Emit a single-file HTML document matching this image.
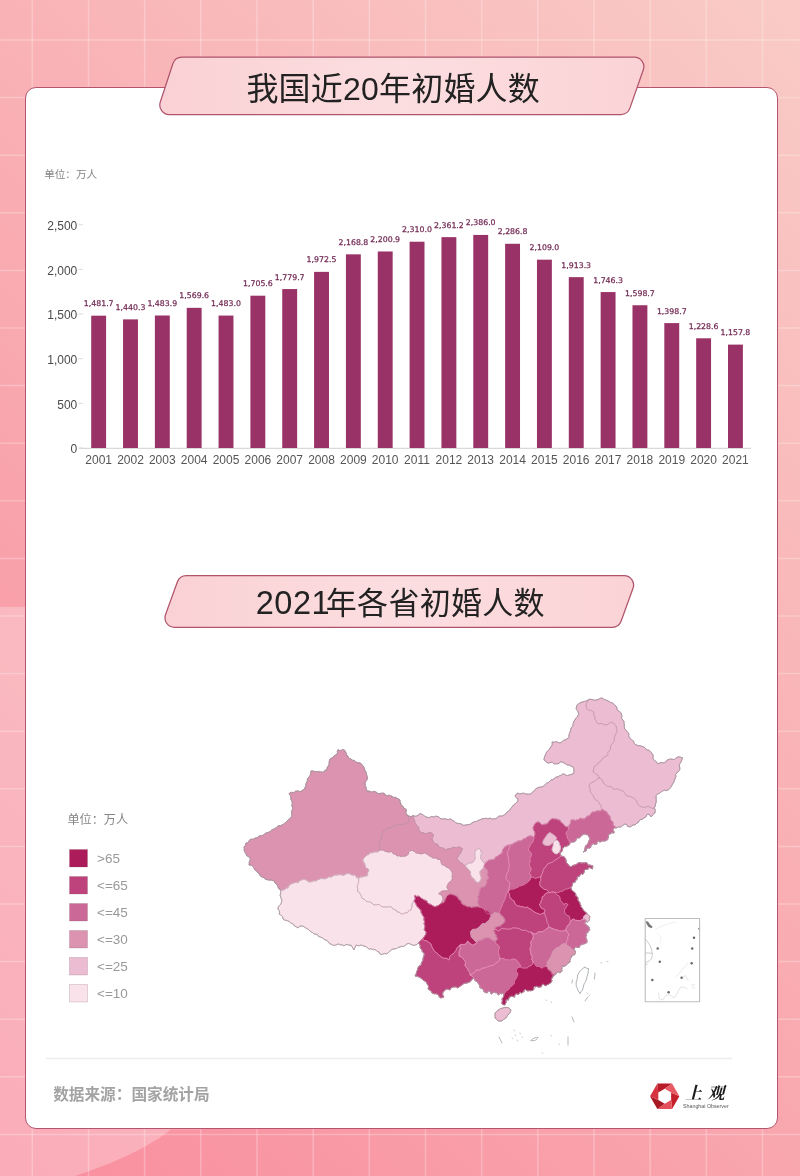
<!DOCTYPE html>
<html lang="zh"><head><meta charset="utf-8"><title>我国近20年初婚人数</title>
<style>
html,body{margin:0;padding:0}
body{width:800px;height:1176px;position:relative;overflow:hidden;background:#f9b4b7;font-family:"Liberation Sans","Noto Sans CJK SC",sans-serif}
#bg{position:absolute;left:0;top:0;width:800px;height:1176px;background:linear-gradient(224deg,rgb(249,203,198) 0%,rgb(249,142,158) 100%)}
#ov{position:absolute;left:0;top:0;width:800px;height:1176px}
#card{position:absolute;left:25px;top:87px;width:751.4px;height:1040.2px;border:1.5px solid #b4546e;border-radius:11px;background:#fff}
#main{position:absolute;left:0;top:0}
.cj{font-family:"Liberation Sans","Noto Sans CJK SC",sans-serif}
.dv{font-family:"DejaVu Sans","Liberation Sans",sans-serif}
.sf{font-family:"Liberation Serif","Noto Serif CJK SC",serif}
</style></head><body>
<div id="bg"></div>
<svg id="ov" width="800" height="1176" viewBox="0 0 800 1176">
<path d="M0 607 H200 V1129.5 H171 C150 1146 120 1161 75 1176 H0Z" fill="#fff" fill-opacity="0.27"/>
<g stroke="#fff" stroke-opacity="0.26" stroke-width="1.5">
<line x1="32.3" x2="32.3" y1="0" y2="1176"/>
<line x1="88.5" x2="88.5" y1="0" y2="1176"/>
<line x1="144.6" x2="144.6" y1="0" y2="1176"/>
<line x1="200.8" x2="200.8" y1="0" y2="1176"/>
<line x1="257.0" x2="257.0" y1="0" y2="1176"/>
<line x1="313.2" x2="313.2" y1="0" y2="1176"/>
<line x1="369.3" x2="369.3" y1="0" y2="1176"/>
<line x1="425.5" x2="425.5" y1="0" y2="1176"/>
<line x1="481.7" x2="481.7" y1="0" y2="1176"/>
<line x1="537.8" x2="537.8" y1="0" y2="1176"/>
<line x1="594.0" x2="594.0" y1="0" y2="1176"/>
<line x1="650.2" x2="650.2" y1="0" y2="1176"/>
<line x1="706.3" x2="706.3" y1="0" y2="1176"/>
<line x1="762.5" x2="762.5" y1="0" y2="1176"/>
<line y1="40.0" y2="40.0" x1="0" x2="800"/>
<line y1="97.6" y2="97.6" x1="0" x2="800"/>
<line y1="155.2" y2="155.2" x1="0" x2="800"/>
<line y1="212.8" y2="212.8" x1="0" x2="800"/>
<line y1="270.4" y2="270.4" x1="0" x2="800"/>
<line y1="328.0" y2="328.0" x1="0" x2="800"/>
<line y1="385.6" y2="385.6" x1="0" x2="800"/>
<line y1="443.2" y2="443.2" x1="0" x2="800"/>
<line y1="500.8" y2="500.8" x1="0" x2="800"/>
<line y1="558.4" y2="558.4" x1="0" x2="800"/>
<line y1="616.0" y2="616.0" x1="0" x2="800"/>
<line y1="673.6" y2="673.6" x1="0" x2="800"/>
<line y1="731.2" y2="731.2" x1="0" x2="800"/>
<line y1="788.8" y2="788.8" x1="0" x2="800"/>
<line y1="846.4" y2="846.4" x1="0" x2="800"/>
<line y1="904.0" y2="904.0" x1="0" x2="800"/>
<line y1="961.6" y2="961.6" x1="0" x2="800"/>
<line y1="1019.2" y2="1019.2" x1="0" x2="800"/>
<line y1="1076.8" y2="1076.8" x1="0" x2="800"/>
<line y1="1134.4" y2="1134.4" x1="0" x2="800"/>
</g>
</svg>
<div id="card"></div>
<svg id="main" width="800" height="1176" viewBox="0 0 800 1176">
<defs><linearGradient id="tg" x1="0" x2="1" y1="0" y2="0"><stop offset="0" stop-color="#fad1d4"/><stop offset="0.5" stop-color="#fcdee0"/><stop offset="1" stop-color="#fbd3d6"/></linearGradient></defs>
<path d="M172.85 63.74 A9.5 9.5 0 0 1 181.88 57.20 L634.32 57.20 A9.5 9.5 0 0 1 643.29 69.83 L629.92 108.13 A9.5 9.5 0 0 1 620.95 114.50 L169.32 114.50 A9.5 9.5 0 0 1 160.29 102.04 Z" fill="url(#tg)" stroke="#b0546c" stroke-width="1.25"/>
<path d="M177.43 581.77 A9.5 9.5 0 0 1 186.37 575.50 L624.07 575.50 A9.5 9.5 0 0 1 633.01 588.23 L621.17 621.03 A9.5 9.5 0 0 1 612.23 627.30 L174.53 627.30 A9.5 9.5 0 0 1 165.59 614.57 Z" fill="url(#tg)" stroke="#b0546c" stroke-width="1.25"/>
<text x="393.2" y="100" text-anchor="middle" font-size="32" letter-spacing="0.2" fill="#222" class="cj">我国近20年初婚人数</text>
<text x="255.8" y="614" font-size="32.5" letter-spacing="0.5" fill="#222" class="cj">2021<tspan x="325.8" font-size="31" letter-spacing="0.3">年各省初婚人数</tspan></text>
<text x="44.2" y="178" font-size="10.6" fill="#858585" class="cj">单位：万人</text>
<line x1="79" x2="751" y1="448.3" y2="448.3" stroke="#d0d0d0" stroke-width="1"/>
<line x1="78.5" x2="83" y1="448.0" y2="448.0" stroke="#dcdcdc" stroke-width="1"/>
<text x="77.3" y="453.2" text-anchor="end" font-size="12" fill="#4a4a4a" class="cj">0</text>
<line x1="78.5" x2="83" y1="403.4" y2="403.4" stroke="#dcdcdc" stroke-width="1"/>
<text x="77.3" y="408.6" text-anchor="end" font-size="12" fill="#4a4a4a" class="cj">500</text>
<line x1="78.5" x2="83" y1="358.7" y2="358.7" stroke="#dcdcdc" stroke-width="1"/>
<text x="77.3" y="363.9" text-anchor="end" font-size="12" fill="#4a4a4a" class="cj">1,000</text>
<line x1="78.5" x2="83" y1="314.0" y2="314.0" stroke="#dcdcdc" stroke-width="1"/>
<text x="77.3" y="319.2" text-anchor="end" font-size="12" fill="#4a4a4a" class="cj">1,500</text>
<line x1="78.5" x2="83" y1="269.4" y2="269.4" stroke="#dcdcdc" stroke-width="1"/>
<text x="77.3" y="274.6" text-anchor="end" font-size="12" fill="#4a4a4a" class="cj">2,000</text>
<line x1="78.5" x2="83" y1="224.8" y2="224.8" stroke="#dcdcdc" stroke-width="1"/>
<text x="77.3" y="229.9" text-anchor="end" font-size="12" fill="#4a4a4a" class="cj">2,500</text>
<rect x="91.20" y="315.68" width="14.90" height="132.32" fill="#993367"/>
<text x="98.7" y="306.2" text-anchor="middle" font-size="7.8" fill="#732a55" stroke="#732a55" stroke-width="0.25" class="dv">1,481.7</text>
<text x="98.7" y="464.4" text-anchor="middle" font-size="12" fill="#555" class="cj">2001</text>
<rect x="123.04" y="319.38" width="14.90" height="128.62" fill="#993367"/>
<text x="130.5" y="309.9" text-anchor="middle" font-size="7.8" fill="#732a55" stroke="#732a55" stroke-width="0.25" class="dv">1,440.3</text>
<text x="130.5" y="464.4" text-anchor="middle" font-size="12" fill="#555" class="cj">2002</text>
<rect x="154.88" y="315.49" width="14.90" height="132.51" fill="#993367"/>
<text x="162.3" y="306.0" text-anchor="middle" font-size="7.8" fill="#732a55" stroke="#732a55" stroke-width="0.25" class="dv">1,483.9</text>
<text x="162.3" y="464.4" text-anchor="middle" font-size="12" fill="#555" class="cj">2003</text>
<rect x="186.72" y="307.83" width="14.90" height="140.17" fill="#993367"/>
<text x="194.2" y="298.3" text-anchor="middle" font-size="7.8" fill="#732a55" stroke="#732a55" stroke-width="0.25" class="dv">1,569.6</text>
<text x="194.2" y="464.4" text-anchor="middle" font-size="12" fill="#555" class="cj">2004</text>
<rect x="218.56" y="315.57" width="14.90" height="132.43" fill="#993367"/>
<text x="226.0" y="306.1" text-anchor="middle" font-size="7.8" fill="#732a55" stroke="#732a55" stroke-width="0.25" class="dv">1,483.0</text>
<text x="226.0" y="464.4" text-anchor="middle" font-size="12" fill="#555" class="cj">2005</text>
<rect x="250.40" y="295.69" width="14.90" height="152.31" fill="#993367"/>
<text x="257.9" y="286.2" text-anchor="middle" font-size="7.8" fill="#732a55" stroke="#732a55" stroke-width="0.25" class="dv">1,705.6</text>
<text x="257.9" y="464.4" text-anchor="middle" font-size="12" fill="#555" class="cj">2006</text>
<rect x="282.24" y="289.07" width="14.90" height="158.93" fill="#993367"/>
<text x="289.7" y="279.6" text-anchor="middle" font-size="7.8" fill="#732a55" stroke="#732a55" stroke-width="0.25" class="dv">1,779.7</text>
<text x="289.7" y="464.4" text-anchor="middle" font-size="12" fill="#555" class="cj">2007</text>
<rect x="314.08" y="271.86" width="14.90" height="176.14" fill="#993367"/>
<text x="321.5" y="262.4" text-anchor="middle" font-size="7.8" fill="#732a55" stroke="#732a55" stroke-width="0.25" class="dv">1,972.5</text>
<text x="321.5" y="464.4" text-anchor="middle" font-size="12" fill="#555" class="cj">2008</text>
<rect x="345.92" y="254.33" width="14.90" height="193.67" fill="#993367"/>
<text x="353.4" y="244.8" text-anchor="middle" font-size="7.8" fill="#732a55" stroke="#732a55" stroke-width="0.25" class="dv">2,168.8</text>
<text x="353.4" y="464.4" text-anchor="middle" font-size="12" fill="#555" class="cj">2009</text>
<rect x="377.76" y="251.46" width="14.90" height="196.54" fill="#993367"/>
<text x="385.2" y="242.0" text-anchor="middle" font-size="7.8" fill="#732a55" stroke="#732a55" stroke-width="0.25" class="dv">2,200.9</text>
<text x="385.2" y="464.4" text-anchor="middle" font-size="12" fill="#555" class="cj">2010</text>
<rect x="409.60" y="241.72" width="14.90" height="206.28" fill="#993367"/>
<text x="417.0" y="232.2" text-anchor="middle" font-size="7.8" fill="#732a55" stroke="#732a55" stroke-width="0.25" class="dv">2,310.0</text>
<text x="417.0" y="464.4" text-anchor="middle" font-size="12" fill="#555" class="cj">2011</text>
<rect x="441.44" y="237.14" width="14.90" height="210.86" fill="#993367"/>
<text x="448.9" y="227.6" text-anchor="middle" font-size="7.8" fill="#732a55" stroke="#732a55" stroke-width="0.25" class="dv">2,361.2</text>
<text x="448.9" y="464.4" text-anchor="middle" font-size="12" fill="#555" class="cj">2012</text>
<rect x="473.28" y="234.93" width="14.90" height="213.07" fill="#993367"/>
<text x="480.7" y="225.4" text-anchor="middle" font-size="7.8" fill="#732a55" stroke="#732a55" stroke-width="0.25" class="dv">2,386.0</text>
<text x="480.7" y="464.4" text-anchor="middle" font-size="12" fill="#555" class="cj">2013</text>
<rect x="505.12" y="243.79" width="14.90" height="204.21" fill="#993367"/>
<text x="512.6" y="234.3" text-anchor="middle" font-size="7.8" fill="#732a55" stroke="#732a55" stroke-width="0.25" class="dv">2,286.8</text>
<text x="512.6" y="464.4" text-anchor="middle" font-size="12" fill="#555" class="cj">2014</text>
<rect x="536.96" y="259.67" width="14.90" height="188.33" fill="#993367"/>
<text x="544.4" y="250.2" text-anchor="middle" font-size="7.8" fill="#732a55" stroke="#732a55" stroke-width="0.25" class="dv">2,109.0</text>
<text x="544.4" y="464.4" text-anchor="middle" font-size="12" fill="#555" class="cj">2015</text>
<rect x="568.80" y="277.14" width="14.90" height="170.86" fill="#993367"/>
<text x="576.2" y="267.6" text-anchor="middle" font-size="7.8" fill="#732a55" stroke="#732a55" stroke-width="0.25" class="dv">1,913.3</text>
<text x="576.2" y="464.4" text-anchor="middle" font-size="12" fill="#555" class="cj">2016</text>
<rect x="600.64" y="292.06" width="14.90" height="155.94" fill="#993367"/>
<text x="608.1" y="282.6" text-anchor="middle" font-size="7.8" fill="#732a55" stroke="#732a55" stroke-width="0.25" class="dv">1,746.3</text>
<text x="608.1" y="464.4" text-anchor="middle" font-size="12" fill="#555" class="cj">2017</text>
<rect x="632.48" y="305.24" width="14.90" height="142.76" fill="#993367"/>
<text x="639.9" y="295.7" text-anchor="middle" font-size="7.8" fill="#732a55" stroke="#732a55" stroke-width="0.25" class="dv">1,598.7</text>
<text x="639.9" y="464.4" text-anchor="middle" font-size="12" fill="#555" class="cj">2018</text>
<rect x="664.32" y="323.10" width="14.90" height="124.90" fill="#993367"/>
<text x="671.8" y="313.6" text-anchor="middle" font-size="7.8" fill="#732a55" stroke="#732a55" stroke-width="0.25" class="dv">1,398.7</text>
<text x="671.8" y="464.4" text-anchor="middle" font-size="12" fill="#555" class="cj">2019</text>
<rect x="696.16" y="338.29" width="14.90" height="109.71" fill="#993367"/>
<text x="703.6" y="328.8" text-anchor="middle" font-size="7.8" fill="#732a55" stroke="#732a55" stroke-width="0.25" class="dv">1,228.6</text>
<text x="703.6" y="464.4" text-anchor="middle" font-size="12" fill="#555" class="cj">2020</text>
<rect x="728.00" y="344.61" width="14.90" height="103.39" fill="#993367"/>
<text x="735.4" y="335.1" text-anchor="middle" font-size="7.8" fill="#732a55" stroke="#732a55" stroke-width="0.25" class="dv">1,157.8</text>
<text x="735.4" y="464.4" text-anchor="middle" font-size="12" fill="#555" class="cj">2021</text>
<text x="67.5" y="824.2" font-size="12.1" fill="#858585" class="cj">单位：万人</text>
<rect x="69.5" y="849.5" width="18" height="17.5" fill="#ac1c5b" stroke="#7c5468" stroke-opacity="0.3" stroke-width="0.7"/>
<text x="97" y="863.3" font-size="13.5" fill="#999" class="cj">>65</text>
<rect x="69.5" y="876.5" width="18" height="17.5" fill="#be427b" stroke="#7c5468" stroke-opacity="0.3" stroke-width="0.7"/>
<text x="97" y="890.3" font-size="13.5" fill="#999" class="cj"><=65</text>
<rect x="69.5" y="903.5" width="18" height="17.5" fill="#cc6898" stroke="#7c5468" stroke-opacity="0.3" stroke-width="0.7"/>
<text x="97" y="917.3" font-size="13.5" fill="#999" class="cj"><=45</text>
<rect x="69.5" y="930.5" width="18" height="17.5" fill="#db93b0" stroke="#7c5468" stroke-opacity="0.3" stroke-width="0.7"/>
<text x="97" y="944.3" font-size="13.5" fill="#999" class="cj"><=30</text>
<rect x="69.5" y="957.5" width="18" height="17.5" fill="#ecbcd2" stroke="#7c5468" stroke-opacity="0.3" stroke-width="0.7"/>
<text x="97" y="971.3" font-size="13.5" fill="#999" class="cj"><=25</text>
<rect x="69.5" y="984.5" width="18" height="17.5" fill="#f9e2ea" stroke="#7c5468" stroke-opacity="0.3" stroke-width="0.7"/>
<text x="97" y="998.3" font-size="13.5" fill="#999" class="cj"><=10</text>
<line x1="46" x2="732" y1="1058.5" y2="1058.5" stroke="#ececec" stroke-width="1.5"/>
<text x="53.2" y="1099.5" font-size="15.65" font-weight="700" fill="#a3a3a3" class="cj">数据来源：国家统计局</text>
<g id="map" stroke-linejoin="round">
<path d="M413.0 815.6L415.0 816.3L416.3 816.1L417.9 815.4L419.8 813.8L421.6 814.1L423.2 814.8L424.7 816.3L426.0 817.0L428.4 817.5L429.9 817.4L431.4 816.5L433.5 816.9L434.9 816.8L436.0 816.0L437.3 816.5L438.6 816.7L439.6 817.6L440.7 818.8L443.1 819.0L444.5 818.6L446.0 819.0L448.3 819.7L449.5 819.0L451.5 819.3L452.3 820.5L454.3 821.2L456.0 823.0L458.3 823.5L459.9 823.6L461.4 824.2L463.2 825.3L464.7 825.2L466.0 825.0L468.6 824.6L470.6 824.1L472.0 823.0L474.1 821.8L476.7 821.4L478.1 820.4L480.0 820.0L482.1 818.7L484.6 818.5L486.6 818.2L488.0 818.9L490.0 818.0L491.7 819.1L493.5 818.9L495.9 818.7L497.6 817.5L498.4 816.3L500.0 816.0L501.9 816.1L503.1 815.6L504.2 814.9L505.7 813.8L507.0 812.0L508.8 811.1L509.8 810.0L510.7 808.6L512.0 807.0L513.6 804.9L515.0 804.0L516.0 802.8L517.8 801.5L518.0 799.0L516.1 797.6L515.0 796.0L516.2 794.2L518.0 793.0L519.4 793.9L521.3 793.8L523.3 793.0L524.8 793.7L526.0 794.0L528.3 794.2L530.6 794.1L532.4 792.2L534.0 791.0L535.1 789.5L537.0 788.0L538.7 787.4L540.1 787.1L541.7 786.9L544.0 786.0L545.4 784.2L546.5 783.2L548.2 782.8L550.0 781.0L551.0 779.9L553.1 779.8L554.6 778.0L556.5 776.9L558.0 777.0L559.4 775.7L560.8 775.5L562.5 774.2L564.0 774.0L564.9 774.5L566.3 775.3L567.7 775.6L569.0 775.0L570.6 774.6L573.0 774.0L573.9 772.1L574.0 770.0L573.6 768.2L573.1 767.0L571.8 766.3L570.5 765.8L569.0 765.0L566.8 764.8L565.2 763.5L564.0 763.0L561.8 761.8L560.0 762.0L559.3 763.2L557.6 763.8L555.6 763.8L554.0 764.0L552.5 762.4L550.9 762.3L549.6 762.8L548.0 763.0L546.2 762.1L545.1 760.7L544.0 760.0L544.3 757.9L544.7 756.1L546.0 754.0L546.4 752.3L547.6 751.1L549.1 749.6L550.0 748.0L550.8 746.8L552.0 745.6L552.3 743.7L552.0 742.0L554.4 742.3L556.2 741.6L558.4 742.5L560.0 743.0L561.4 742.2L562.3 741.7L563.6 740.2L565.0 740.0L567.0 738.8L568.2 738.0L569.1 736.4L568.9 734.7L569.4 733.7L570.0 732.0L570.8 729.8L570.9 728.0L571.7 727.2L573.0 726.0L572.9 724.6L573.5 722.8L573.8 721.2L575.0 720.0L575.6 718.3L577.6 716.7L577.8 715.2L579.0 714.0L578.3 713.0L578.0 711.3L576.9 709.9L576.0 709.0L576.5 707.2L576.8 705.3L578.6 703.8L580.0 703.0L581.7 702.1L582.9 702.0L584.4 701.4L586.3 701.0L588.0 700.0L587.8 701.7L586.7 702.6L586.0 705.0L586.4 707.3L586.6 708.8L588.0 710.0L589.6 710.3L590.8 710.2L592.6 711.6L594.0 712.0L593.9 713.7L593.7 715.0L594.8 716.7L595.0 718.0L595.0 719.6L596.5 721.2L596.6 722.6L598.0 724.0L600.1 723.4L602.4 723.8L604.0 724.4L606.0 725.0L607.4 724.5L609.0 723.5L610.5 722.5L612.0 722.0L612.9 723.0L614.0 723.7L615.0 724.6L616.0 726.0L616.6 728.4L616.8 730.4L617.0 732.0L616.0 733.3L615.3 734.8L614.7 736.8L614.0 738.0L614.5 739.1L614.2 740.8L613.5 742.6L612.0 744.0L611.1 745.0L610.2 747.1L610.6 748.9L610.0 750.0L609.2 751.0L607.8 752.4L608.0 754.4L607.0 756.0L604.6 756.6L603.8 757.9L602.0 759.0L601.1 760.2L600.3 761.8L598.9 762.0L598.0 763.0L597.5 764.4L596.1 765.3L594.9 765.9L594.0 767.0L593.7 768.5L593.5 769.8L593.0 772.0L594.3 772.5L595.1 773.6L596.7 774.3L598.0 775.0L598.6 777.1L600.0 778.0L598.5 778.0L597.0 779.0L596.3 780.0L595.1 781.1L593.0 782.0L590.7 782.9L590.1 784.4L589.0 785.0L589.4 786.9L590.3 788.9L590.1 790.4L590.0 792.0L591.0 793.0L592.3 794.3L593.7 796.1L594.0 798.0L595.1 799.8L596.8 800.4L598.3 801.6L599.0 803.0L599.9 804.0L600.8 805.5L601.1 807.6L602.0 809.0L601.3 810.4L600.0 811.0L598.6 810.9L597.3 810.6L595.8 811.4L594.7 811.9L593.0 811.7L592.1 812.3L591.1 813.3L590.0 815.0L588.9 816.0L587.1 815.9L585.7 817.8L584.5 818.7L582.6 818.9L581.2 818.2L580.0 818.0L578.6 819.8L577.1 819.6L575.6 820.4L573.2 819.7L571.0 820.0L570.5 821.8L570.5 823.2L569.0 825.3L569.0 827.0L567.6 826.9L565.9 826.8L564.0 825.0L562.8 823.5L561.4 822.5L560.3 821.2L560.0 820.0L558.3 820.0L556.5 819.1L554.0 819.0L552.2 818.7L550.7 819.7L549.1 821.0L548.0 823.0L546.3 824.1L544.8 824.2L543.1 824.5L542.0 825.0L540.9 823.8L539.5 822.3L537.0 822.0L535.6 823.2L534.4 824.3L534.0 826.1L533.0 827.0L533.2 828.4L533.7 830.7L534.6 831.6L535.0 833.0L534.9 834.6L534.0 837.0L532.0 836.3L530.4 835.8L529.1 836.1L527.7 836.5L526.0 838.0L524.5 838.8L523.1 838.9L521.5 840.7L519.6 840.8L518.0 841.0L516.3 842.1L514.7 842.6L513.6 843.4L512.5 844.1L511.3 844.4L510.0 845.0L508.1 845.0L506.2 846.1L504.9 846.6L504.0 848.0L502.7 849.4L502.4 850.8L502.1 853.0L500.7 853.8L499.4 854.6L498.0 856.0L495.6 856.9L494.8 858.7L493.4 859.6L492.1 859.6L490.0 860.0L488.7 860.2L487.6 861.0L486.3 862.4L485.0 863.5L483.5 862.5L482.5 861.0L481.2 859.2L480.6 857.5L481.0 856.2L480.8 854.8L482.0 853.5L480.9 852.2L481.0 850.0L479.5 849.2L478.8 848.0L477.6 849.3L476.0 850.0L475.1 851.2L475.0 853.0L474.7 854.9L475.0 857.0L475.2 858.8L474.0 860.6L472.7 862.5L471.0 863.0L469.5 862.9L467.5 864.0L466.2 864.9L465.0 865.6L463.8 864.9L462.5 863.7L460.8 862.8L459.9 862.0L458.7 861.0L457.5 859.6L457.0 858.0L458.5 856.4L458.7 855.0L460.3 853.7L461.0 852.0L461.7 850.5L462.5 848.7L461.2 848.1L460.0 847.0L458.6 846.8L457.0 847.8L455.0 847.5L452.7 847.3L451.3 848.3L450.0 848.7L447.8 848.6L446.0 850.0L444.3 849.0L442.6 847.8L441.5 847.7L440.0 847.5L438.6 846.6L437.9 844.5L436.6 844.1L435.0 843.7L433.4 842.0L432.5 840.0L432.3 838.4L432.6 837.3L433.7 835.0L432.1 833.3L430.0 832.5L428.1 832.6L427.2 833.5L425.0 833.7L422.8 832.5L421.0 832.7L419.8 831.1L419.0 830.0L418.6 828.5L418.8 827.2L417.0 826.2L416.0 824.0L414.8 822.7L414.7 820.7L413.8 819.0L413.5 817.8Z" fill="#ecbcd2" stroke="#ecbcd2" stroke-width="0.9"><title>内蒙古</title></path>
<path d="M588.0 700.0L589.4 699.2L591.0 699.3L592.8 699.8L595.1 700.3L596.8 699.9L598.0 699.7L600.0 698.4L601.5 698.1L602.7 698.3L604.3 699.5L606.4 700.3L608.0 701.0L609.4 701.6L610.5 702.5L612.5 702.8L613.1 703.6L614.4 704.7L616.0 706.0L616.9 707.7L616.9 709.1L618.2 710.7L620.0 712.0L621.1 712.9L621.6 714.9L621.9 716.5L621.4 717.9L622.0 719.0L623.0 720.0L624.0 721.7L623.9 723.2L624.4 724.3L624.2 726.1L624.5 727.9L624.7 729.0L626.0 730.0L627.3 731.9L628.7 733.2L628.8 734.7L628.6 736.0L630.0 738.0L631.3 739.5L632.3 740.2L633.6 741.1L634.0 743.0L635.3 744.6L636.5 744.9L638.0 745.7L640.1 745.7L641.7 746.3L644.0 747.0L645.6 748.4L646.3 749.7L647.9 750.2L649.1 750.2L651.0 752.0L651.8 753.6L653.2 754.8L652.9 757.2L653.1 758.9L654.0 760.0L655.2 761.0L656.3 761.6L657.2 763.1L658.0 764.0L659.2 763.3L661.0 762.4L662.3 762.6L664.0 763.0L664.8 762.2L666.3 761.5L667.4 759.8L668.7 759.6L670.0 759.0L672.4 759.3L674.4 759.5L676.0 758.0L678.0 757.0L679.8 757.0L681.3 757.5L682.4 757.6L681.9 759.8L681.0 762.0L680.0 763.5L679.3 764.6L679.6 766.9L679.8 768.1L679.7 769.9L679.0 770.8L678.0 772.0L676.8 772.9L675.5 774.6L676.0 776.2L675.5 777.4L674.9 779.2L674.3 780.5L674.0 782.0L673.1 783.0L672.3 784.6L671.6 786.0L670.9 787.1L669.5 788.9L668.0 790.0L666.1 790.6L664.6 790.1L663.5 790.6L661.2 791.8L660.0 793.0L658.6 793.7L657.5 794.1L656.2 795.4L656.0 797.0L656.2 799.6L656.2 801.1L656.0 803.0L655.4 804.1L655.4 806.1L654.0 808.0L652.7 808.5L650.8 807.7L649.4 806.9L648.0 806.0L646.5 806.9L644.4 807.4L642.0 807.0L639.7 806.0L638.5 804.7L637.3 803.4L637.0 802.0L635.9 800.1L634.7 798.7L633.0 798.1L632.0 797.0L630.3 796.6L628.4 796.3L627.0 795.8L626.0 795.0L624.8 793.8L624.2 792.4L622.9 791.0L621.4 790.6L620.0 790.0L618.2 789.1L616.6 788.8L615.2 789.4L614.0 789.0L612.5 788.4L611.5 786.9L609.3 786.4L608.0 787.0L607.1 786.2L605.6 784.9L604.2 784.0L603.0 782.0L602.4 780.0L600.9 779.4L600.0 778.0L598.6 777.1L598.0 775.0L596.7 774.3L595.1 773.6L594.3 772.5L593.0 772.0L593.5 769.8L593.7 768.5L594.0 767.0L594.9 765.9L596.1 765.3L597.5 764.4L598.0 763.0L598.9 762.0L600.3 761.8L601.1 760.2L602.0 759.0L603.8 757.9L604.6 756.6L607.0 756.0L608.0 754.4L607.8 752.4L609.2 751.0L610.0 750.0L610.6 748.9L610.2 747.1L611.1 745.0L612.0 744.0L613.5 742.6L614.2 740.8L614.5 739.1L614.0 738.0L614.7 736.8L615.3 734.8L616.0 733.3L617.0 732.0L616.8 730.4L616.6 728.4L616.0 726.0L615.0 724.6L614.0 723.7L612.9 723.0L612.0 722.0L610.5 722.5L609.0 723.5L607.4 724.5L606.0 725.0L604.0 724.4L602.4 723.8L600.1 723.4L598.0 724.0L596.6 722.6L596.5 721.2L595.0 719.6L595.0 718.0L594.8 716.7L593.7 715.0L593.9 713.7L594.0 712.0L592.6 711.6L590.8 710.2L589.6 710.3L588.0 710.0L586.6 708.8L586.4 707.3L586.0 705.0L586.7 702.6L587.8 701.7Z" fill="#ecbcd2" stroke="#ecbcd2" stroke-width="0.9"><title>黑龙江</title></path>
<path d="M600.0 778.0L600.9 779.4L602.4 780.0L603.0 782.0L604.2 784.0L605.6 784.9L607.1 786.2L608.0 787.0L609.3 786.4L611.5 786.9L612.5 788.4L614.0 789.0L615.2 789.4L616.6 788.8L618.2 789.1L620.0 790.0L621.4 790.6L622.9 791.0L624.2 792.4L624.8 793.8L626.0 795.0L627.0 795.8L628.4 796.3L630.3 796.6L632.0 797.0L633.0 798.1L634.7 798.7L635.9 800.1L637.0 802.0L637.3 803.4L638.5 804.7L639.7 806.0L642.0 807.0L644.4 807.4L646.5 806.9L648.0 806.0L649.4 806.9L650.8 807.7L652.7 808.5L654.0 808.0L655.0 808.9L655.2 810.5L655.0 813.0L653.7 813.8L652.7 815.2L651.0 817.0L650.1 815.1L648.0 814.0L646.8 815.0L646.1 816.7L644.0 818.0L642.2 819.3L640.0 819.7L639.0 821.0L638.5 822.3L636.8 823.1L635.0 825.0L633.1 824.9L631.8 825.9L630.0 827.0L627.5 826.3L627.1 825.0L626.0 824.0L624.5 824.3L622.8 825.3L621.6 826.6L620.0 827.0L618.3 827.1L616.0 828.0L614.6 825.9L613.0 825.0L613.2 823.5L613.0 822.0L611.8 820.8L610.8 819.8L610.2 818.0L610.0 816.0L608.7 815.2L607.3 813.1L606.8 811.9L605.0 811.0L603.7 810.3L602.0 809.0L601.1 807.6L600.8 805.5L599.9 804.0L599.0 803.0L598.3 801.6L596.8 800.4L595.1 799.8L594.0 798.0L593.7 796.1L592.3 794.3L591.0 793.0L590.0 792.0L590.1 790.4L590.3 788.9L589.4 786.9L589.0 785.0L590.1 784.4L590.7 782.9L593.0 782.0L595.1 781.1L596.3 780.0L597.0 779.0L598.5 778.0Z" fill="#ecbcd2" stroke="#ecbcd2" stroke-width="0.9"><title>吉林</title></path>
<path d="M602.0 809.0L603.7 810.3L605.0 811.0L606.8 811.9L607.3 813.1L608.7 815.2L610.0 816.0L610.2 818.0L610.8 819.8L611.8 820.8L613.0 822.0L613.2 823.5L613.0 825.0L614.6 825.9L616.0 828.0L614.7 827.7L614.0 828.5L613.1 828.9L612.9 830.0L613.1 831.0L614.1 831.5L614.0 833.0L612.8 833.1L612.2 832.6L610.9 833.0L610.3 834.1L608.9 834.1L608.4 835.3L608.1 836.6L609.0 837.0L608.2 837.8L607.8 838.5L607.8 839.6L606.4 840.3L605.0 841.0L603.8 841.0L603.0 841.0L602.0 840.9L600.9 841.8L599.3 842.0L598.7 840.7L597.8 841.3L597.2 841.7L596.9 842.7L597.0 844.0L595.4 844.2L594.2 844.5L593.4 843.6L592.4 844.1L591.6 845.3L590.6 845.4L591.0 847.0L590.3 847.9L589.6 848.1L588.3 848.0L587.4 847.9L586.8 849.0L585.7 848.9L586.5 850.0L586.0 851.0L584.8 851.3L584.0 851.5L583.0 852.0L584.6 850.8L584.7 849.1L585.0 848.0L585.6 845.7L586.7 845.0L588.0 844.0L588.4 841.9L589.0 840.6L590.0 839.0L589.2 837.1L588.0 835.0L586.3 834.5L584.0 834.0L582.4 834.8L581.4 836.1L580.1 837.3L579.0 838.0L577.3 838.0L576.3 838.8L575.8 840.8L574.0 842.0L571.5 842.0L570.0 843.0L569.3 841.2L568.6 839.8L567.0 838.0L567.4 835.9L566.2 834.3L566.0 833.0L566.8 831.9L568.0 830.4L568.5 828.9L569.0 827.0L569.0 825.3L570.5 823.2L570.5 821.8L571.0 820.0L573.2 819.7L575.6 820.4L577.1 819.6L578.6 819.8L580.0 818.0L581.2 818.2L582.6 818.9L584.5 818.7L585.7 817.8L587.1 815.9L588.9 816.0L590.0 815.0L591.1 813.3L592.1 812.3L593.0 811.7L594.7 811.9L595.8 811.4L597.3 810.6L598.6 810.9L600.0 811.0L601.3 810.4Z" fill="#cc6898" stroke="#cc6898" stroke-width="0.9"><title>辽宁</title></path>
<path d="M338.0 749.6L339.4 750.5L341.4 750.3L342.4 749.7L344.0 749.6L345.1 751.1L345.7 752.0L346.2 753.6L346.0 755.0L347.6 755.7L348.1 756.9L349.0 758.3L351.0 759.0L352.3 760.2L354.3 760.5L356.0 762.0L357.2 762.7L359.3 762.8L360.8 763.3L362.0 765.0L363.2 765.9L364.1 767.7L364.7 770.1L366.0 772.0L366.2 774.0L366.7 775.0L367.2 776.4L367.5 777.8L367.0 780.0L365.8 781.1L365.0 783.3L365.3 784.7L365.0 786.0L365.9 786.7L366.2 788.4L366.4 789.5L367.0 791.0L368.4 791.0L370.1 791.5L372.0 792.2L373.6 791.4L376.0 792.0L377.9 793.5L379.6 793.6L381.3 793.2L382.7 793.4L384.0 793.0L385.4 794.9L387.0 795.7L389.3 795.2L390.6 796.0L392.0 796.0L393.4 797.4L395.1 797.2L396.4 798.0L398.6 799.0L400.0 800.0L399.9 801.5L400.5 802.6L400.9 804.2L402.0 806.0L403.2 806.6L403.9 808.2L406.2 809.4L406.3 810.9L405.7 813.0L407.0 815.0L408.2 816.5L408.5 817.6L409.0 819.0L408.4 820.0L408.7 821.8L407.5 822.8L406.0 824.0L404.6 823.8L403.4 824.3L401.9 824.7L400.2 824.3L398.6 824.4L397.6 825.0L396.0 826.0L394.7 825.6L392.7 826.4L391.5 827.6L390.4 827.8L388.0 827.8L386.0 829.0L384.7 830.9L382.8 831.4L382.5 833.1L382.3 834.3L381.0 836.0L381.6 837.5L381.4 840.0L379.9 841.2L379.4 842.8L379.0 844.0L379.6 846.3L379.4 847.8L380.0 850.0L379.0 851.3L377.9 851.9L376.0 852.0L374.0 852.0L372.4 852.9L370.8 852.7L369.8 853.2L368.8 854.5L367.0 855.0L365.4 856.6L364.4 857.6L363.0 859.0L363.3 861.5L364.0 862.6L365.0 864.0L365.1 865.4L365.6 867.3L366.9 868.4L368.0 868.7L369.0 870.0L368.4 871.6L367.5 872.7L367.8 874.3L367.0 876.0L364.8 876.2L363.1 876.8L362.0 877.0L360.3 877.2L359.0 878.0L356.5 877.6L355.8 875.8L354.0 875.0L352.4 875.2L351.0 874.7L349.2 873.4L347.5 873.6L346.0 874.0L344.1 875.2L342.4 875.3L341.2 874.7L339.9 874.5L338.0 875.0L336.0 875.1L333.8 875.3L332.1 876.8L330.0 877.0L328.3 877.0L327.4 877.9L325.9 878.5L324.0 879.0L321.6 878.3L319.9 879.1L318.1 879.7L316.0 881.0L314.4 880.9L312.7 881.2L311.0 881.9L309.0 882.0L307.2 880.8L306.0 880.0L303.9 879.2L302.3 879.8L301.3 880.1L299.2 880.9L298.0 883.0L296.6 882.2L294.7 882.7L293.2 883.2L291.0 884.0L289.9 884.8L288.7 886.0L288.0 888.0L286.0 888.2L284.2 889.8L282.5 890.3L281.0 890.0L279.0 889.0L277.9 886.7L277.4 884.7L276.1 884.1L275.0 883.0L274.7 881.7L273.4 880.7L271.7 880.1L270.0 880.0L268.2 879.9L266.4 879.5L265.1 879.1L264.1 877.7L262.0 877.0L260.2 875.8L259.4 874.4L259.0 873.0L257.5 872.5L255.8 870.8L254.8 869.9L254.0 868.0L253.2 866.6L251.6 865.3L250.1 865.0L249.0 865.0L249.3 863.5L249.2 862.1L250.3 859.8L250.0 858.0L248.8 856.8L247.3 856.2L246.0 854.0L245.2 852.4L244.3 850.9L244.3 848.7L244.0 847.0L245.4 845.4L246.0 843.0L247.3 843.0L248.7 841.7L249.6 840.0L251.0 839.0L252.2 839.5L253.9 838.8L255.6 838.0L257.0 838.0L258.1 836.8L259.0 836.0L260.9 835.8L262.5 835.5L264.1 834.4L266.0 833.0L268.4 832.3L269.9 831.9L270.9 830.7L272.0 829.8L274.0 829.0L275.0 828.6L276.3 827.6L277.6 827.0L278.3 825.5L280.4 825.8L282.0 825.0L283.2 824.5L284.5 823.2L286.4 822.0L288.0 820.0L289.4 818.8L290.9 817.9L291.4 816.8L292.0 815.0L291.6 813.0L291.6 811.3L292.3 809.8L293.0 808.0L291.8 806.0L292.1 804.6L292.3 803.2L292.0 801.0L291.0 800.0L290.9 798.7L290.9 797.2L290.3 795.3L289.0 793.6L290.0 793.0L291.3 792.3L293.1 792.6L294.4 792.2L295.7 791.1L298.0 791.0L299.6 791.5L301.2 791.3L303.1 789.8L305.0 789.0L305.0 787.0L305.9 786.0L306.0 784.0L306.5 782.3L307.4 781.1L307.4 778.6L309.0 777.0L310.0 775.6L310.8 773.5L311.0 771.0L312.7 770.9L314.8 771.6L317.3 771.8L318.7 771.5L320.0 772.0L321.4 771.9L323.0 772.4L324.3 771.5L324.7 770.4L327.0 770.0L327.0 768.6L327.4 767.0L329.0 765.0L329.1 763.8L329.2 762.2L329.5 760.2L330.0 759.0L331.1 758.2L332.9 757.9L334.1 755.7L336.0 755.0L336.9 754.2L337.5 752.8L337.3 751.1Z" fill="#db93b0" stroke="#db93b0" stroke-width="0.9"><title>新疆</title></path>
<path d="M281.0 890.0L282.5 890.3L284.2 889.8L286.0 888.2L288.0 888.0L288.7 886.0L289.9 884.8L291.0 884.0L293.2 883.2L294.7 882.7L296.6 882.2L298.0 883.0L299.2 880.9L301.3 880.1L302.3 879.8L303.9 879.2L306.0 880.0L307.2 880.8L309.0 882.0L311.0 881.9L312.7 881.2L314.4 880.9L316.0 881.0L318.1 879.7L319.9 879.1L321.6 878.3L324.0 879.0L325.9 878.5L327.4 877.9L328.3 877.0L330.0 877.0L332.1 876.8L333.8 875.3L336.0 875.1L338.0 875.0L339.9 874.5L341.2 874.7L342.4 875.3L344.1 875.2L346.0 874.0L347.5 873.6L349.2 873.4L351.0 874.7L352.4 875.2L354.0 875.0L355.8 875.8L356.5 877.6L359.0 878.0L358.5 879.8L358.7 880.9L358.4 882.6L358.3 884.2L357.0 886.0L357.7 888.4L357.8 889.7L357.3 891.1L359.4 892.5L360.0 894.0L361.2 895.4L361.4 896.8L362.6 898.7L364.0 899.0L365.3 900.1L366.6 901.5L368.2 901.7L369.3 901.8L370.5 902.3L372.0 903.0L373.2 904.5L374.5 904.8L376.7 904.8L378.5 904.4L380.0 905.0L381.8 906.8L384.1 906.9L386.1 906.9L388.0 907.0L389.5 906.7L391.8 907.2L392.5 908.6L393.6 909.3L396.0 910.0L397.0 911.9L399.0 912.0L400.0 913.0L401.6 913.9L403.0 914.0L404.7 912.9L407.0 913.0L408.2 911.4L409.7 910.3L411.0 910.0L411.7 907.5L412.0 906.0L412.2 903.5L413.0 901.8L414.0 901.0L414.9 902.2L416.0 904.0L416.4 905.3L417.0 906.5L419.0 908.0L420.0 909.7L421.2 910.6L420.9 912.0L422.0 914.0L422.8 915.8L424.1 917.2L423.9 918.4L424.0 920.0L424.6 921.9L424.1 923.2L424.3 924.3L425.0 926.0L424.7 927.7L424.1 929.9L425.7 931.3L426.1 932.4L426.0 934.0L425.0 935.5L424.0 937.0L423.5 938.1L422.0 939.0L420.7 940.4L419.0 942.0L417.8 943.3L416.8 944.7L415.1 944.9L414.0 945.6L411.9 944.7L410.1 944.0L408.7 943.5L406.9 943.9L405.0 945.5L403.7 946.4L402.0 946.2L400.0 947.0L398.1 947.3L396.9 948.5L395.4 948.7L394.0 949.0L392.0 949.3L390.3 950.7L389.2 952.0L388.0 953.0L386.5 953.9L384.9 953.5L383.0 954.0L381.7 954.6L380.0 954.0L379.1 952.1L377.7 951.6L376.6 950.7L374.7 949.5L373.3 949.8L372.0 949.0L370.6 948.7L369.3 949.2L367.8 948.2L366.4 946.8L364.0 946.0L362.5 945.6L361.2 945.0L359.0 945.8L357.3 945.4L356.0 945.0L355.5 946.4L355.0 947.5L354.4 948.7L354.0 950.0L353.2 948.6L352.1 946.9L351.0 945.0L349.0 945.3L347.3 944.4L345.2 944.9L344.0 946.0L342.4 944.8L340.8 945.1L339.8 944.4L337.9 944.0L336.0 945.0L334.6 945.4L333.4 945.4L331.6 944.3L330.0 944.0L329.2 943.2L328.2 941.8L327.1 940.5L326.0 940.0L324.9 939.9L323.7 938.8L321.6 937.5L320.0 937.0L318.2 936.2L317.3 934.4L316.0 934.1L314.0 934.0L312.7 932.6L311.2 932.0L310.2 931.2L309.2 930.4L308.0 929.0L306.4 928.3L304.5 927.2L303.6 926.4L302.0 926.0L300.1 926.1L298.9 926.8L298.0 928.0L296.1 926.8L294.5 926.1L294.1 924.9L293.0 924.0L290.7 922.9L289.2 921.6L288.0 921.0L286.6 920.4L284.8 920.2L283.0 919.0L282.8 916.8L281.6 915.8L280.7 914.8L279.0 914.0L279.6 912.7L279.3 910.8L278.2 909.5L278.0 908.0L278.7 906.0L280.0 905.1L281.0 904.0L281.5 901.9L282.0 900.0L281.2 898.8L280.9 897.4L280.0 895.0L280.9 893.0L280.5 891.4Z" fill="#f9e2ea" stroke="#f9e2ea" stroke-width="0.9"><title>西藏</title></path>
<path d="M380.0 850.0L382.6 849.9L384.7 850.9L386.0 851.4L388.0 852.0L390.2 851.9L391.7 851.6L392.7 852.7L393.2 853.8L395.0 854.0L396.0 855.0L397.4 855.9L399.3 855.7L400.9 856.5L403.0 856.0L404.7 856.4L405.8 855.8L407.5 855.0L408.6 853.4L408.5 851.8L410.6 850.6L412.4 850.4L414.3 851.4L415.8 852.9L417.5 853.0L419.2 853.5L420.5 853.8L421.8 853.7L423.3 853.5L425.0 852.5L426.1 854.0L427.5 854.2L429.4 855.9L431.5 856.6L432.5 858.0L434.8 857.9L436.1 858.0L437.4 859.2L439.5 859.4L441.0 861.0L441.4 863.6L442.6 865.0L444.9 865.6L446.0 866.9L447.5 867.5L449.9 868.5L450.4 869.7L451.1 870.8L452.2 872.6L452.5 875.0L452.0 876.6L452.5 878.7L451.5 880.3L450.0 882.0L448.6 882.9L447.9 884.5L447.2 885.9L447.0 888.0L448.0 889.2L449.0 890.0L447.3 890.4L445.0 891.0L443.1 890.7L441.6 891.5L440.3 892.3L438.7 893.7L440.0 894.2L441.5 895.2L442.3 896.3L443.0 898.0L443.0 899.7L442.4 900.7L441.7 902.9L440.0 904.0L438.8 905.3L437.0 906.0L435.1 906.8L433.0 906.0L431.6 904.9L430.6 904.4L429.0 904.0L427.3 902.6L427.1 901.3L425.7 900.4L424.0 900.0L422.7 899.0L421.6 898.5L420.0 897.0L418.2 896.1L416.7 896.5L415.0 895.0L414.8 896.9L415.3 898.8L414.0 901.0L413.0 901.8L412.2 903.5L412.0 906.0L411.7 907.5L411.0 910.0L409.7 910.3L408.2 911.4L407.0 913.0L404.7 912.9L403.0 914.0L401.6 913.9L400.0 913.0L399.0 912.0L397.0 911.9L396.0 910.0L393.6 909.3L392.5 908.6L391.8 907.2L389.5 906.7L388.0 907.0L386.1 906.9L384.1 906.9L381.8 906.8L380.0 905.0L378.5 904.4L376.7 904.8L374.5 904.8L373.2 904.5L372.0 903.0L370.5 902.3L369.3 901.8L368.2 901.7L366.6 901.5L365.3 900.1L364.0 899.0L362.6 898.7L361.4 896.8L361.2 895.4L360.0 894.0L359.4 892.5L357.3 891.1L357.8 889.7L357.7 888.4L357.0 886.0L358.3 884.2L358.4 882.6L358.7 880.9L358.5 879.8L359.0 878.0L360.3 877.2L362.0 877.0L363.1 876.8L364.8 876.2L367.0 876.0L367.8 874.3L367.5 872.7L368.4 871.6L369.0 870.0L368.0 868.7L366.9 868.4L365.6 867.3L365.1 865.4L365.0 864.0L364.0 862.6L363.3 861.5L363.0 859.0L364.4 857.6L365.4 856.6L367.0 855.0L368.8 854.5L369.8 853.2L370.8 852.7L372.4 852.9L374.0 852.0L376.0 852.0L377.9 851.9L379.0 851.3Z" fill="#f9e2ea" stroke="#f9e2ea" stroke-width="0.9"><title>青海</title></path>
<path d="M407.0 815.0L408.4 815.8L409.6 816.3L411.3 816.6L413.0 815.6L413.5 817.8L413.8 819.0L414.7 820.7L414.8 822.7L416.0 824.0L417.0 826.2L418.8 827.2L418.6 828.5L419.0 830.0L419.8 831.1L421.0 832.7L422.8 832.5L425.0 833.7L427.2 833.5L428.1 832.6L430.0 832.5L432.1 833.3L433.7 835.0L432.6 837.3L432.3 838.4L432.5 840.0L433.4 842.0L435.0 843.7L436.6 844.1L437.9 844.5L438.6 846.6L440.0 847.5L441.5 847.7L442.6 847.8L444.3 849.0L446.0 850.0L447.8 848.6L450.0 848.7L451.3 848.3L452.7 847.3L455.0 847.5L457.0 847.8L458.6 846.8L460.0 847.0L461.2 848.1L462.5 848.7L461.7 850.5L461.0 852.0L460.3 853.7L458.7 855.0L458.5 856.4L457.0 858.0L457.5 859.6L458.7 861.0L459.9 862.0L460.8 862.8L462.5 863.7L463.8 864.9L465.0 865.6L466.2 867.3L468.0 868.7L468.8 870.0L469.9 870.8L470.6 872.5L470.4 873.9L470.9 875.3L471.9 877.5L473.7 878.4L474.4 880.0L476.1 881.5L477.5 882.5L478.8 882.3L480.0 881.2L480.8 879.7L481.2 877.5L480.5 875.5L480.0 873.7L480.0 871.6L481.2 870.0L483.0 868.4L484.0 867.0L485.9 868.5L487.0 870.0L487.8 872.4L487.0 874.5L487.8 875.7L487.6 877.0L489.0 878.0L487.4 879.0L486.4 881.0L486.8 882.6L486.0 884.0L485.6 885.3L484.2 886.6L482.1 887.1L480.0 888.0L480.0 889.2L480.0 890.6L479.0 892.1L479.0 894.0L478.7 895.5L477.3 897.0L478.4 898.7L478.0 901.0L477.5 902.7L478.4 904.5L479.0 905.9L479.0 907.0L477.2 906.6L475.8 907.0L473.7 907.0L471.3 907.5L469.4 906.6L467.6 906.7L466.4 906.2L465.1 905.3L463.7 905.0L461.8 903.7L461.1 901.9L460.9 900.6L459.0 899.7L458.0 898.0L457.3 896.7L456.2 896.1L454.0 895.0L452.5 894.6L450.5 894.1L449.5 894.4L448.0 895.0L446.7 896.2L446.3 897.5L445.7 898.5L445.0 900.0L444.7 901.2L443.5 902.8L441.8 902.8L440.0 904.0L441.7 902.9L442.4 900.7L443.0 899.7L443.0 898.0L442.3 896.3L441.5 895.2L440.0 894.2L438.7 893.7L440.3 892.3L441.6 891.5L443.1 890.7L445.0 891.0L447.3 890.4L449.0 890.0L448.0 889.2L447.0 888.0L447.2 885.9L447.9 884.5L448.6 882.9L450.0 882.0L451.5 880.3L452.5 878.7L452.0 876.6L452.5 875.0L452.2 872.6L451.1 870.8L450.4 869.7L449.9 868.5L447.5 867.5L446.0 866.9L444.9 865.6L442.6 865.0L441.4 863.6L441.0 861.0L439.5 859.4L437.4 859.2L436.1 858.0L434.8 857.9L432.5 858.0L431.5 856.6L429.4 855.9L427.5 854.2L426.1 854.0L425.0 852.5L423.3 853.5L421.8 853.7L420.5 853.8L419.2 853.5L417.5 853.0L415.8 852.9L414.3 851.4L412.4 850.4L410.6 850.6L408.5 851.8L408.6 853.4L407.5 855.0L405.8 855.8L404.7 856.4L403.0 856.0L400.9 856.5L399.3 855.7L397.4 855.9L396.0 855.0L395.0 854.0L393.2 853.8L392.7 852.7L391.7 851.6L390.2 851.9L388.0 852.0L386.0 851.4L384.7 850.9L382.6 849.9L380.0 850.0L379.4 847.8L379.6 846.3L379.0 844.0L379.4 842.8L379.9 841.2L381.4 840.0L381.6 837.5L381.0 836.0L382.3 834.3L382.5 833.1L382.8 831.4L384.7 830.9L386.0 829.0L388.0 827.8L390.4 827.8L391.5 827.6L392.7 826.4L394.7 825.6L396.0 826.0L397.6 825.0L398.6 824.4L400.2 824.3L401.9 824.7L403.4 824.3L404.6 823.8L406.0 824.0L407.5 822.8L408.7 821.8L408.4 820.0L409.0 819.0L408.5 817.6L408.2 816.5Z" fill="#db93b0" stroke="#db93b0" stroke-width="0.9"><title>甘肃</title></path>
<path d="M482.5 861.0L481.2 859.2L480.6 857.5L481.0 856.2L480.8 854.8L482.0 853.5L480.9 852.2L481.0 850.0L479.5 849.2L478.8 848.0L477.6 849.3L476.0 850.0L475.1 851.2L475.0 853.0L474.7 854.9L475.0 857.0L475.2 858.8L474.0 860.6L472.7 862.5L471.0 863.0L469.5 862.9L467.5 864.0L466.2 864.9L465.0 865.6L466.2 867.3L468.0 868.7L468.8 870.0L469.9 870.8L470.6 872.5L470.4 873.9L470.9 875.3L471.9 877.5L473.7 878.4L474.4 880.0L476.1 881.5L477.5 882.5L478.8 882.3L480.0 881.2L480.8 879.7L481.2 877.5L480.5 875.5L480.0 873.7L480.0 871.6L481.2 870.0L483.0 868.4L484.0 867.0L484.3 865.0L485.0 863.5L483.5 862.5Z" fill="#f9e2ea" stroke="#f9e2ea" stroke-width="0.9"><title>宁夏</title></path>
<path d="M490.0 860.0L492.1 859.6L493.4 859.6L494.8 858.7L495.6 856.9L498.0 856.0L499.4 854.6L500.7 853.8L502.1 853.0L502.4 850.8L502.7 849.4L504.0 848.0L504.9 846.6L506.2 846.1L508.1 845.0L510.0 845.0L509.8 847.0L509.1 848.1L509.0 850.0L507.7 851.2L507.3 853.3L507.8 854.8L508.0 856.0L508.6 857.8L508.3 859.7L508.9 862.1L509.0 864.0L509.6 866.1L508.7 867.4L508.4 868.6L508.8 870.4L508.0 872.0L506.8 873.1L506.7 874.3L506.2 876.2L505.9 878.6L507.0 880.0L508.6 881.7L509.7 882.4L510.0 884.0L509.5 885.7L509.0 888.0L508.9 890.0L508.0 891.0L506.9 893.1L506.1 894.7L506.0 896.0L505.1 898.0L504.9 899.3L504.0 900.4L504.0 902.0L502.7 903.1L502.2 905.4L501.5 906.8L501.0 908.0L500.0 910.1L499.7 911.8L499.0 913.0L496.5 913.0L495.0 912.5L493.4 914.1L491.0 915.0L489.0 913.6L487.4 913.9L485.9 912.4L485.0 910.0L483.8 909.2L483.0 908.2L481.0 907.4L479.0 907.0L479.0 905.9L478.4 904.5L477.5 902.7L478.0 901.0L478.4 898.7L477.3 897.0L478.7 895.5L479.0 894.0L479.0 892.1L480.0 890.6L480.0 889.2L480.0 888.0L482.1 887.1L484.2 886.6L485.6 885.3L486.0 884.0L486.8 882.6L486.4 881.0L487.4 879.0L489.0 878.0L487.6 877.0L487.8 875.7L487.0 874.5L487.8 872.4L487.0 870.0L485.9 868.5L484.0 867.0L484.3 865.0L485.0 863.5L486.3 862.4L487.6 861.0L488.7 860.2Z" fill="#cc6898" stroke="#cc6898" stroke-width="0.9"><title>陕西</title></path>
<path d="M510.0 845.0L511.3 844.4L512.5 844.1L513.6 843.4L514.7 842.6L516.3 842.1L518.0 841.0L519.6 840.8L521.5 840.7L523.1 838.9L524.5 838.8L526.0 838.0L527.7 836.5L529.1 836.1L530.4 835.8L532.0 836.3L534.0 837.0L534.0 838.4L533.3 840.0L533.0 842.0L531.8 843.0L530.9 843.9L530.0 846.0L528.7 848.2L528.4 849.6L529.0 851.0L530.3 852.0L530.9 853.0L531.5 854.3L531.0 856.0L530.6 857.3L529.7 858.9L530.4 860.5L530.0 862.0L529.2 863.3L529.4 865.2L530.0 866.8L531.0 868.0L531.0 870.2L530.3 871.5L529.0 873.0L530.7 874.7L531.0 877.0L530.3 878.2L530.0 880.0L528.8 881.1L527.5 882.4L525.5 883.7L523.3 884.9L521.7 885.6L519.5 886.0L518.0 887.2L516.5 887.7L515.0 888.5L513.5 889.0L511.7 889.1L510.3 888.9L509.6 890.3L508.0 891.0L508.9 890.0L509.0 888.0L509.5 885.7L510.0 884.0L509.7 882.4L508.6 881.7L507.0 880.0L505.9 878.6L506.2 876.2L506.7 874.3L506.8 873.1L508.0 872.0L508.8 870.4L508.4 868.6L508.7 867.4L509.6 866.1L509.0 864.0L508.9 862.1L508.3 859.7L508.6 857.8L508.0 856.0L507.8 854.8L507.3 853.3L507.7 851.2L509.0 850.0L509.1 848.1L509.8 847.0Z" fill="#cc6898" stroke="#cc6898" stroke-width="0.9"><title>山西</title></path>
<path d="M535.0 833.0L534.6 831.6L533.7 830.7L533.2 828.4L533.0 827.0L534.0 826.1L534.4 824.3L535.6 823.2L537.0 822.0L539.5 822.3L540.9 823.8L542.0 825.0L543.1 824.5L544.8 824.2L546.3 824.1L548.0 823.0L549.1 821.0L550.7 819.7L552.2 818.7L554.0 819.0L556.5 819.1L558.3 820.0L560.0 820.0L560.3 821.2L561.4 822.5L562.8 823.5L564.0 825.0L565.9 826.8L567.6 826.9L569.0 827.0L568.5 828.9L568.0 830.4L566.8 831.9L566.0 833.0L566.2 834.3L567.4 835.9L567.0 838.0L568.6 839.8L569.3 841.2L570.0 843.0L569.3 844.9L567.0 846.0L565.9 846.6L564.3 846.7L563.0 848.0L562.4 849.0L562.2 850.9L561.5 851.9L560.0 853.0L560.2 854.2L561.0 856.0L559.4 857.3L558.0 858.0L557.1 859.3L555.0 860.0L553.8 861.2L552.2 862.2L550.0 863.0L547.6 863.9L547.1 865.1L546.0 866.0L545.1 867.9L543.8 868.5L543.3 869.6L543.0 871.0L542.3 873.5L541.4 874.8L541.0 876.0L539.1 877.6L537.5 877.7L535.2 878.3L533.8 877.7L532.0 877.0L531.0 877.0L530.7 874.7L529.0 873.0L530.3 871.5L531.0 870.2L531.0 868.0L530.0 866.8L529.4 865.2L529.2 863.3L530.0 862.0L530.4 860.5L529.7 858.9L530.6 857.3L531.0 856.0L531.5 854.3L530.9 853.0L530.3 852.0L529.0 851.0L528.4 849.6L528.7 848.2L530.0 846.0L530.9 843.9L531.8 843.0L533.0 842.0L533.3 840.0L534.0 838.4L534.0 837.0L534.9 834.6Z" fill="#be427b" stroke="#be427b" stroke-width="0.9"><title>河北</title></path>
<path d="M543.0 841.5L543.7 839.9L545.0 838.0L546.1 836.4L547.0 835.0L548.0 833.8L550.0 832.5L551.4 833.6L552.5 834.0L553.6 835.1L555.0 836.0L556.1 837.2L556.5 838.5L555.7 839.7L555.0 841.0L553.7 842.0L552.5 843.0L551.3 844.1L550.0 845.0L548.3 845.5L547.0 845.5L544.5 845.0L543.0 843.5Z" fill="#ecbcd2" stroke="#ecbcd2" stroke-width="0.9"><title>北京</title></path>
<path d="M553.0 841.5L554.4 840.8L556.0 840.0L557.1 840.5L558.5 841.5L559.1 843.1L559.5 844.5L560.3 846.2L560.5 848.0L560.0 849.8L559.5 852.0L557.9 852.9L557.0 854.0L555.0 853.4L553.5 852.5L552.8 851.1L552.0 850.0L552.4 848.3L553.0 846.5L553.5 844.0Z" fill="#f9e2ea" stroke="#f9e2ea" stroke-width="0.9"><title>天津</title></path>
<path d="M414.0 901.0L415.3 898.8L414.8 896.9L415.0 895.0L416.7 896.5L418.2 896.1L420.0 897.0L421.6 898.5L422.7 899.0L424.0 900.0L425.7 900.4L427.1 901.3L427.3 902.6L429.0 904.0L430.6 904.4L431.6 904.9L433.0 906.0L435.1 906.8L437.0 906.0L438.8 905.3L440.0 904.0L441.8 902.8L443.5 902.8L444.7 901.2L445.0 900.0L445.7 898.5L446.3 897.5L446.7 896.2L448.0 895.0L449.5 894.4L450.5 894.1L452.5 894.6L454.0 895.0L456.2 896.1L457.3 896.7L458.0 898.0L459.0 899.7L460.9 900.6L461.1 901.9L461.8 903.7L463.7 905.0L465.1 905.3L466.4 906.2L467.6 906.7L469.4 906.6L471.3 907.5L473.7 907.0L475.8 907.0L477.2 906.6L479.0 907.0L481.0 907.4L483.0 908.2L483.8 909.2L485.0 910.0L487.2 910.8L488.7 911.7L490.1 913.6L490.3 915.3L491.2 916.2L490.2 917.7L489.9 918.9L488.9 920.2L487.6 921.2L486.2 923.0L484.5 923.7L482.9 923.4L481.6 924.3L480.3 925.7L478.7 927.5L476.9 928.8L475.3 929.4L473.3 929.3L471.9 930.0L470.8 931.6L470.6 933.7L471.2 934.9L471.1 936.3L472.3 937.9L473.6 939.3L475.0 941.2L477.0 942.0L475.9 943.9L474.1 944.2L473.0 945.5L471.7 944.5L470.5 944.0L469.0 942.4L467.5 941.2L466.9 942.6L466.1 943.7L463.9 944.7L461.8 944.3L460.0 945.0L458.9 945.8L458.1 946.8L457.0 948.0L456.3 949.4L456.0 950.7L454.6 952.2L453.0 954.0L451.6 954.6L450.0 956.2L449.6 957.7L449.0 960.0L447.6 959.3L447.0 958.2L445.4 958.3L443.0 958.0L441.8 957.2L440.2 956.0L438.7 955.0L437.9 953.9L437.0 953.0L435.7 952.2L434.3 951.0L432.9 949.0L432.0 947.0L431.3 945.4L431.0 944.1L429.7 943.2L428.6 942.0L427.0 941.0L424.5 940.6L423.2 939.6L422.0 939.0L423.5 938.1L424.0 937.0L425.0 935.5L426.0 934.0L426.1 932.4L425.7 931.3L424.1 929.9L424.7 927.7L425.0 926.0L424.3 924.3L424.1 923.2L424.6 921.9L424.0 920.0L423.9 918.4L424.1 917.2L422.8 915.8L422.0 914.0L420.9 912.0L421.2 910.6L420.0 909.7L419.0 908.0L417.0 906.5L416.4 905.3L416.0 904.0L414.9 902.2Z" fill="#ac1c5b" stroke="#ac1c5b" stroke-width="0.9"><title>四川</title></path>
<path d="M422.0 939.0L423.2 939.6L424.5 940.6L427.0 941.0L428.6 942.0L429.7 943.2L431.0 944.1L431.3 945.4L432.0 947.0L432.9 949.0L434.3 951.0L435.7 952.2L437.0 953.0L437.9 953.9L438.7 955.0L440.2 956.0L441.8 957.2L443.0 958.0L445.4 958.3L447.0 958.2L447.6 959.3L449.0 960.0L449.6 957.7L450.0 956.2L451.6 954.6L453.0 954.0L454.6 952.2L456.0 950.7L456.3 949.4L457.0 948.0L458.1 946.8L458.9 945.8L460.0 945.0L459.9 946.4L460.3 948.0L460.0 950.0L458.9 952.2L459.1 953.7L459.0 956.0L460.0 956.6L461.8 956.8L463.0 958.4L464.0 960.0L465.2 961.1L465.5 963.3L465.0 964.5L465.0 966.0L466.2 967.3L467.0 968.0L468.0 970.0L469.0 971.8L470.0 972.8L470.0 975.0L472.1 976.1L473.2 977.0L474.0 978.0L472.0 979.1L471.0 981.0L469.2 982.1L467.0 983.0L464.6 983.3L463.5 983.8L462.0 985.0L460.2 986.2L458.8 987.1L458.0 988.0L455.9 986.9L454.3 987.0L453.0 987.0L450.7 988.2L450.0 990.0L447.6 989.2L446.0 989.0L444.7 990.7L443.0 992.0L442.6 993.8L442.8 995.3L444.0 997.0L442.8 997.4L441.0 998.0L439.1 996.8L438.7 995.2L437.0 994.0L435.4 993.7L434.3 993.9L432.0 993.0L430.9 990.7L429.6 990.1L428.0 989.0L428.6 986.8L428.1 985.2L427.0 984.0L426.6 982.3L424.9 981.2L423.0 980.0L422.1 979.0L420.9 978.1L419.0 977.0L417.3 976.3L415.0 976.0L416.1 974.0L416.6 972.2L417.0 971.0L417.6 969.6L417.7 968.4L418.4 967.1L419.0 966.0L420.2 965.7L421.3 964.5L421.2 963.2L422.0 962.0L422.8 960.4L423.1 958.7L423.3 957.3L424.0 956.0L424.2 954.5L424.2 953.2L422.3 951.8L422.0 950.0L421.2 949.1L420.0 947.6L420.3 946.3L420.0 945.0L419.0 943.7L419.0 942.0L420.7 940.4Z" fill="#be427b" stroke="#be427b" stroke-width="0.9"><title>云南</title></path>
<path d="M491.2 916.2L492.0 914.6L493.0 914.2L493.8 913.1L495.0 912.5L496.4 913.1L497.5 913.9L500.0 913.7L501.0 914.5L501.6 915.9L502.9 916.4L503.7 917.5L504.7 919.2L505.0 921.2L503.8 923.1L502.5 923.7L501.2 925.3L500.3 926.0L498.7 926.2L497.1 926.7L495.0 927.5L494.8 929.7L493.7 931.2L494.8 932.2L494.9 933.7L496.2 935.0L496.3 936.9L497.5 938.7L496.4 940.4L495.0 941.2L493.2 940.5L492.1 940.0L491.2 938.7L488.9 937.9L487.5 937.5L485.6 937.6L483.7 938.7L481.6 939.9L480.0 940.0L478.3 940.6L477.0 942.0L475.0 941.2L473.6 939.3L472.3 937.9L471.1 936.3L471.2 934.9L470.6 933.7L470.8 931.6L471.9 930.0L473.3 929.3L475.3 929.4L476.9 928.8L478.7 927.5L480.3 925.7L481.6 924.3L482.9 923.4L484.5 923.7L486.2 923.0L487.6 921.2L488.9 920.2L489.9 918.9L490.2 917.7Z" fill="#db93b0" stroke="#db93b0" stroke-width="0.9"><title>重庆</title></path>
<path d="M460.0 945.0L461.8 944.3L463.9 944.7L466.1 943.7L466.9 942.6L467.5 941.2L469.0 942.4L470.5 944.0L471.7 944.5L473.0 945.5L474.1 944.2L475.9 943.9L477.0 942.0L478.3 940.6L480.0 940.0L481.6 939.9L483.7 938.7L485.6 937.6L487.5 937.5L488.9 937.9L491.2 938.7L492.1 940.0L493.2 940.5L495.0 941.2L495.3 942.4L496.3 944.0L497.8 944.8L499.0 946.0L499.3 947.5L498.8 949.6L498.0 952.0L498.4 953.4L499.2 954.4L498.9 956.0L500.0 958.0L499.2 960.3L498.0 962.0L496.2 963.0L495.1 963.6L494.0 965.0L491.5 965.7L489.8 965.6L488.0 967.0L486.4 967.0L485.2 967.8L483.9 968.0L482.0 968.0L481.1 969.4L478.7 970.3L477.2 969.8L476.0 970.0L475.8 971.4L474.3 972.7L472.6 973.5L471.6 974.2L470.0 975.0L470.0 972.8L469.0 971.8L468.0 970.0L467.0 968.0L466.2 967.3L465.0 966.0L465.0 964.5L465.5 963.3L465.2 961.1L464.0 960.0L463.0 958.4L461.8 956.8L460.0 956.6L459.0 956.0L459.1 953.7L458.9 952.2L460.0 950.0L460.3 948.0L459.9 946.4Z" fill="#cc6898" stroke="#cc6898" stroke-width="0.9"><title>贵州</title></path>
<path d="M470.0 975.0L471.6 974.2L472.6 973.5L474.3 972.7L475.8 971.4L476.0 970.0L477.2 969.8L478.7 970.3L481.1 969.4L482.0 968.0L483.9 968.0L485.2 967.8L486.4 967.0L488.0 967.0L489.8 965.6L491.5 965.7L494.0 965.0L495.1 963.6L496.2 963.0L498.0 962.0L499.2 960.3L500.0 958.0L501.9 958.7L503.8 958.6L504.9 959.3L506.0 960.0L507.6 959.7L508.9 960.1L510.8 960.0L512.0 959.0L513.3 959.1L515.4 959.3L517.2 960.7L518.0 962.0L518.9 963.3L519.9 964.2L520.4 965.9L520.0 967.0L518.2 967.6L517.3 968.5L516.0 970.0L516.5 971.9L517.2 972.7L518.0 974.0L517.5 975.6L517.0 976.7L516.0 978.8L515.0 980.0L514.1 982.0L514.3 983.7L513.2 984.3L512.0 986.0L509.7 987.0L509.4 988.8L508.0 990.0L505.8 991.0L505.3 992.6L504.0 994.0L502.5 993.3L501.4 994.1L500.6 993.0L499.7 993.3L499.2 994.6L498.0 995.0L497.8 993.8L496.9 992.9L495.4 992.7L494.0 991.9L492.7 992.6L492.3 993.6L491.0 994.0L490.8 992.9L490.2 991.5L489.1 991.2L488.3 991.1L487.7 991.7L487.6 992.7L486.1 992.8L485.1 992.1L484.0 992.0L483.7 990.1L482.6 989.2L481.8 988.2L480.0 988.0L479.6 985.5L479.0 984.4L478.0 983.0L476.8 981.5L474.9 980.6L474.6 979.2L474.0 978.0L473.2 977.0L472.1 976.1Z" fill="#cc6898" stroke="#cc6898" stroke-width="0.9"><title>广西</title></path>
<path d="M508.0 891.0L509.6 890.3L510.3 888.9L511.7 889.1L513.5 889.0L515.0 888.5L516.5 887.7L518.0 887.2L519.5 886.0L521.7 885.6L523.3 884.9L525.5 883.7L527.5 882.4L528.8 881.1L530.0 880.0L530.9 877.9L532.0 877.0L533.8 877.7L535.2 878.3L537.5 877.7L539.1 877.6L541.0 876.0L540.7 878.4L541.0 880.0L539.9 881.8L539.9 883.1L539.7 884.5L540.6 886.4L542.0 887.5L543.0 888.3L544.1 889.3L546.5 889.7L548.4 891.4L549.5 892.7L547.2 892.7L545.0 894.0L544.2 895.8L542.0 897.0L542.2 899.2L541.0 901.0L540.7 903.2L539.0 904.7L540.2 905.8L541.0 907.7L542.1 908.5L543.5 909.1L545.0 910.0L544.8 911.8L544.0 913.0L542.2 913.5L540.5 914.5L538.3 913.7L536.0 913.0L535.0 912.0L533.6 911.8L532.0 910.0L530.4 909.1L529.0 908.5L527.5 907.3L526.0 907.2L524.7 907.7L523.4 906.8L522.1 906.6L520.4 906.7L519.5 906.0L517.2 906.0L516.2 904.7L515.0 904.0L514.7 902.8L514.3 901.3L512.9 900.5L512.0 899.5L510.6 898.2L509.7 897.1L509.7 895.7L509.4 893.5L508.3 892.4Z" fill="#ac1c5b" stroke="#ac1c5b" stroke-width="0.9"><title>河南</title></path>
<path d="M508.0 891.0L508.3 892.4L509.4 893.5L509.7 895.7L509.7 897.1L510.6 898.2L512.0 899.5L512.9 900.5L514.3 901.3L514.7 902.8L515.0 904.0L516.2 904.7L517.2 906.0L519.5 906.0L520.4 906.7L522.1 906.6L523.4 906.8L524.7 907.7L526.0 907.2L527.5 907.3L529.0 908.5L530.4 909.1L532.0 910.0L533.6 911.8L535.0 912.0L536.0 913.0L538.3 913.7L540.5 914.5L542.2 913.5L544.0 913.0L545.0 914.4L545.0 916.0L546.3 917.7L546.3 919.2L547.0 921.0L547.0 922.7L548.4 924.4L548.7 926.0L549.0 927.0L547.8 927.9L546.0 929.0L544.6 930.4L543.1 931.3L542.0 932.0L540.7 931.5L539.2 931.7L537.5 932.3L536.0 934.0L533.5 933.6L532.2 932.9L531.0 932.0L528.5 931.9L526.9 930.9L526.0 930.0L524.5 930.3L522.3 930.2L521.0 929.9L520.0 929.0L518.7 928.4L517.2 928.3L515.4 927.9L514.0 928.0L512.3 927.9L510.8 929.1L509.1 929.1L508.0 929.0L506.2 929.1L504.9 928.6L503.2 928.8L502.0 928.0L501.0 929.3L500.1 929.9L498.0 931.0L496.9 930.1L495.0 929.0L495.0 927.5L497.1 926.7L498.7 926.2L500.3 926.0L501.2 925.3L502.5 923.7L503.8 923.1L505.0 921.2L504.7 919.2L503.7 917.5L502.9 916.4L501.6 915.9L501.0 914.5L500.0 913.7L499.0 913.0L499.7 911.8L500.0 910.1L501.0 908.0L501.5 906.8L502.2 905.4L502.7 903.1L504.0 902.0L504.0 900.4L504.9 899.3L505.1 898.0L506.0 896.0L506.1 894.7L506.9 893.1Z" fill="#be427b" stroke="#be427b" stroke-width="0.9"><title>湖北</title></path>
<path d="M498.0 931.0L500.1 929.9L501.0 929.3L502.0 928.0L503.2 928.8L504.9 928.6L506.2 929.1L508.0 929.0L509.1 929.1L510.8 929.1L512.3 927.9L514.0 928.0L515.4 927.9L517.2 928.3L518.7 928.4L520.0 929.0L521.0 929.9L522.3 930.2L524.5 930.3L526.0 930.0L526.9 930.9L528.5 931.9L531.0 932.0L531.8 933.4L532.9 934.8L533.4 936.4L533.0 938.0L532.6 939.7L530.9 941.3L530.8 942.5L531.0 944.0L531.3 946.1L530.3 947.5L530.0 950.0L530.7 951.3L530.8 952.6L531.0 954.8L532.0 956.0L532.2 957.8L531.6 959.7L532.6 960.5L533.0 962.0L532.4 964.3L531.2 965.5L530.0 966.0L528.6 966.3L527.4 968.0L525.0 968.0L522.5 968.0L521.1 967.1L520.0 967.0L520.4 965.9L519.9 964.2L518.9 963.3L518.0 962.0L517.2 960.7L515.4 959.3L513.3 959.1L512.0 959.0L510.8 960.0L508.9 960.1L507.6 959.7L506.0 960.0L504.9 959.3L503.8 958.6L501.9 958.7L500.0 958.0L498.9 956.0L499.2 954.4L498.4 953.4L498.0 952.0L498.8 949.6L499.3 947.5L499.0 946.0L497.8 944.8L496.3 944.0L495.3 942.4L495.0 941.2L496.4 940.4L497.5 938.7L496.3 936.9L496.2 935.0L494.9 933.7L494.8 932.2L493.7 931.2L495.0 929.0L496.9 930.1Z" fill="#be427b" stroke="#be427b" stroke-width="0.9"><title>湖南</title></path>
<path d="M561.0 856.0L562.5 856.4L563.7 856.6L565.0 857.7L566.0 860.0L566.1 861.9L566.5 862.9L568.0 864.0L569.2 866.0L571.0 867.0L572.3 865.7L573.3 865.3L575.0 865.0L576.3 864.4L577.7 863.2L580.0 862.5L582.0 863.2L583.3 862.7L585.0 863.0L585.8 862.5L586.9 862.8L587.6 864.1L588.5 865.3L590.0 865.0L591.5 865.7L593.0 866.0L592.6 867.5L592.5 869.0L591.0 868.3L590.0 867.6L589.2 867.6L588.3 867.9L588.0 868.9L587.5 870.0L587.0 869.3L585.8 869.3L584.4 870.2L584.3 871.2L584.0 872.5L583.4 873.9L582.5 874.5L581.6 873.7L580.9 874.1L580.0 875.0L579.3 876.5L577.7 876.8L576.8 877.8L577.5 879.0L576.6 879.4L575.9 880.7L575.0 881.3L575.0 882.5L573.7 882.5L572.9 882.9L572.3 884.0L572.5 885.0L571.7 886.5L571.0 887.5L569.5 888.0L567.5 889.0L565.2 889.1L564.2 890.0L563.0 891.0L561.9 891.3L560.2 891.3L559.1 892.2L557.0 892.7L554.9 892.4L553.3 892.0L551.7 892.0L549.5 892.7L548.4 891.4L546.5 889.7L544.1 889.3L543.0 888.3L542.0 887.5L540.6 886.4L539.7 884.5L539.9 883.1L539.9 881.8L541.0 880.0L540.7 878.4L541.0 876.0L541.4 874.8L542.3 873.5L543.0 871.0L543.3 869.6L543.8 868.5L545.1 867.9L546.0 866.0L547.1 865.1L547.6 863.9L550.0 863.0L552.2 862.2L553.8 861.2L555.0 860.0L557.1 859.3L558.0 858.0L559.4 857.3Z" fill="#be427b" stroke="#be427b" stroke-width="0.9"><title>山东</title></path>
<path d="M549.5 892.7L551.7 892.0L553.8 892.0L554.9 892.8L555.8 894.0L557.0 895.0L558.6 895.4L559.4 896.2L560.0 898.0L560.1 900.1L561.5 901.7L562.9 903.1L563.7 904.7L565.1 903.9L566.0 903.0L566.7 903.8L568.0 904.7L566.6 906.4L566.0 907.7L564.6 909.5L564.5 911.5L565.2 913.9L566.7 915.0L568.9 916.1L569.7 917.5L569.8 919.2L570.5 921.0L570.1 922.4L569.7 923.7L568.0 925.0L566.9 926.9L566.0 928.7L564.3 930.6L562.0 931.0L559.6 931.1L557.7 930.0L555.3 929.8L553.0 928.7L551.2 928.1L549.0 927.0L548.7 926.0L548.4 924.4L547.0 922.7L547.0 921.0L546.3 919.2L546.3 917.7L545.0 916.0L545.0 914.4L544.0 913.0L544.8 911.8L545.0 910.0L543.5 909.1L542.1 908.5L541.0 907.7L540.2 905.8L539.0 904.7L540.7 903.2L541.0 901.0L542.2 899.2L542.0 897.0L544.2 895.8L545.0 894.0L547.2 892.7Z" fill="#be427b" stroke="#be427b" stroke-width="0.9"><title>安徽</title></path>
<path d="M551.7 892.0L553.3 892.0L554.9 892.4L557.0 892.7L559.1 892.2L560.2 891.3L561.9 891.3L563.0 891.0L564.2 890.0L565.2 889.1L567.5 889.0L569.5 888.0L571.0 887.5L571.3 889.6L572.7 890.9L573.8 891.9L575.0 892.7L575.8 894.1L575.7 896.1L577.0 896.4L578.0 898.0L577.8 899.9L578.5 901.1L579.7 902.4L580.0 904.0L580.8 905.4L580.8 906.6L582.5 908.5L583.3 910.2L584.1 911.1L585.5 912.0L587.0 913.7L585.8 915.4L584.0 916.0L583.3 918.1L581.7 919.7L579.9 920.8L578.0 920.5L575.5 920.3L573.5 919.0L572.0 919.9L570.5 921.0L569.8 919.2L569.7 917.5L568.9 916.1L566.7 915.0L565.2 913.9L564.5 911.5L564.6 909.5L566.0 907.7L566.6 906.4L568.0 904.7L566.7 903.8L566.0 903.0L565.1 903.9L563.7 904.7L562.9 903.1L561.5 901.7L560.1 900.1L560.0 898.0L559.4 896.2L558.6 895.4L557.0 895.0L555.8 894.0L554.9 892.8L553.8 892.0Z" fill="#ac1c5b" stroke="#ac1c5b" stroke-width="0.9"><title>江苏</title></path>
<path d="M583.5 916.5L585.0 915.2L587.0 913.7L588.6 915.4L590.0 916.5L589.5 918.3L589.5 920.0L588.6 921.1L587.0 922.5L586.3 921.0L585.0 919.3L584.2 918.2Z" fill="#ecbcd2" stroke="#ecbcd2" stroke-width="0.9"><title>上海</title></path>
<path d="M570.5 921.0L572.0 919.9L573.5 919.0L575.5 920.3L578.0 920.5L579.9 920.8L581.7 919.7L583.4 919.4L585.0 919.3L586.0 921.0L585.6 922.0L584.7 922.8L585.1 923.5L586.0 924.5L586.6 924.9L587.0 926.0L588.3 926.2L589.0 927.0L589.2 928.6L589.9 930.1L588.5 930.5L588.0 932.0L587.5 933.0L586.4 932.8L585.9 933.9L586.7 935.2L585.8 936.3L586.1 936.9L586.0 938.0L586.1 939.0L586.9 939.6L586.9 940.9L587.0 942.2L586.2 943.2L585.2 943.2L584.2 943.9L583.0 944.0L581.5 944.7L580.7 945.1L579.9 945.3L579.7 946.4L579.0 947.2L579.0 948.0L578.3 947.0L577.4 947.4L576.4 947.1L575.4 947.0L574.5 948.1L574.5 948.9L574.0 950.0L572.7 950.0L571.3 949.1L570.0 947.0L567.8 946.0L566.7 945.3L566.0 944.0L566.7 942.5L566.4 941.2L566.9 940.3L568.0 939.0L567.6 936.8L568.7 935.8L569.0 934.0L567.1 932.3L566.0 930.0L566.0 928.7L566.9 926.9L568.0 925.0L569.7 923.7L570.1 922.4Z" fill="#cc6898" stroke="#cc6898" stroke-width="0.9"><title>浙江</title></path>
<path d="M549.0 927.0L551.2 928.1L553.0 928.7L555.3 929.8L557.7 930.0L559.6 931.1L562.0 931.0L563.8 930.8L566.0 930.0L567.1 932.3L569.0 934.0L568.7 935.8L567.6 936.8L568.0 939.0L566.9 940.3L566.4 941.2L566.7 942.5L566.0 944.0L564.3 943.6L563.0 944.0L561.9 944.6L560.6 945.4L559.0 947.0L557.0 947.8L555.9 948.6L554.0 950.0L552.7 951.8L552.1 953.5L551.9 954.6L551.0 956.0L550.2 958.5L548.9 959.6L548.0 961.0L547.2 962.5L547.5 964.3L546.0 966.0L545.1 966.6L543.5 966.9L542.6 967.7L541.0 968.0L539.5 966.3L537.6 966.5L536.0 966.0L535.0 964.2L533.6 963.0L533.0 962.0L532.6 960.5L531.6 959.7L532.2 957.8L532.0 956.0L531.0 954.8L530.8 952.6L530.7 951.3L530.0 950.0L530.3 947.5L531.3 946.1L531.0 944.0L530.8 942.5L530.9 941.3L532.6 939.7L533.0 938.0L533.4 936.4L532.9 934.8L531.8 933.4L531.0 932.0L532.2 932.9L533.5 933.6L536.0 934.0L537.5 932.3L539.2 931.7L540.7 931.5L542.0 932.0L543.1 931.3L544.6 930.4L546.0 929.0L547.8 927.9Z" fill="#cc6898" stroke="#cc6898" stroke-width="0.9"><title>江西</title></path>
<path d="M566.0 944.0L566.7 945.3L567.8 946.0L570.0 947.0L571.3 949.1L572.7 950.0L574.0 950.0L575.3 950.8L575.5 952.4L575.0 953.9L574.4 954.9L573.0 955.0L571.9 955.6L571.1 955.4L571.6 956.3L571.9 957.0L570.9 957.9L570.3 958.9L570.0 960.0L569.8 960.9L570.4 961.7L569.1 962.6L568.1 962.8L567.6 963.8L567.0 964.5L566.0 965.0L565.0 966.3L563.8 966.6L563.3 965.7L561.9 966.1L562.0 967.4L562.0 969.0L561.4 969.9L562.3 971.0L560.9 971.2L560.5 972.6L559.3 972.8L558.2 971.6L557.3 972.0L557.0 973.0L556.1 973.8L555.0 973.1L555.6 974.2L554.6 975.2L553.8 976.1L552.6 975.5L552.0 974.0L551.2 971.8L550.4 970.9L549.0 970.0L547.9 969.3L547.5 967.8L546.0 966.0L547.5 964.3L547.2 962.5L548.0 961.0L548.9 959.6L550.2 958.5L551.0 956.0L551.9 954.6L552.1 953.5L552.7 951.8L554.0 950.0L555.9 948.6L557.0 947.8L559.0 947.0L560.6 945.4L561.9 944.6L563.0 944.0L564.3 943.6Z" fill="#db93b0" stroke="#db93b0" stroke-width="0.9"><title>福建</title></path>
<path d="M520.0 967.0L521.1 967.1L522.5 968.0L525.0 968.0L527.4 968.0L528.6 966.3L530.0 966.0L531.2 965.5L532.4 964.3L533.0 962.0L533.6 963.0L535.0 964.2L536.0 966.0L537.6 966.5L539.5 966.3L541.0 968.0L542.6 967.7L543.5 966.9L545.1 966.6L546.0 966.0L547.5 967.8L547.9 969.3L549.0 970.0L550.4 970.9L551.2 971.8L552.0 974.0L553.1 974.1L553.4 975.1L552.8 976.1L553.0 977.0L552.0 977.3L551.9 978.5L551.4 979.6L552.1 981.1L551.0 982.0L550.7 982.9L549.8 983.3L548.9 984.1L547.8 984.4L547.0 985.0L545.5 985.6L544.6 985.3L543.8 984.4L542.7 984.0L541.8 985.3L541.2 986.9L540.0 987.0L538.3 987.1L537.4 986.7L536.6 986.1L536.0 987.0L534.6 986.5L533.7 987.4L534.0 989.0L533.1 990.3L531.8 990.5L530.8 990.8L529.3 990.6L528.0 991.0L526.6 990.5L525.7 989.6L524.6 989.6L524.0 990.4L524.1 991.5L522.7 992.2L522.0 993.0L520.9 993.0L520.4 992.4L519.5 992.6L519.2 993.7L518.3 994.5L517.0 994.0L516.0 993.7L515.1 994.7L514.5 996.0L514.9 997.0L513.5 996.7L512.0 996.0L510.7 996.6L509.4 997.0L509.0 998.0L508.5 999.0L508.6 1000.0L507.2 999.7L506.0 1000.0L506.1 1002.3L505.3 1003.9L505.0 1005.0L503.1 1004.6L502.0 1004.0L501.9 1002.7L502.4 1001.0L502.0 999.0L503.2 997.2L503.9 995.5L504.0 994.0L505.3 992.6L505.8 991.0L508.0 990.0L509.4 988.8L509.7 987.0L512.0 986.0L513.2 984.3L514.3 983.7L514.1 982.0L515.0 980.0L516.0 978.8L517.0 976.7L517.5 975.6L518.0 974.0L517.2 972.7L516.5 971.9L516.0 970.0L517.3 968.5L518.2 967.6Z" fill="#ac1c5b" stroke="#ac1c5b" stroke-width="0.9"><title>广东</title></path>
<path d="M495.0 1013.0L496.8 1011.7L498.0 1010.0L499.5 1009.2L500.6 1008.6L503.0 1008.0L504.6 1007.5L506.2 1007.4L507.7 1007.6L509.0 1008.0L510.0 1008.8L511.0 1010.0L510.2 1012.2L509.0 1014.0L508.0 1015.0L507.1 1015.9L506.0 1018.0L504.1 1019.1L502.9 1020.0L502.0 1021.0L500.5 1021.0L498.0 1021.0L497.0 1019.5L495.0 1018.0L495.1 1016.3L495.0 1015.2Z" fill="#ecbcd2" stroke="#ecbcd2" stroke-width="0.9"><title>海南</title></path>
<g fill="none" stroke-width="0.7">
<path d="M413.0 815.6L415.0 816.3L416.3 816.1L417.9 815.4L419.8 813.8L421.6 814.1L423.2 814.8L424.7 816.3L426.0 817.0L428.4 817.5L429.9 817.4L431.4 816.5L433.5 816.9L434.9 816.8L436.0 816.0L437.3 816.5L438.6 816.7L439.6 817.6L440.7 818.8L443.1 819.0L444.5 818.6L446.0 819.0L448.3 819.7L449.5 819.0L451.5 819.3L452.3 820.5L454.3 821.2L456.0 823.0L458.3 823.5L459.9 823.6L461.4 824.2L463.2 825.3L464.7 825.2L466.0 825.0L468.6 824.6L470.6 824.1L472.0 823.0L474.1 821.8L476.7 821.4L478.1 820.4L480.0 820.0L482.1 818.7L484.6 818.5L486.6 818.2L488.0 818.9L490.0 818.0L491.7 819.1L493.5 818.9L495.9 818.7L497.6 817.5L498.4 816.3L500.0 816.0L501.9 816.1L503.1 815.6L504.2 814.9L505.7 813.8L507.0 812.0L508.8 811.1L509.8 810.0L510.7 808.6L512.0 807.0L513.6 804.9L515.0 804.0L516.0 802.8L517.8 801.5L518.0 799.0L516.1 797.6L515.0 796.0L516.2 794.2L518.0 793.0L519.4 793.9L521.3 793.8L523.3 793.0L524.8 793.7L526.0 794.0L528.3 794.2L530.6 794.1L532.4 792.2L534.0 791.0L535.1 789.5L537.0 788.0L538.7 787.4L540.1 787.1L541.7 786.9L544.0 786.0L545.4 784.2L546.5 783.2L548.2 782.8L550.0 781.0L551.0 779.9L553.1 779.8L554.6 778.0L556.5 776.9L558.0 777.0L559.4 775.7L560.8 775.5L562.5 774.2L564.0 774.0L564.9 774.5L566.3 775.3L567.7 775.6L569.0 775.0L570.6 774.6L573.0 774.0L573.9 772.1L574.0 770.0L573.6 768.2L573.1 767.0L571.8 766.3L570.5 765.8L569.0 765.0L566.8 764.8L565.2 763.5L564.0 763.0L561.8 761.8L560.0 762.0L559.3 763.2L557.6 763.8L555.6 763.8L554.0 764.0L552.5 762.4L550.9 762.3L549.6 762.8L548.0 763.0L546.2 762.1L545.1 760.7L544.0 760.0L544.3 757.9L544.7 756.1L546.0 754.0L546.4 752.3L547.6 751.1L549.1 749.6L550.0 748.0L550.8 746.8L552.0 745.6L552.3 743.7L552.0 742.0L554.4 742.3L556.2 741.6L558.4 742.5L560.0 743.0L561.4 742.2L562.3 741.7L563.6 740.2L565.0 740.0L567.0 738.8L568.2 738.0L569.1 736.4L568.9 734.7L569.4 733.7L570.0 732.0L570.8 729.8L570.9 728.0L571.7 727.2L573.0 726.0L572.9 724.6L573.5 722.8L573.8 721.2L575.0 720.0L575.6 718.3L577.6 716.7L577.8 715.2L579.0 714.0L578.3 713.0L578.0 711.3L576.9 709.9L576.0 709.0L576.5 707.2L576.8 705.3L578.6 703.8L580.0 703.0L581.7 702.1L582.9 702.0L584.4 701.4L586.3 701.0L588.0 700.0L587.8 701.7L586.7 702.6L586.0 705.0L586.4 707.3L586.6 708.8L588.0 710.0L589.6 710.3L590.8 710.2L592.6 711.6L594.0 712.0L593.9 713.7L593.7 715.0L594.8 716.7L595.0 718.0L595.0 719.6L596.5 721.2L596.6 722.6L598.0 724.0L600.1 723.4L602.4 723.8L604.0 724.4L606.0 725.0L607.4 724.5L609.0 723.5L610.5 722.5L612.0 722.0L612.9 723.0L614.0 723.7L615.0 724.6L616.0 726.0L616.6 728.4L616.8 730.4L617.0 732.0L616.0 733.3L615.3 734.8L614.7 736.8L614.0 738.0L614.5 739.1L614.2 740.8L613.5 742.6L612.0 744.0L611.1 745.0L610.2 747.1L610.6 748.9L610.0 750.0L609.2 751.0L607.8 752.4L608.0 754.4L607.0 756.0L604.6 756.6L603.8 757.9L602.0 759.0L601.1 760.2L600.3 761.8L598.9 762.0L598.0 763.0L597.5 764.4L596.1 765.3L594.9 765.9L594.0 767.0L593.7 768.5L593.5 769.8L593.0 772.0L594.3 772.5L595.1 773.6L596.7 774.3L598.0 775.0L598.6 777.1L600.0 778.0L598.5 778.0L597.0 779.0L596.3 780.0L595.1 781.1L593.0 782.0L590.7 782.9L590.1 784.4L589.0 785.0L589.4 786.9L590.3 788.9L590.1 790.4L590.0 792.0L591.0 793.0L592.3 794.3L593.7 796.1L594.0 798.0L595.1 799.8L596.8 800.4L598.3 801.6L599.0 803.0L599.9 804.0L600.8 805.5L601.1 807.6L602.0 809.0L601.3 810.4L600.0 811.0L598.6 810.9L597.3 810.6L595.8 811.4L594.7 811.9L593.0 811.7L592.1 812.3L591.1 813.3L590.0 815.0L588.9 816.0L587.1 815.9L585.7 817.8L584.5 818.7L582.6 818.9L581.2 818.2L580.0 818.0L578.6 819.8L577.1 819.6L575.6 820.4L573.2 819.7L571.0 820.0L570.5 821.8L570.5 823.2L569.0 825.3L569.0 827.0L567.6 826.9L565.9 826.8L564.0 825.0L562.8 823.5L561.4 822.5L560.3 821.2L560.0 820.0L558.3 820.0L556.5 819.1L554.0 819.0L552.2 818.7L550.7 819.7L549.1 821.0L548.0 823.0L546.3 824.1L544.8 824.2L543.1 824.5L542.0 825.0L540.9 823.8L539.5 822.3L537.0 822.0L535.6 823.2L534.4 824.3L534.0 826.1L533.0 827.0L533.2 828.4L533.7 830.7L534.6 831.6L535.0 833.0L534.9 834.6L534.0 837.0L532.0 836.3L530.4 835.8L529.1 836.1L527.7 836.5L526.0 838.0L524.5 838.8L523.1 838.9L521.5 840.7L519.6 840.8L518.0 841.0L516.3 842.1L514.7 842.6L513.6 843.4L512.5 844.1L511.3 844.4L510.0 845.0L508.1 845.0L506.2 846.1L504.9 846.6L504.0 848.0L502.7 849.4L502.4 850.8L502.1 853.0L500.7 853.8L499.4 854.6L498.0 856.0L495.6 856.9L494.8 858.7L493.4 859.6L492.1 859.6L490.0 860.0L488.7 860.2L487.6 861.0L486.3 862.4L485.0 863.5L483.5 862.5L482.5 861.0L481.2 859.2L480.6 857.5L481.0 856.2L480.8 854.8L482.0 853.5L480.9 852.2L481.0 850.0L479.5 849.2L478.8 848.0L477.6 849.3L476.0 850.0L475.1 851.2L475.0 853.0L474.7 854.9L475.0 857.0L475.2 858.8L474.0 860.6L472.7 862.5L471.0 863.0L469.5 862.9L467.5 864.0L466.2 864.9L465.0 865.6L463.8 864.9L462.5 863.7L460.8 862.8L459.9 862.0L458.7 861.0L457.5 859.6L457.0 858.0L458.5 856.4L458.7 855.0L460.3 853.7L461.0 852.0L461.7 850.5L462.5 848.7L461.2 848.1L460.0 847.0L458.6 846.8L457.0 847.8L455.0 847.5L452.7 847.3L451.3 848.3L450.0 848.7L447.8 848.6L446.0 850.0L444.3 849.0L442.6 847.8L441.5 847.7L440.0 847.5L438.6 846.6L437.9 844.5L436.6 844.1L435.0 843.7L433.4 842.0L432.5 840.0L432.3 838.4L432.6 837.3L433.7 835.0L432.1 833.3L430.0 832.5L428.1 832.6L427.2 833.5L425.0 833.7L422.8 832.5L421.0 832.7L419.8 831.1L419.0 830.0L418.6 828.5L418.8 827.2L417.0 826.2L416.0 824.0L414.8 822.7L414.7 820.7L413.8 819.0L413.5 817.8Z" stroke="#b890a4" stroke-opacity="0.6"/>
<path d="M588.0 700.0L589.4 699.2L591.0 699.3L592.8 699.8L595.1 700.3L596.8 699.9L598.0 699.7L600.0 698.4L601.5 698.1L602.7 698.3L604.3 699.5L606.4 700.3L608.0 701.0L609.4 701.6L610.5 702.5L612.5 702.8L613.1 703.6L614.4 704.7L616.0 706.0L616.9 707.7L616.9 709.1L618.2 710.7L620.0 712.0L621.1 712.9L621.6 714.9L621.9 716.5L621.4 717.9L622.0 719.0L623.0 720.0L624.0 721.7L623.9 723.2L624.4 724.3L624.2 726.1L624.5 727.9L624.7 729.0L626.0 730.0L627.3 731.9L628.7 733.2L628.8 734.7L628.6 736.0L630.0 738.0L631.3 739.5L632.3 740.2L633.6 741.1L634.0 743.0L635.3 744.6L636.5 744.9L638.0 745.7L640.1 745.7L641.7 746.3L644.0 747.0L645.6 748.4L646.3 749.7L647.9 750.2L649.1 750.2L651.0 752.0L651.8 753.6L653.2 754.8L652.9 757.2L653.1 758.9L654.0 760.0L655.2 761.0L656.3 761.6L657.2 763.1L658.0 764.0L659.2 763.3L661.0 762.4L662.3 762.6L664.0 763.0L664.8 762.2L666.3 761.5L667.4 759.8L668.7 759.6L670.0 759.0L672.4 759.3L674.4 759.5L676.0 758.0L678.0 757.0L679.8 757.0L681.3 757.5L682.4 757.6L681.9 759.8L681.0 762.0L680.0 763.5L679.3 764.6L679.6 766.9L679.8 768.1L679.7 769.9L679.0 770.8L678.0 772.0L676.8 772.9L675.5 774.6L676.0 776.2L675.5 777.4L674.9 779.2L674.3 780.5L674.0 782.0L673.1 783.0L672.3 784.6L671.6 786.0L670.9 787.1L669.5 788.9L668.0 790.0L666.1 790.6L664.6 790.1L663.5 790.6L661.2 791.8L660.0 793.0L658.6 793.7L657.5 794.1L656.2 795.4L656.0 797.0L656.2 799.6L656.2 801.1L656.0 803.0L655.4 804.1L655.4 806.1L654.0 808.0L652.7 808.5L650.8 807.7L649.4 806.9L648.0 806.0L646.5 806.9L644.4 807.4L642.0 807.0L639.7 806.0L638.5 804.7L637.3 803.4L637.0 802.0L635.9 800.1L634.7 798.7L633.0 798.1L632.0 797.0L630.3 796.6L628.4 796.3L627.0 795.8L626.0 795.0L624.8 793.8L624.2 792.4L622.9 791.0L621.4 790.6L620.0 790.0L618.2 789.1L616.6 788.8L615.2 789.4L614.0 789.0L612.5 788.4L611.5 786.9L609.3 786.4L608.0 787.0L607.1 786.2L605.6 784.9L604.2 784.0L603.0 782.0L602.4 780.0L600.9 779.4L600.0 778.0L598.6 777.1L598.0 775.0L596.7 774.3L595.1 773.6L594.3 772.5L593.0 772.0L593.5 769.8L593.7 768.5L594.0 767.0L594.9 765.9L596.1 765.3L597.5 764.4L598.0 763.0L598.9 762.0L600.3 761.8L601.1 760.2L602.0 759.0L603.8 757.9L604.6 756.6L607.0 756.0L608.0 754.4L607.8 752.4L609.2 751.0L610.0 750.0L610.6 748.9L610.2 747.1L611.1 745.0L612.0 744.0L613.5 742.6L614.2 740.8L614.5 739.1L614.0 738.0L614.7 736.8L615.3 734.8L616.0 733.3L617.0 732.0L616.8 730.4L616.6 728.4L616.0 726.0L615.0 724.6L614.0 723.7L612.9 723.0L612.0 722.0L610.5 722.5L609.0 723.5L607.4 724.5L606.0 725.0L604.0 724.4L602.4 723.8L600.1 723.4L598.0 724.0L596.6 722.6L596.5 721.2L595.0 719.6L595.0 718.0L594.8 716.7L593.7 715.0L593.9 713.7L594.0 712.0L592.6 711.6L590.8 710.2L589.6 710.3L588.0 710.0L586.6 708.8L586.4 707.3L586.0 705.0L586.7 702.6L587.8 701.7Z" stroke="#b890a4" stroke-opacity="0.6"/>
<path d="M600.0 778.0L600.9 779.4L602.4 780.0L603.0 782.0L604.2 784.0L605.6 784.9L607.1 786.2L608.0 787.0L609.3 786.4L611.5 786.9L612.5 788.4L614.0 789.0L615.2 789.4L616.6 788.8L618.2 789.1L620.0 790.0L621.4 790.6L622.9 791.0L624.2 792.4L624.8 793.8L626.0 795.0L627.0 795.8L628.4 796.3L630.3 796.6L632.0 797.0L633.0 798.1L634.7 798.7L635.9 800.1L637.0 802.0L637.3 803.4L638.5 804.7L639.7 806.0L642.0 807.0L644.4 807.4L646.5 806.9L648.0 806.0L649.4 806.9L650.8 807.7L652.7 808.5L654.0 808.0L655.0 808.9L655.2 810.5L655.0 813.0L653.7 813.8L652.7 815.2L651.0 817.0L650.1 815.1L648.0 814.0L646.8 815.0L646.1 816.7L644.0 818.0L642.2 819.3L640.0 819.7L639.0 821.0L638.5 822.3L636.8 823.1L635.0 825.0L633.1 824.9L631.8 825.9L630.0 827.0L627.5 826.3L627.1 825.0L626.0 824.0L624.5 824.3L622.8 825.3L621.6 826.6L620.0 827.0L618.3 827.1L616.0 828.0L614.6 825.9L613.0 825.0L613.2 823.5L613.0 822.0L611.8 820.8L610.8 819.8L610.2 818.0L610.0 816.0L608.7 815.2L607.3 813.1L606.8 811.9L605.0 811.0L603.7 810.3L602.0 809.0L601.1 807.6L600.8 805.5L599.9 804.0L599.0 803.0L598.3 801.6L596.8 800.4L595.1 799.8L594.0 798.0L593.7 796.1L592.3 794.3L591.0 793.0L590.0 792.0L590.1 790.4L590.3 788.9L589.4 786.9L589.0 785.0L590.1 784.4L590.7 782.9L593.0 782.0L595.1 781.1L596.3 780.0L597.0 779.0L598.5 778.0Z" stroke="#b890a4" stroke-opacity="0.6"/>
<path d="M602.0 809.0L603.7 810.3L605.0 811.0L606.8 811.9L607.3 813.1L608.7 815.2L610.0 816.0L610.2 818.0L610.8 819.8L611.8 820.8L613.0 822.0L613.2 823.5L613.0 825.0L614.6 825.9L616.0 828.0L614.7 827.7L614.0 828.5L613.1 828.9L612.9 830.0L613.1 831.0L614.1 831.5L614.0 833.0L612.8 833.1L612.2 832.6L610.9 833.0L610.3 834.1L608.9 834.1L608.4 835.3L608.1 836.6L609.0 837.0L608.2 837.8L607.8 838.5L607.8 839.6L606.4 840.3L605.0 841.0L603.8 841.0L603.0 841.0L602.0 840.9L600.9 841.8L599.3 842.0L598.7 840.7L597.8 841.3L597.2 841.7L596.9 842.7L597.0 844.0L595.4 844.2L594.2 844.5L593.4 843.6L592.4 844.1L591.6 845.3L590.6 845.4L591.0 847.0L590.3 847.9L589.6 848.1L588.3 848.0L587.4 847.9L586.8 849.0L585.7 848.9L586.5 850.0L586.0 851.0L584.8 851.3L584.0 851.5L583.0 852.0L584.6 850.8L584.7 849.1L585.0 848.0L585.6 845.7L586.7 845.0L588.0 844.0L588.4 841.9L589.0 840.6L590.0 839.0L589.2 837.1L588.0 835.0L586.3 834.5L584.0 834.0L582.4 834.8L581.4 836.1L580.1 837.3L579.0 838.0L577.3 838.0L576.3 838.8L575.8 840.8L574.0 842.0L571.5 842.0L570.0 843.0L569.3 841.2L568.6 839.8L567.0 838.0L567.4 835.9L566.2 834.3L566.0 833.0L566.8 831.9L568.0 830.4L568.5 828.9L569.0 827.0L569.0 825.3L570.5 823.2L570.5 821.8L571.0 820.0L573.2 819.7L575.6 820.4L577.1 819.6L578.6 819.8L580.0 818.0L581.2 818.2L582.6 818.9L584.5 818.7L585.7 817.8L587.1 815.9L588.9 816.0L590.0 815.0L591.1 813.3L592.1 812.3L593.0 811.7L594.7 811.9L595.8 811.4L597.3 810.6L598.6 810.9L600.0 811.0L601.3 810.4Z" stroke="#ee9fc4" stroke-opacity="0.6"/>
<path d="M338.0 749.6L339.4 750.5L341.4 750.3L342.4 749.7L344.0 749.6L345.1 751.1L345.7 752.0L346.2 753.6L346.0 755.0L347.6 755.7L348.1 756.9L349.0 758.3L351.0 759.0L352.3 760.2L354.3 760.5L356.0 762.0L357.2 762.7L359.3 762.8L360.8 763.3L362.0 765.0L363.2 765.9L364.1 767.7L364.7 770.1L366.0 772.0L366.2 774.0L366.7 775.0L367.2 776.4L367.5 777.8L367.0 780.0L365.8 781.1L365.0 783.3L365.3 784.7L365.0 786.0L365.9 786.7L366.2 788.4L366.4 789.5L367.0 791.0L368.4 791.0L370.1 791.5L372.0 792.2L373.6 791.4L376.0 792.0L377.9 793.5L379.6 793.6L381.3 793.2L382.7 793.4L384.0 793.0L385.4 794.9L387.0 795.7L389.3 795.2L390.6 796.0L392.0 796.0L393.4 797.4L395.1 797.2L396.4 798.0L398.6 799.0L400.0 800.0L399.9 801.5L400.5 802.6L400.9 804.2L402.0 806.0L403.2 806.6L403.9 808.2L406.2 809.4L406.3 810.9L405.7 813.0L407.0 815.0L408.2 816.5L408.5 817.6L409.0 819.0L408.4 820.0L408.7 821.8L407.5 822.8L406.0 824.0L404.6 823.8L403.4 824.3L401.9 824.7L400.2 824.3L398.6 824.4L397.6 825.0L396.0 826.0L394.7 825.6L392.7 826.4L391.5 827.6L390.4 827.8L388.0 827.8L386.0 829.0L384.7 830.9L382.8 831.4L382.5 833.1L382.3 834.3L381.0 836.0L381.6 837.5L381.4 840.0L379.9 841.2L379.4 842.8L379.0 844.0L379.6 846.3L379.4 847.8L380.0 850.0L379.0 851.3L377.9 851.9L376.0 852.0L374.0 852.0L372.4 852.9L370.8 852.7L369.8 853.2L368.8 854.5L367.0 855.0L365.4 856.6L364.4 857.6L363.0 859.0L363.3 861.5L364.0 862.6L365.0 864.0L365.1 865.4L365.6 867.3L366.9 868.4L368.0 868.7L369.0 870.0L368.4 871.6L367.5 872.7L367.8 874.3L367.0 876.0L364.8 876.2L363.1 876.8L362.0 877.0L360.3 877.2L359.0 878.0L356.5 877.6L355.8 875.8L354.0 875.0L352.4 875.2L351.0 874.7L349.2 873.4L347.5 873.6L346.0 874.0L344.1 875.2L342.4 875.3L341.2 874.7L339.9 874.5L338.0 875.0L336.0 875.1L333.8 875.3L332.1 876.8L330.0 877.0L328.3 877.0L327.4 877.9L325.9 878.5L324.0 879.0L321.6 878.3L319.9 879.1L318.1 879.7L316.0 881.0L314.4 880.9L312.7 881.2L311.0 881.9L309.0 882.0L307.2 880.8L306.0 880.0L303.9 879.2L302.3 879.8L301.3 880.1L299.2 880.9L298.0 883.0L296.6 882.2L294.7 882.7L293.2 883.2L291.0 884.0L289.9 884.8L288.7 886.0L288.0 888.0L286.0 888.2L284.2 889.8L282.5 890.3L281.0 890.0L279.0 889.0L277.9 886.7L277.4 884.7L276.1 884.1L275.0 883.0L274.7 881.7L273.4 880.7L271.7 880.1L270.0 880.0L268.2 879.9L266.4 879.5L265.1 879.1L264.1 877.7L262.0 877.0L260.2 875.8L259.4 874.4L259.0 873.0L257.5 872.5L255.8 870.8L254.8 869.9L254.0 868.0L253.2 866.6L251.6 865.3L250.1 865.0L249.0 865.0L249.3 863.5L249.2 862.1L250.3 859.8L250.0 858.0L248.8 856.8L247.3 856.2L246.0 854.0L245.2 852.4L244.3 850.9L244.3 848.7L244.0 847.0L245.4 845.4L246.0 843.0L247.3 843.0L248.7 841.7L249.6 840.0L251.0 839.0L252.2 839.5L253.9 838.8L255.6 838.0L257.0 838.0L258.1 836.8L259.0 836.0L260.9 835.8L262.5 835.5L264.1 834.4L266.0 833.0L268.4 832.3L269.9 831.9L270.9 830.7L272.0 829.8L274.0 829.0L275.0 828.6L276.3 827.6L277.6 827.0L278.3 825.5L280.4 825.8L282.0 825.0L283.2 824.5L284.5 823.2L286.4 822.0L288.0 820.0L289.4 818.8L290.9 817.9L291.4 816.8L292.0 815.0L291.6 813.0L291.6 811.3L292.3 809.8L293.0 808.0L291.8 806.0L292.1 804.6L292.3 803.2L292.0 801.0L291.0 800.0L290.9 798.7L290.9 797.2L290.3 795.3L289.0 793.6L290.0 793.0L291.3 792.3L293.1 792.6L294.4 792.2L295.7 791.1L298.0 791.0L299.6 791.5L301.2 791.3L303.1 789.8L305.0 789.0L305.0 787.0L305.9 786.0L306.0 784.0L306.5 782.3L307.4 781.1L307.4 778.6L309.0 777.0L310.0 775.6L310.8 773.5L311.0 771.0L312.7 770.9L314.8 771.6L317.3 771.8L318.7 771.5L320.0 772.0L321.4 771.9L323.0 772.4L324.3 771.5L324.7 770.4L327.0 770.0L327.0 768.6L327.4 767.0L329.0 765.0L329.1 763.8L329.2 762.2L329.5 760.2L330.0 759.0L331.1 758.2L332.9 757.9L334.1 755.7L336.0 755.0L336.9 754.2L337.5 752.8L337.3 751.1Z" stroke="#b890a4" stroke-opacity="0.6"/>
<path d="M281.0 890.0L282.5 890.3L284.2 889.8L286.0 888.2L288.0 888.0L288.7 886.0L289.9 884.8L291.0 884.0L293.2 883.2L294.7 882.7L296.6 882.2L298.0 883.0L299.2 880.9L301.3 880.1L302.3 879.8L303.9 879.2L306.0 880.0L307.2 880.8L309.0 882.0L311.0 881.9L312.7 881.2L314.4 880.9L316.0 881.0L318.1 879.7L319.9 879.1L321.6 878.3L324.0 879.0L325.9 878.5L327.4 877.9L328.3 877.0L330.0 877.0L332.1 876.8L333.8 875.3L336.0 875.1L338.0 875.0L339.9 874.5L341.2 874.7L342.4 875.3L344.1 875.2L346.0 874.0L347.5 873.6L349.2 873.4L351.0 874.7L352.4 875.2L354.0 875.0L355.8 875.8L356.5 877.6L359.0 878.0L358.5 879.8L358.7 880.9L358.4 882.6L358.3 884.2L357.0 886.0L357.7 888.4L357.8 889.7L357.3 891.1L359.4 892.5L360.0 894.0L361.2 895.4L361.4 896.8L362.6 898.7L364.0 899.0L365.3 900.1L366.6 901.5L368.2 901.7L369.3 901.8L370.5 902.3L372.0 903.0L373.2 904.5L374.5 904.8L376.7 904.8L378.5 904.4L380.0 905.0L381.8 906.8L384.1 906.9L386.1 906.9L388.0 907.0L389.5 906.7L391.8 907.2L392.5 908.6L393.6 909.3L396.0 910.0L397.0 911.9L399.0 912.0L400.0 913.0L401.6 913.9L403.0 914.0L404.7 912.9L407.0 913.0L408.2 911.4L409.7 910.3L411.0 910.0L411.7 907.5L412.0 906.0L412.2 903.5L413.0 901.8L414.0 901.0L414.9 902.2L416.0 904.0L416.4 905.3L417.0 906.5L419.0 908.0L420.0 909.7L421.2 910.6L420.9 912.0L422.0 914.0L422.8 915.8L424.1 917.2L423.9 918.4L424.0 920.0L424.6 921.9L424.1 923.2L424.3 924.3L425.0 926.0L424.7 927.7L424.1 929.9L425.7 931.3L426.1 932.4L426.0 934.0L425.0 935.5L424.0 937.0L423.5 938.1L422.0 939.0L420.7 940.4L419.0 942.0L417.8 943.3L416.8 944.7L415.1 944.9L414.0 945.6L411.9 944.7L410.1 944.0L408.7 943.5L406.9 943.9L405.0 945.5L403.7 946.4L402.0 946.2L400.0 947.0L398.1 947.3L396.9 948.5L395.4 948.7L394.0 949.0L392.0 949.3L390.3 950.7L389.2 952.0L388.0 953.0L386.5 953.9L384.9 953.5L383.0 954.0L381.7 954.6L380.0 954.0L379.1 952.1L377.7 951.6L376.6 950.7L374.7 949.5L373.3 949.8L372.0 949.0L370.6 948.7L369.3 949.2L367.8 948.2L366.4 946.8L364.0 946.0L362.5 945.6L361.2 945.0L359.0 945.8L357.3 945.4L356.0 945.0L355.5 946.4L355.0 947.5L354.4 948.7L354.0 950.0L353.2 948.6L352.1 946.9L351.0 945.0L349.0 945.3L347.3 944.4L345.2 944.9L344.0 946.0L342.4 944.8L340.8 945.1L339.8 944.4L337.9 944.0L336.0 945.0L334.6 945.4L333.4 945.4L331.6 944.3L330.0 944.0L329.2 943.2L328.2 941.8L327.1 940.5L326.0 940.0L324.9 939.9L323.7 938.8L321.6 937.5L320.0 937.0L318.2 936.2L317.3 934.4L316.0 934.1L314.0 934.0L312.7 932.6L311.2 932.0L310.2 931.2L309.2 930.4L308.0 929.0L306.4 928.3L304.5 927.2L303.6 926.4L302.0 926.0L300.1 926.1L298.9 926.8L298.0 928.0L296.1 926.8L294.5 926.1L294.1 924.9L293.0 924.0L290.7 922.9L289.2 921.6L288.0 921.0L286.6 920.4L284.8 920.2L283.0 919.0L282.8 916.8L281.6 915.8L280.7 914.8L279.0 914.0L279.6 912.7L279.3 910.8L278.2 909.5L278.0 908.0L278.7 906.0L280.0 905.1L281.0 904.0L281.5 901.9L282.0 900.0L281.2 898.8L280.9 897.4L280.0 895.0L280.9 893.0L280.5 891.4Z" stroke="#b890a4" stroke-opacity="0.6"/>
<path d="M380.0 850.0L382.6 849.9L384.7 850.9L386.0 851.4L388.0 852.0L390.2 851.9L391.7 851.6L392.7 852.7L393.2 853.8L395.0 854.0L396.0 855.0L397.4 855.9L399.3 855.7L400.9 856.5L403.0 856.0L404.7 856.4L405.8 855.8L407.5 855.0L408.6 853.4L408.5 851.8L410.6 850.6L412.4 850.4L414.3 851.4L415.8 852.9L417.5 853.0L419.2 853.5L420.5 853.8L421.8 853.7L423.3 853.5L425.0 852.5L426.1 854.0L427.5 854.2L429.4 855.9L431.5 856.6L432.5 858.0L434.8 857.9L436.1 858.0L437.4 859.2L439.5 859.4L441.0 861.0L441.4 863.6L442.6 865.0L444.9 865.6L446.0 866.9L447.5 867.5L449.9 868.5L450.4 869.7L451.1 870.8L452.2 872.6L452.5 875.0L452.0 876.6L452.5 878.7L451.5 880.3L450.0 882.0L448.6 882.9L447.9 884.5L447.2 885.9L447.0 888.0L448.0 889.2L449.0 890.0L447.3 890.4L445.0 891.0L443.1 890.7L441.6 891.5L440.3 892.3L438.7 893.7L440.0 894.2L441.5 895.2L442.3 896.3L443.0 898.0L443.0 899.7L442.4 900.7L441.7 902.9L440.0 904.0L438.8 905.3L437.0 906.0L435.1 906.8L433.0 906.0L431.6 904.9L430.6 904.4L429.0 904.0L427.3 902.6L427.1 901.3L425.7 900.4L424.0 900.0L422.7 899.0L421.6 898.5L420.0 897.0L418.2 896.1L416.7 896.5L415.0 895.0L414.8 896.9L415.3 898.8L414.0 901.0L413.0 901.8L412.2 903.5L412.0 906.0L411.7 907.5L411.0 910.0L409.7 910.3L408.2 911.4L407.0 913.0L404.7 912.9L403.0 914.0L401.6 913.9L400.0 913.0L399.0 912.0L397.0 911.9L396.0 910.0L393.6 909.3L392.5 908.6L391.8 907.2L389.5 906.7L388.0 907.0L386.1 906.9L384.1 906.9L381.8 906.8L380.0 905.0L378.5 904.4L376.7 904.8L374.5 904.8L373.2 904.5L372.0 903.0L370.5 902.3L369.3 901.8L368.2 901.7L366.6 901.5L365.3 900.1L364.0 899.0L362.6 898.7L361.4 896.8L361.2 895.4L360.0 894.0L359.4 892.5L357.3 891.1L357.8 889.7L357.7 888.4L357.0 886.0L358.3 884.2L358.4 882.6L358.7 880.9L358.5 879.8L359.0 878.0L360.3 877.2L362.0 877.0L363.1 876.8L364.8 876.2L367.0 876.0L367.8 874.3L367.5 872.7L368.4 871.6L369.0 870.0L368.0 868.7L366.9 868.4L365.6 867.3L365.1 865.4L365.0 864.0L364.0 862.6L363.3 861.5L363.0 859.0L364.4 857.6L365.4 856.6L367.0 855.0L368.8 854.5L369.8 853.2L370.8 852.7L372.4 852.9L374.0 852.0L376.0 852.0L377.9 851.9L379.0 851.3Z" stroke="#b890a4" stroke-opacity="0.6"/>
<path d="M407.0 815.0L408.4 815.8L409.6 816.3L411.3 816.6L413.0 815.6L413.5 817.8L413.8 819.0L414.7 820.7L414.8 822.7L416.0 824.0L417.0 826.2L418.8 827.2L418.6 828.5L419.0 830.0L419.8 831.1L421.0 832.7L422.8 832.5L425.0 833.7L427.2 833.5L428.1 832.6L430.0 832.5L432.1 833.3L433.7 835.0L432.6 837.3L432.3 838.4L432.5 840.0L433.4 842.0L435.0 843.7L436.6 844.1L437.9 844.5L438.6 846.6L440.0 847.5L441.5 847.7L442.6 847.8L444.3 849.0L446.0 850.0L447.8 848.6L450.0 848.7L451.3 848.3L452.7 847.3L455.0 847.5L457.0 847.8L458.6 846.8L460.0 847.0L461.2 848.1L462.5 848.7L461.7 850.5L461.0 852.0L460.3 853.7L458.7 855.0L458.5 856.4L457.0 858.0L457.5 859.6L458.7 861.0L459.9 862.0L460.8 862.8L462.5 863.7L463.8 864.9L465.0 865.6L466.2 867.3L468.0 868.7L468.8 870.0L469.9 870.8L470.6 872.5L470.4 873.9L470.9 875.3L471.9 877.5L473.7 878.4L474.4 880.0L476.1 881.5L477.5 882.5L478.8 882.3L480.0 881.2L480.8 879.7L481.2 877.5L480.5 875.5L480.0 873.7L480.0 871.6L481.2 870.0L483.0 868.4L484.0 867.0L485.9 868.5L487.0 870.0L487.8 872.4L487.0 874.5L487.8 875.7L487.6 877.0L489.0 878.0L487.4 879.0L486.4 881.0L486.8 882.6L486.0 884.0L485.6 885.3L484.2 886.6L482.1 887.1L480.0 888.0L480.0 889.2L480.0 890.6L479.0 892.1L479.0 894.0L478.7 895.5L477.3 897.0L478.4 898.7L478.0 901.0L477.5 902.7L478.4 904.5L479.0 905.9L479.0 907.0L477.2 906.6L475.8 907.0L473.7 907.0L471.3 907.5L469.4 906.6L467.6 906.7L466.4 906.2L465.1 905.3L463.7 905.0L461.8 903.7L461.1 901.9L460.9 900.6L459.0 899.7L458.0 898.0L457.3 896.7L456.2 896.1L454.0 895.0L452.5 894.6L450.5 894.1L449.5 894.4L448.0 895.0L446.7 896.2L446.3 897.5L445.7 898.5L445.0 900.0L444.7 901.2L443.5 902.8L441.8 902.8L440.0 904.0L441.7 902.9L442.4 900.7L443.0 899.7L443.0 898.0L442.3 896.3L441.5 895.2L440.0 894.2L438.7 893.7L440.3 892.3L441.6 891.5L443.1 890.7L445.0 891.0L447.3 890.4L449.0 890.0L448.0 889.2L447.0 888.0L447.2 885.9L447.9 884.5L448.6 882.9L450.0 882.0L451.5 880.3L452.5 878.7L452.0 876.6L452.5 875.0L452.2 872.6L451.1 870.8L450.4 869.7L449.9 868.5L447.5 867.5L446.0 866.9L444.9 865.6L442.6 865.0L441.4 863.6L441.0 861.0L439.5 859.4L437.4 859.2L436.1 858.0L434.8 857.9L432.5 858.0L431.5 856.6L429.4 855.9L427.5 854.2L426.1 854.0L425.0 852.5L423.3 853.5L421.8 853.7L420.5 853.8L419.2 853.5L417.5 853.0L415.8 852.9L414.3 851.4L412.4 850.4L410.6 850.6L408.5 851.8L408.6 853.4L407.5 855.0L405.8 855.8L404.7 856.4L403.0 856.0L400.9 856.5L399.3 855.7L397.4 855.9L396.0 855.0L395.0 854.0L393.2 853.8L392.7 852.7L391.7 851.6L390.2 851.9L388.0 852.0L386.0 851.4L384.7 850.9L382.6 849.9L380.0 850.0L379.4 847.8L379.6 846.3L379.0 844.0L379.4 842.8L379.9 841.2L381.4 840.0L381.6 837.5L381.0 836.0L382.3 834.3L382.5 833.1L382.8 831.4L384.7 830.9L386.0 829.0L388.0 827.8L390.4 827.8L391.5 827.6L392.7 826.4L394.7 825.6L396.0 826.0L397.6 825.0L398.6 824.4L400.2 824.3L401.9 824.7L403.4 824.3L404.6 823.8L406.0 824.0L407.5 822.8L408.7 821.8L408.4 820.0L409.0 819.0L408.5 817.6L408.2 816.5Z" stroke="#b890a4" stroke-opacity="0.6"/>
<path d="M482.5 861.0L481.2 859.2L480.6 857.5L481.0 856.2L480.8 854.8L482.0 853.5L480.9 852.2L481.0 850.0L479.5 849.2L478.8 848.0L477.6 849.3L476.0 850.0L475.1 851.2L475.0 853.0L474.7 854.9L475.0 857.0L475.2 858.8L474.0 860.6L472.7 862.5L471.0 863.0L469.5 862.9L467.5 864.0L466.2 864.9L465.0 865.6L466.2 867.3L468.0 868.7L468.8 870.0L469.9 870.8L470.6 872.5L470.4 873.9L470.9 875.3L471.9 877.5L473.7 878.4L474.4 880.0L476.1 881.5L477.5 882.5L478.8 882.3L480.0 881.2L480.8 879.7L481.2 877.5L480.5 875.5L480.0 873.7L480.0 871.6L481.2 870.0L483.0 868.4L484.0 867.0L484.3 865.0L485.0 863.5L483.5 862.5Z" stroke="#b890a4" stroke-opacity="0.6"/>
<path d="M490.0 860.0L492.1 859.6L493.4 859.6L494.8 858.7L495.6 856.9L498.0 856.0L499.4 854.6L500.7 853.8L502.1 853.0L502.4 850.8L502.7 849.4L504.0 848.0L504.9 846.6L506.2 846.1L508.1 845.0L510.0 845.0L509.8 847.0L509.1 848.1L509.0 850.0L507.7 851.2L507.3 853.3L507.8 854.8L508.0 856.0L508.6 857.8L508.3 859.7L508.9 862.1L509.0 864.0L509.6 866.1L508.7 867.4L508.4 868.6L508.8 870.4L508.0 872.0L506.8 873.1L506.7 874.3L506.2 876.2L505.9 878.6L507.0 880.0L508.6 881.7L509.7 882.4L510.0 884.0L509.5 885.7L509.0 888.0L508.9 890.0L508.0 891.0L506.9 893.1L506.1 894.7L506.0 896.0L505.1 898.0L504.9 899.3L504.0 900.4L504.0 902.0L502.7 903.1L502.2 905.4L501.5 906.8L501.0 908.0L500.0 910.1L499.7 911.8L499.0 913.0L496.5 913.0L495.0 912.5L493.4 914.1L491.0 915.0L489.0 913.6L487.4 913.9L485.9 912.4L485.0 910.0L483.8 909.2L483.0 908.2L481.0 907.4L479.0 907.0L479.0 905.9L478.4 904.5L477.5 902.7L478.0 901.0L478.4 898.7L477.3 897.0L478.7 895.5L479.0 894.0L479.0 892.1L480.0 890.6L480.0 889.2L480.0 888.0L482.1 887.1L484.2 886.6L485.6 885.3L486.0 884.0L486.8 882.6L486.4 881.0L487.4 879.0L489.0 878.0L487.6 877.0L487.8 875.7L487.0 874.5L487.8 872.4L487.0 870.0L485.9 868.5L484.0 867.0L484.3 865.0L485.0 863.5L486.3 862.4L487.6 861.0L488.7 860.2Z" stroke="#ee9fc4" stroke-opacity="0.6"/>
<path d="M510.0 845.0L511.3 844.4L512.5 844.1L513.6 843.4L514.7 842.6L516.3 842.1L518.0 841.0L519.6 840.8L521.5 840.7L523.1 838.9L524.5 838.8L526.0 838.0L527.7 836.5L529.1 836.1L530.4 835.8L532.0 836.3L534.0 837.0L534.0 838.4L533.3 840.0L533.0 842.0L531.8 843.0L530.9 843.9L530.0 846.0L528.7 848.2L528.4 849.6L529.0 851.0L530.3 852.0L530.9 853.0L531.5 854.3L531.0 856.0L530.6 857.3L529.7 858.9L530.4 860.5L530.0 862.0L529.2 863.3L529.4 865.2L530.0 866.8L531.0 868.0L531.0 870.2L530.3 871.5L529.0 873.0L530.7 874.7L531.0 877.0L530.3 878.2L530.0 880.0L528.8 881.1L527.5 882.4L525.5 883.7L523.3 884.9L521.7 885.6L519.5 886.0L518.0 887.2L516.5 887.7L515.0 888.5L513.5 889.0L511.7 889.1L510.3 888.9L509.6 890.3L508.0 891.0L508.9 890.0L509.0 888.0L509.5 885.7L510.0 884.0L509.7 882.4L508.6 881.7L507.0 880.0L505.9 878.6L506.2 876.2L506.7 874.3L506.8 873.1L508.0 872.0L508.8 870.4L508.4 868.6L508.7 867.4L509.6 866.1L509.0 864.0L508.9 862.1L508.3 859.7L508.6 857.8L508.0 856.0L507.8 854.8L507.3 853.3L507.7 851.2L509.0 850.0L509.1 848.1L509.8 847.0Z" stroke="#ee9fc4" stroke-opacity="0.6"/>
<path d="M535.0 833.0L534.6 831.6L533.7 830.7L533.2 828.4L533.0 827.0L534.0 826.1L534.4 824.3L535.6 823.2L537.0 822.0L539.5 822.3L540.9 823.8L542.0 825.0L543.1 824.5L544.8 824.2L546.3 824.1L548.0 823.0L549.1 821.0L550.7 819.7L552.2 818.7L554.0 819.0L556.5 819.1L558.3 820.0L560.0 820.0L560.3 821.2L561.4 822.5L562.8 823.5L564.0 825.0L565.9 826.8L567.6 826.9L569.0 827.0L568.5 828.9L568.0 830.4L566.8 831.9L566.0 833.0L566.2 834.3L567.4 835.9L567.0 838.0L568.6 839.8L569.3 841.2L570.0 843.0L569.3 844.9L567.0 846.0L565.9 846.6L564.3 846.7L563.0 848.0L562.4 849.0L562.2 850.9L561.5 851.9L560.0 853.0L560.2 854.2L561.0 856.0L559.4 857.3L558.0 858.0L557.1 859.3L555.0 860.0L553.8 861.2L552.2 862.2L550.0 863.0L547.6 863.9L547.1 865.1L546.0 866.0L545.1 867.9L543.8 868.5L543.3 869.6L543.0 871.0L542.3 873.5L541.4 874.8L541.0 876.0L539.1 877.6L537.5 877.7L535.2 878.3L533.8 877.7L532.0 877.0L531.0 877.0L530.7 874.7L529.0 873.0L530.3 871.5L531.0 870.2L531.0 868.0L530.0 866.8L529.4 865.2L529.2 863.3L530.0 862.0L530.4 860.5L529.7 858.9L530.6 857.3L531.0 856.0L531.5 854.3L530.9 853.0L530.3 852.0L529.0 851.0L528.4 849.6L528.7 848.2L530.0 846.0L530.9 843.9L531.8 843.0L533.0 842.0L533.3 840.0L534.0 838.4L534.0 837.0L534.9 834.6Z" stroke="#ee9fc4" stroke-opacity="0.6"/>
<path d="M543.0 841.5L543.7 839.9L545.0 838.0L546.1 836.4L547.0 835.0L548.0 833.8L550.0 832.5L551.4 833.6L552.5 834.0L553.6 835.1L555.0 836.0L556.1 837.2L556.5 838.5L555.7 839.7L555.0 841.0L553.7 842.0L552.5 843.0L551.3 844.1L550.0 845.0L548.3 845.5L547.0 845.5L544.5 845.0L543.0 843.5Z" stroke="#b890a4" stroke-opacity="0.6"/>
<path d="M553.0 841.5L554.4 840.8L556.0 840.0L557.1 840.5L558.5 841.5L559.1 843.1L559.5 844.5L560.3 846.2L560.5 848.0L560.0 849.8L559.5 852.0L557.9 852.9L557.0 854.0L555.0 853.4L553.5 852.5L552.8 851.1L552.0 850.0L552.4 848.3L553.0 846.5L553.5 844.0Z" stroke="#b890a4" stroke-opacity="0.6"/>
<path d="M414.0 901.0L415.3 898.8L414.8 896.9L415.0 895.0L416.7 896.5L418.2 896.1L420.0 897.0L421.6 898.5L422.7 899.0L424.0 900.0L425.7 900.4L427.1 901.3L427.3 902.6L429.0 904.0L430.6 904.4L431.6 904.9L433.0 906.0L435.1 906.8L437.0 906.0L438.8 905.3L440.0 904.0L441.8 902.8L443.5 902.8L444.7 901.2L445.0 900.0L445.7 898.5L446.3 897.5L446.7 896.2L448.0 895.0L449.5 894.4L450.5 894.1L452.5 894.6L454.0 895.0L456.2 896.1L457.3 896.7L458.0 898.0L459.0 899.7L460.9 900.6L461.1 901.9L461.8 903.7L463.7 905.0L465.1 905.3L466.4 906.2L467.6 906.7L469.4 906.6L471.3 907.5L473.7 907.0L475.8 907.0L477.2 906.6L479.0 907.0L481.0 907.4L483.0 908.2L483.8 909.2L485.0 910.0L487.2 910.8L488.7 911.7L490.1 913.6L490.3 915.3L491.2 916.2L490.2 917.7L489.9 918.9L488.9 920.2L487.6 921.2L486.2 923.0L484.5 923.7L482.9 923.4L481.6 924.3L480.3 925.7L478.7 927.5L476.9 928.8L475.3 929.4L473.3 929.3L471.9 930.0L470.8 931.6L470.6 933.7L471.2 934.9L471.1 936.3L472.3 937.9L473.6 939.3L475.0 941.2L477.0 942.0L475.9 943.9L474.1 944.2L473.0 945.5L471.7 944.5L470.5 944.0L469.0 942.4L467.5 941.2L466.9 942.6L466.1 943.7L463.9 944.7L461.8 944.3L460.0 945.0L458.9 945.8L458.1 946.8L457.0 948.0L456.3 949.4L456.0 950.7L454.6 952.2L453.0 954.0L451.6 954.6L450.0 956.2L449.6 957.7L449.0 960.0L447.6 959.3L447.0 958.2L445.4 958.3L443.0 958.0L441.8 957.2L440.2 956.0L438.7 955.0L437.9 953.9L437.0 953.0L435.7 952.2L434.3 951.0L432.9 949.0L432.0 947.0L431.3 945.4L431.0 944.1L429.7 943.2L428.6 942.0L427.0 941.0L424.5 940.6L423.2 939.6L422.0 939.0L423.5 938.1L424.0 937.0L425.0 935.5L426.0 934.0L426.1 932.4L425.7 931.3L424.1 929.9L424.7 927.7L425.0 926.0L424.3 924.3L424.1 923.2L424.6 921.9L424.0 920.0L423.9 918.4L424.1 917.2L422.8 915.8L422.0 914.0L420.9 912.0L421.2 910.6L420.0 909.7L419.0 908.0L417.0 906.5L416.4 905.3L416.0 904.0L414.9 902.2Z" stroke="#ee9fc4" stroke-opacity="0.6"/>
<path d="M422.0 939.0L423.2 939.6L424.5 940.6L427.0 941.0L428.6 942.0L429.7 943.2L431.0 944.1L431.3 945.4L432.0 947.0L432.9 949.0L434.3 951.0L435.7 952.2L437.0 953.0L437.9 953.9L438.7 955.0L440.2 956.0L441.8 957.2L443.0 958.0L445.4 958.3L447.0 958.2L447.6 959.3L449.0 960.0L449.6 957.7L450.0 956.2L451.6 954.6L453.0 954.0L454.6 952.2L456.0 950.7L456.3 949.4L457.0 948.0L458.1 946.8L458.9 945.8L460.0 945.0L459.9 946.4L460.3 948.0L460.0 950.0L458.9 952.2L459.1 953.7L459.0 956.0L460.0 956.6L461.8 956.8L463.0 958.4L464.0 960.0L465.2 961.1L465.5 963.3L465.0 964.5L465.0 966.0L466.2 967.3L467.0 968.0L468.0 970.0L469.0 971.8L470.0 972.8L470.0 975.0L472.1 976.1L473.2 977.0L474.0 978.0L472.0 979.1L471.0 981.0L469.2 982.1L467.0 983.0L464.6 983.3L463.5 983.8L462.0 985.0L460.2 986.2L458.8 987.1L458.0 988.0L455.9 986.9L454.3 987.0L453.0 987.0L450.7 988.2L450.0 990.0L447.6 989.2L446.0 989.0L444.7 990.7L443.0 992.0L442.6 993.8L442.8 995.3L444.0 997.0L442.8 997.4L441.0 998.0L439.1 996.8L438.7 995.2L437.0 994.0L435.4 993.7L434.3 993.9L432.0 993.0L430.9 990.7L429.6 990.1L428.0 989.0L428.6 986.8L428.1 985.2L427.0 984.0L426.6 982.3L424.9 981.2L423.0 980.0L422.1 979.0L420.9 978.1L419.0 977.0L417.3 976.3L415.0 976.0L416.1 974.0L416.6 972.2L417.0 971.0L417.6 969.6L417.7 968.4L418.4 967.1L419.0 966.0L420.2 965.7L421.3 964.5L421.2 963.2L422.0 962.0L422.8 960.4L423.1 958.7L423.3 957.3L424.0 956.0L424.2 954.5L424.2 953.2L422.3 951.8L422.0 950.0L421.2 949.1L420.0 947.6L420.3 946.3L420.0 945.0L419.0 943.7L419.0 942.0L420.7 940.4Z" stroke="#ee9fc4" stroke-opacity="0.6"/>
<path d="M491.2 916.2L492.0 914.6L493.0 914.2L493.8 913.1L495.0 912.5L496.4 913.1L497.5 913.9L500.0 913.7L501.0 914.5L501.6 915.9L502.9 916.4L503.7 917.5L504.7 919.2L505.0 921.2L503.8 923.1L502.5 923.7L501.2 925.3L500.3 926.0L498.7 926.2L497.1 926.7L495.0 927.5L494.8 929.7L493.7 931.2L494.8 932.2L494.9 933.7L496.2 935.0L496.3 936.9L497.5 938.7L496.4 940.4L495.0 941.2L493.2 940.5L492.1 940.0L491.2 938.7L488.9 937.9L487.5 937.5L485.6 937.6L483.7 938.7L481.6 939.9L480.0 940.0L478.3 940.6L477.0 942.0L475.0 941.2L473.6 939.3L472.3 937.9L471.1 936.3L471.2 934.9L470.6 933.7L470.8 931.6L471.9 930.0L473.3 929.3L475.3 929.4L476.9 928.8L478.7 927.5L480.3 925.7L481.6 924.3L482.9 923.4L484.5 923.7L486.2 923.0L487.6 921.2L488.9 920.2L489.9 918.9L490.2 917.7Z" stroke="#b890a4" stroke-opacity="0.6"/>
<path d="M460.0 945.0L461.8 944.3L463.9 944.7L466.1 943.7L466.9 942.6L467.5 941.2L469.0 942.4L470.5 944.0L471.7 944.5L473.0 945.5L474.1 944.2L475.9 943.9L477.0 942.0L478.3 940.6L480.0 940.0L481.6 939.9L483.7 938.7L485.6 937.6L487.5 937.5L488.9 937.9L491.2 938.7L492.1 940.0L493.2 940.5L495.0 941.2L495.3 942.4L496.3 944.0L497.8 944.8L499.0 946.0L499.3 947.5L498.8 949.6L498.0 952.0L498.4 953.4L499.2 954.4L498.9 956.0L500.0 958.0L499.2 960.3L498.0 962.0L496.2 963.0L495.1 963.6L494.0 965.0L491.5 965.7L489.8 965.6L488.0 967.0L486.4 967.0L485.2 967.8L483.9 968.0L482.0 968.0L481.1 969.4L478.7 970.3L477.2 969.8L476.0 970.0L475.8 971.4L474.3 972.7L472.6 973.5L471.6 974.2L470.0 975.0L470.0 972.8L469.0 971.8L468.0 970.0L467.0 968.0L466.2 967.3L465.0 966.0L465.0 964.5L465.5 963.3L465.2 961.1L464.0 960.0L463.0 958.4L461.8 956.8L460.0 956.6L459.0 956.0L459.1 953.7L458.9 952.2L460.0 950.0L460.3 948.0L459.9 946.4Z" stroke="#ee9fc4" stroke-opacity="0.6"/>
<path d="M470.0 975.0L471.6 974.2L472.6 973.5L474.3 972.7L475.8 971.4L476.0 970.0L477.2 969.8L478.7 970.3L481.1 969.4L482.0 968.0L483.9 968.0L485.2 967.8L486.4 967.0L488.0 967.0L489.8 965.6L491.5 965.7L494.0 965.0L495.1 963.6L496.2 963.0L498.0 962.0L499.2 960.3L500.0 958.0L501.9 958.7L503.8 958.6L504.9 959.3L506.0 960.0L507.6 959.7L508.9 960.1L510.8 960.0L512.0 959.0L513.3 959.1L515.4 959.3L517.2 960.7L518.0 962.0L518.9 963.3L519.9 964.2L520.4 965.9L520.0 967.0L518.2 967.6L517.3 968.5L516.0 970.0L516.5 971.9L517.2 972.7L518.0 974.0L517.5 975.6L517.0 976.7L516.0 978.8L515.0 980.0L514.1 982.0L514.3 983.7L513.2 984.3L512.0 986.0L509.7 987.0L509.4 988.8L508.0 990.0L505.8 991.0L505.3 992.6L504.0 994.0L502.5 993.3L501.4 994.1L500.6 993.0L499.7 993.3L499.2 994.6L498.0 995.0L497.8 993.8L496.9 992.9L495.4 992.7L494.0 991.9L492.7 992.6L492.3 993.6L491.0 994.0L490.8 992.9L490.2 991.5L489.1 991.2L488.3 991.1L487.7 991.7L487.6 992.7L486.1 992.8L485.1 992.1L484.0 992.0L483.7 990.1L482.6 989.2L481.8 988.2L480.0 988.0L479.6 985.5L479.0 984.4L478.0 983.0L476.8 981.5L474.9 980.6L474.6 979.2L474.0 978.0L473.2 977.0L472.1 976.1Z" stroke="#ee9fc4" stroke-opacity="0.6"/>
<path d="M508.0 891.0L509.6 890.3L510.3 888.9L511.7 889.1L513.5 889.0L515.0 888.5L516.5 887.7L518.0 887.2L519.5 886.0L521.7 885.6L523.3 884.9L525.5 883.7L527.5 882.4L528.8 881.1L530.0 880.0L530.9 877.9L532.0 877.0L533.8 877.7L535.2 878.3L537.5 877.7L539.1 877.6L541.0 876.0L540.7 878.4L541.0 880.0L539.9 881.8L539.9 883.1L539.7 884.5L540.6 886.4L542.0 887.5L543.0 888.3L544.1 889.3L546.5 889.7L548.4 891.4L549.5 892.7L547.2 892.7L545.0 894.0L544.2 895.8L542.0 897.0L542.2 899.2L541.0 901.0L540.7 903.2L539.0 904.7L540.2 905.8L541.0 907.7L542.1 908.5L543.5 909.1L545.0 910.0L544.8 911.8L544.0 913.0L542.2 913.5L540.5 914.5L538.3 913.7L536.0 913.0L535.0 912.0L533.6 911.8L532.0 910.0L530.4 909.1L529.0 908.5L527.5 907.3L526.0 907.2L524.7 907.7L523.4 906.8L522.1 906.6L520.4 906.7L519.5 906.0L517.2 906.0L516.2 904.7L515.0 904.0L514.7 902.8L514.3 901.3L512.9 900.5L512.0 899.5L510.6 898.2L509.7 897.1L509.7 895.7L509.4 893.5L508.3 892.4Z" stroke="#ee9fc4" stroke-opacity="0.6"/>
<path d="M508.0 891.0L508.3 892.4L509.4 893.5L509.7 895.7L509.7 897.1L510.6 898.2L512.0 899.5L512.9 900.5L514.3 901.3L514.7 902.8L515.0 904.0L516.2 904.7L517.2 906.0L519.5 906.0L520.4 906.7L522.1 906.6L523.4 906.8L524.7 907.7L526.0 907.2L527.5 907.3L529.0 908.5L530.4 909.1L532.0 910.0L533.6 911.8L535.0 912.0L536.0 913.0L538.3 913.7L540.5 914.5L542.2 913.5L544.0 913.0L545.0 914.4L545.0 916.0L546.3 917.7L546.3 919.2L547.0 921.0L547.0 922.7L548.4 924.4L548.7 926.0L549.0 927.0L547.8 927.9L546.0 929.0L544.6 930.4L543.1 931.3L542.0 932.0L540.7 931.5L539.2 931.7L537.5 932.3L536.0 934.0L533.5 933.6L532.2 932.9L531.0 932.0L528.5 931.9L526.9 930.9L526.0 930.0L524.5 930.3L522.3 930.2L521.0 929.9L520.0 929.0L518.7 928.4L517.2 928.3L515.4 927.9L514.0 928.0L512.3 927.9L510.8 929.1L509.1 929.1L508.0 929.0L506.2 929.1L504.9 928.6L503.2 928.8L502.0 928.0L501.0 929.3L500.1 929.9L498.0 931.0L496.9 930.1L495.0 929.0L495.0 927.5L497.1 926.7L498.7 926.2L500.3 926.0L501.2 925.3L502.5 923.7L503.8 923.1L505.0 921.2L504.7 919.2L503.7 917.5L502.9 916.4L501.6 915.9L501.0 914.5L500.0 913.7L499.0 913.0L499.7 911.8L500.0 910.1L501.0 908.0L501.5 906.8L502.2 905.4L502.7 903.1L504.0 902.0L504.0 900.4L504.9 899.3L505.1 898.0L506.0 896.0L506.1 894.7L506.9 893.1Z" stroke="#ee9fc4" stroke-opacity="0.6"/>
<path d="M498.0 931.0L500.1 929.9L501.0 929.3L502.0 928.0L503.2 928.8L504.9 928.6L506.2 929.1L508.0 929.0L509.1 929.1L510.8 929.1L512.3 927.9L514.0 928.0L515.4 927.9L517.2 928.3L518.7 928.4L520.0 929.0L521.0 929.9L522.3 930.2L524.5 930.3L526.0 930.0L526.9 930.9L528.5 931.9L531.0 932.0L531.8 933.4L532.9 934.8L533.4 936.4L533.0 938.0L532.6 939.7L530.9 941.3L530.8 942.5L531.0 944.0L531.3 946.1L530.3 947.5L530.0 950.0L530.7 951.3L530.8 952.6L531.0 954.8L532.0 956.0L532.2 957.8L531.6 959.7L532.6 960.5L533.0 962.0L532.4 964.3L531.2 965.5L530.0 966.0L528.6 966.3L527.4 968.0L525.0 968.0L522.5 968.0L521.1 967.1L520.0 967.0L520.4 965.9L519.9 964.2L518.9 963.3L518.0 962.0L517.2 960.7L515.4 959.3L513.3 959.1L512.0 959.0L510.8 960.0L508.9 960.1L507.6 959.7L506.0 960.0L504.9 959.3L503.8 958.6L501.9 958.7L500.0 958.0L498.9 956.0L499.2 954.4L498.4 953.4L498.0 952.0L498.8 949.6L499.3 947.5L499.0 946.0L497.8 944.8L496.3 944.0L495.3 942.4L495.0 941.2L496.4 940.4L497.5 938.7L496.3 936.9L496.2 935.0L494.9 933.7L494.8 932.2L493.7 931.2L495.0 929.0L496.9 930.1Z" stroke="#ee9fc4" stroke-opacity="0.6"/>
<path d="M561.0 856.0L562.5 856.4L563.7 856.6L565.0 857.7L566.0 860.0L566.1 861.9L566.5 862.9L568.0 864.0L569.2 866.0L571.0 867.0L572.3 865.7L573.3 865.3L575.0 865.0L576.3 864.4L577.7 863.2L580.0 862.5L582.0 863.2L583.3 862.7L585.0 863.0L585.8 862.5L586.9 862.8L587.6 864.1L588.5 865.3L590.0 865.0L591.5 865.7L593.0 866.0L592.6 867.5L592.5 869.0L591.0 868.3L590.0 867.6L589.2 867.6L588.3 867.9L588.0 868.9L587.5 870.0L587.0 869.3L585.8 869.3L584.4 870.2L584.3 871.2L584.0 872.5L583.4 873.9L582.5 874.5L581.6 873.7L580.9 874.1L580.0 875.0L579.3 876.5L577.7 876.8L576.8 877.8L577.5 879.0L576.6 879.4L575.9 880.7L575.0 881.3L575.0 882.5L573.7 882.5L572.9 882.9L572.3 884.0L572.5 885.0L571.7 886.5L571.0 887.5L569.5 888.0L567.5 889.0L565.2 889.1L564.2 890.0L563.0 891.0L561.9 891.3L560.2 891.3L559.1 892.2L557.0 892.7L554.9 892.4L553.3 892.0L551.7 892.0L549.5 892.7L548.4 891.4L546.5 889.7L544.1 889.3L543.0 888.3L542.0 887.5L540.6 886.4L539.7 884.5L539.9 883.1L539.9 881.8L541.0 880.0L540.7 878.4L541.0 876.0L541.4 874.8L542.3 873.5L543.0 871.0L543.3 869.6L543.8 868.5L545.1 867.9L546.0 866.0L547.1 865.1L547.6 863.9L550.0 863.0L552.2 862.2L553.8 861.2L555.0 860.0L557.1 859.3L558.0 858.0L559.4 857.3Z" stroke="#ee9fc4" stroke-opacity="0.6"/>
<path d="M549.5 892.7L551.7 892.0L553.8 892.0L554.9 892.8L555.8 894.0L557.0 895.0L558.6 895.4L559.4 896.2L560.0 898.0L560.1 900.1L561.5 901.7L562.9 903.1L563.7 904.7L565.1 903.9L566.0 903.0L566.7 903.8L568.0 904.7L566.6 906.4L566.0 907.7L564.6 909.5L564.5 911.5L565.2 913.9L566.7 915.0L568.9 916.1L569.7 917.5L569.8 919.2L570.5 921.0L570.1 922.4L569.7 923.7L568.0 925.0L566.9 926.9L566.0 928.7L564.3 930.6L562.0 931.0L559.6 931.1L557.7 930.0L555.3 929.8L553.0 928.7L551.2 928.1L549.0 927.0L548.7 926.0L548.4 924.4L547.0 922.7L547.0 921.0L546.3 919.2L546.3 917.7L545.0 916.0L545.0 914.4L544.0 913.0L544.8 911.8L545.0 910.0L543.5 909.1L542.1 908.5L541.0 907.7L540.2 905.8L539.0 904.7L540.7 903.2L541.0 901.0L542.2 899.2L542.0 897.0L544.2 895.8L545.0 894.0L547.2 892.7Z" stroke="#ee9fc4" stroke-opacity="0.6"/>
<path d="M551.7 892.0L553.3 892.0L554.9 892.4L557.0 892.7L559.1 892.2L560.2 891.3L561.9 891.3L563.0 891.0L564.2 890.0L565.2 889.1L567.5 889.0L569.5 888.0L571.0 887.5L571.3 889.6L572.7 890.9L573.8 891.9L575.0 892.7L575.8 894.1L575.7 896.1L577.0 896.4L578.0 898.0L577.8 899.9L578.5 901.1L579.7 902.4L580.0 904.0L580.8 905.4L580.8 906.6L582.5 908.5L583.3 910.2L584.1 911.1L585.5 912.0L587.0 913.7L585.8 915.4L584.0 916.0L583.3 918.1L581.7 919.7L579.9 920.8L578.0 920.5L575.5 920.3L573.5 919.0L572.0 919.9L570.5 921.0L569.8 919.2L569.7 917.5L568.9 916.1L566.7 915.0L565.2 913.9L564.5 911.5L564.6 909.5L566.0 907.7L566.6 906.4L568.0 904.7L566.7 903.8L566.0 903.0L565.1 903.9L563.7 904.7L562.9 903.1L561.5 901.7L560.1 900.1L560.0 898.0L559.4 896.2L558.6 895.4L557.0 895.0L555.8 894.0L554.9 892.8L553.8 892.0Z" stroke="#ee9fc4" stroke-opacity="0.6"/>
<path d="M583.5 916.5L585.0 915.2L587.0 913.7L588.6 915.4L590.0 916.5L589.5 918.3L589.5 920.0L588.6 921.1L587.0 922.5L586.3 921.0L585.0 919.3L584.2 918.2Z" stroke="#b890a4" stroke-opacity="0.6"/>
<path d="M570.5 921.0L572.0 919.9L573.5 919.0L575.5 920.3L578.0 920.5L579.9 920.8L581.7 919.7L583.4 919.4L585.0 919.3L586.0 921.0L585.6 922.0L584.7 922.8L585.1 923.5L586.0 924.5L586.6 924.9L587.0 926.0L588.3 926.2L589.0 927.0L589.2 928.6L589.9 930.1L588.5 930.5L588.0 932.0L587.5 933.0L586.4 932.8L585.9 933.9L586.7 935.2L585.8 936.3L586.1 936.9L586.0 938.0L586.1 939.0L586.9 939.6L586.9 940.9L587.0 942.2L586.2 943.2L585.2 943.2L584.2 943.9L583.0 944.0L581.5 944.7L580.7 945.1L579.9 945.3L579.7 946.4L579.0 947.2L579.0 948.0L578.3 947.0L577.4 947.4L576.4 947.1L575.4 947.0L574.5 948.1L574.5 948.9L574.0 950.0L572.7 950.0L571.3 949.1L570.0 947.0L567.8 946.0L566.7 945.3L566.0 944.0L566.7 942.5L566.4 941.2L566.9 940.3L568.0 939.0L567.6 936.8L568.7 935.8L569.0 934.0L567.1 932.3L566.0 930.0L566.0 928.7L566.9 926.9L568.0 925.0L569.7 923.7L570.1 922.4Z" stroke="#ee9fc4" stroke-opacity="0.6"/>
<path d="M549.0 927.0L551.2 928.1L553.0 928.7L555.3 929.8L557.7 930.0L559.6 931.1L562.0 931.0L563.8 930.8L566.0 930.0L567.1 932.3L569.0 934.0L568.7 935.8L567.6 936.8L568.0 939.0L566.9 940.3L566.4 941.2L566.7 942.5L566.0 944.0L564.3 943.6L563.0 944.0L561.9 944.6L560.6 945.4L559.0 947.0L557.0 947.8L555.9 948.6L554.0 950.0L552.7 951.8L552.1 953.5L551.9 954.6L551.0 956.0L550.2 958.5L548.9 959.6L548.0 961.0L547.2 962.5L547.5 964.3L546.0 966.0L545.1 966.6L543.5 966.9L542.6 967.7L541.0 968.0L539.5 966.3L537.6 966.5L536.0 966.0L535.0 964.2L533.6 963.0L533.0 962.0L532.6 960.5L531.6 959.7L532.2 957.8L532.0 956.0L531.0 954.8L530.8 952.6L530.7 951.3L530.0 950.0L530.3 947.5L531.3 946.1L531.0 944.0L530.8 942.5L530.9 941.3L532.6 939.7L533.0 938.0L533.4 936.4L532.9 934.8L531.8 933.4L531.0 932.0L532.2 932.9L533.5 933.6L536.0 934.0L537.5 932.3L539.2 931.7L540.7 931.5L542.0 932.0L543.1 931.3L544.6 930.4L546.0 929.0L547.8 927.9Z" stroke="#ee9fc4" stroke-opacity="0.6"/>
<path d="M566.0 944.0L566.7 945.3L567.8 946.0L570.0 947.0L571.3 949.1L572.7 950.0L574.0 950.0L575.3 950.8L575.5 952.4L575.0 953.9L574.4 954.9L573.0 955.0L571.9 955.6L571.1 955.4L571.6 956.3L571.9 957.0L570.9 957.9L570.3 958.9L570.0 960.0L569.8 960.9L570.4 961.7L569.1 962.6L568.1 962.8L567.6 963.8L567.0 964.5L566.0 965.0L565.0 966.3L563.8 966.6L563.3 965.7L561.9 966.1L562.0 967.4L562.0 969.0L561.4 969.9L562.3 971.0L560.9 971.2L560.5 972.6L559.3 972.8L558.2 971.6L557.3 972.0L557.0 973.0L556.1 973.8L555.0 973.1L555.6 974.2L554.6 975.2L553.8 976.1L552.6 975.5L552.0 974.0L551.2 971.8L550.4 970.9L549.0 970.0L547.9 969.3L547.5 967.8L546.0 966.0L547.5 964.3L547.2 962.5L548.0 961.0L548.9 959.6L550.2 958.5L551.0 956.0L551.9 954.6L552.1 953.5L552.7 951.8L554.0 950.0L555.9 948.6L557.0 947.8L559.0 947.0L560.6 945.4L561.9 944.6L563.0 944.0L564.3 943.6Z" stroke="#b890a4" stroke-opacity="0.6"/>
<path d="M520.0 967.0L521.1 967.1L522.5 968.0L525.0 968.0L527.4 968.0L528.6 966.3L530.0 966.0L531.2 965.5L532.4 964.3L533.0 962.0L533.6 963.0L535.0 964.2L536.0 966.0L537.6 966.5L539.5 966.3L541.0 968.0L542.6 967.7L543.5 966.9L545.1 966.6L546.0 966.0L547.5 967.8L547.9 969.3L549.0 970.0L550.4 970.9L551.2 971.8L552.0 974.0L553.1 974.1L553.4 975.1L552.8 976.1L553.0 977.0L552.0 977.3L551.9 978.5L551.4 979.6L552.1 981.1L551.0 982.0L550.7 982.9L549.8 983.3L548.9 984.1L547.8 984.4L547.0 985.0L545.5 985.6L544.6 985.3L543.8 984.4L542.7 984.0L541.8 985.3L541.2 986.9L540.0 987.0L538.3 987.1L537.4 986.7L536.6 986.1L536.0 987.0L534.6 986.5L533.7 987.4L534.0 989.0L533.1 990.3L531.8 990.5L530.8 990.8L529.3 990.6L528.0 991.0L526.6 990.5L525.7 989.6L524.6 989.6L524.0 990.4L524.1 991.5L522.7 992.2L522.0 993.0L520.9 993.0L520.4 992.4L519.5 992.6L519.2 993.7L518.3 994.5L517.0 994.0L516.0 993.7L515.1 994.7L514.5 996.0L514.9 997.0L513.5 996.7L512.0 996.0L510.7 996.6L509.4 997.0L509.0 998.0L508.5 999.0L508.6 1000.0L507.2 999.7L506.0 1000.0L506.1 1002.3L505.3 1003.9L505.0 1005.0L503.1 1004.6L502.0 1004.0L501.9 1002.7L502.4 1001.0L502.0 999.0L503.2 997.2L503.9 995.5L504.0 994.0L505.3 992.6L505.8 991.0L508.0 990.0L509.4 988.8L509.7 987.0L512.0 986.0L513.2 984.3L514.3 983.7L514.1 982.0L515.0 980.0L516.0 978.8L517.0 976.7L517.5 975.6L518.0 974.0L517.2 972.7L516.5 971.9L516.0 970.0L517.3 968.5L518.2 967.6Z" stroke="#ee9fc4" stroke-opacity="0.6"/>
<path d="M495.0 1013.0L496.8 1011.7L498.0 1010.0L499.5 1009.2L500.6 1008.6L503.0 1008.0L504.6 1007.5L506.2 1007.4L507.7 1007.6L509.0 1008.0L510.0 1008.8L511.0 1010.0L510.2 1012.2L509.0 1014.0L508.0 1015.0L507.1 1015.9L506.0 1018.0L504.1 1019.1L502.9 1020.0L502.0 1021.0L500.5 1021.0L498.0 1021.0L497.0 1019.5L495.0 1018.0L495.1 1016.3L495.0 1015.2Z" stroke="#b890a4" stroke-opacity="0.6"/>
</g>
<path d="M244.0 847.0L244.0 847.0L244.3 848.7L244.3 848.7L244.3 848.7L244.3 850.9L244.3 850.9L244.3 850.9L245.2 852.4L245.2 852.5L246.0 854.0L246.0 854.0L247.3 856.2L247.3 856.2L247.4 856.2L248.7 856.7L248.7 856.8L248.8 856.8L248.8 856.8L248.8 856.8L249.9 857.9L250.0 858.0L250.0 858.0L250.0 858.0L250.0 858.0L250.0 858.1L250.0 858.1L250.3 859.7L250.3 859.7L250.3 859.7L250.3 859.8L250.3 859.8L250.3 859.8L250.3 859.9L249.2 862.1L249.2 862.1L249.2 862.1L249.3 863.4L249.3 863.4L249.3 863.5L249.3 863.5L249.0 865.0L249.0 865.0L249.0 865.0L250.1 865.0L250.1 865.0L250.2 865.0L251.5 865.3L251.5 865.3L251.6 865.3L251.6 865.3L251.6 865.3L251.7 865.4L253.1 866.6L253.2 866.6L253.2 866.7L253.2 866.7L254.0 868.0L254.0 868.0L254.8 869.9L254.8 869.9L254.8 869.9L255.8 870.8L255.8 870.8L257.5 872.5L257.5 872.5L257.5 872.5L258.8 872.9L258.9 873.0L258.9 873.0L258.9 873.0L258.9 873.0L259.0 873.0L259.0 873.1L259.0 873.1L259.0 873.1L259.0 873.1L259.0 873.2L259.4 874.4L259.4 874.4L259.4 874.4L260.2 875.8L260.2 875.8L260.2 875.8L262.0 877.0L262.0 877.0L262.0 877.0L264.0 877.6L264.0 877.6L264.1 877.7L264.1 877.7L264.1 877.7L264.1 877.7L264.2 877.7L264.2 877.7L265.1 879.1L265.1 879.1L265.1 879.1L266.4 879.5L266.4 879.5L268.2 879.9L268.2 879.9L270.0 880.0L270.0 880.0L271.7 880.1L271.7 880.1L271.8 880.1L271.8 880.1L273.3 880.7L273.4 880.7L273.4 880.7L273.4 880.7L274.6 881.6L274.6 881.6L274.6 881.7L274.7 881.7L274.7 881.7L274.7 881.7L274.7 881.8L274.7 881.8L275.0 883.0L275.0 883.0L275.0 883.0L276.1 884.1L276.1 884.1L276.1 884.1L277.2 884.7L277.3 884.7L277.3 884.7L277.3 884.7L277.3 884.7L277.3 884.8L277.4 884.8L277.4 884.8L277.4 884.8L277.4 884.9L277.9 886.7L277.9 886.7L277.9 886.7L279.0 889.0L279.0 889.0L279.0 889.0L280.8 889.9L280.8 889.9L280.8 889.9L280.8 889.9L280.9 890.0L280.9 890.0L280.9 890.0L280.9 890.0L280.9 890.1L280.9 890.1L280.9 890.1L280.9 890.2L280.9 890.2L280.9 890.2L280.9 890.2L280.5 891.4L280.5 891.4L280.5 891.5L280.9 892.9L280.9 893.0L280.9 893.0L280.9 893.0L280.9 893.1L280.9 893.1L280.9 893.1L280.9 893.1L280.0 895.0L280.0 895.0L280.0 895.0L280.9 897.3L280.9 897.4L280.9 897.4L281.2 898.8L281.2 898.8L281.2 898.8L281.9 899.9L281.9 899.9L282.0 899.9L282.0 900.0L282.0 900.0L282.0 900.0L282.0 900.1L282.0 900.1L282.0 900.1L281.5 901.9L281.5 901.9L281.0 903.9L281.0 904.0L281.0 904.0L281.0 904.0L281.0 904.0L280.9 904.1L280.0 905.0L280.0 905.0L279.9 905.1L278.7 906.0L278.7 906.0L278.7 906.0L278.0 908.0L278.0 908.0L278.0 908.0L278.2 909.5L278.2 909.5L278.2 909.6L279.3 910.8L279.3 910.8L279.3 910.8L279.3 910.8L279.3 910.9L279.4 910.9L279.4 910.9L279.6 912.6L279.6 912.6L279.6 912.7L279.6 912.7L279.6 912.7L279.6 912.7L279.6 912.8L279.0 914.0L279.0 914.0L279.0 914.0L280.6 914.8L280.6 914.8L280.7 914.8L280.7 914.8L280.7 914.8L281.6 915.8L281.6 915.8L282.7 916.8L282.7 916.8L282.7 916.8L282.8 916.8L282.8 916.9L282.8 916.9L282.8 916.9L282.8 916.9L282.8 917.0L283.0 919.0L283.0 919.0L283.0 919.0L284.8 920.2L284.8 920.2L284.8 920.2L286.6 920.4L286.6 920.4L286.6 920.5L286.7 920.5L288.0 921.0L288.0 921.0L289.2 921.6L289.2 921.6L289.3 921.6L289.3 921.6L290.7 922.9L290.7 922.9L290.7 922.9L293.0 924.0L293.0 924.0L293.0 924.0L293.0 924.0L294.0 924.8L294.0 924.9L294.0 924.9L294.1 924.9L294.1 924.9L294.1 925.0L294.5 926.1L294.6 926.1L294.6 926.1L296.1 926.8L296.1 926.8L296.1 926.8L298.0 928.0L298.0 928.0L298.0 928.0L298.8 926.9L298.8 926.8L298.9 926.8L298.9 926.8L298.9 926.8L300.0 926.1L300.0 926.1L300.1 926.1L300.1 926.1L300.1 926.1L300.1 926.1L302.0 926.0L302.0 926.0L302.0 926.0L302.0 926.0L303.5 926.3L303.5 926.3L303.6 926.4L303.6 926.4L303.6 926.4L303.6 926.4L303.7 926.4L304.4 927.2L304.5 927.2L304.5 927.2L306.4 928.3L306.4 928.3L307.9 929.0L308.0 929.0L308.0 929.0L308.0 929.0L308.0 929.0L308.0 929.1L309.2 930.4L309.2 930.4L310.2 931.2L310.2 931.2L311.2 932.0L311.2 932.0L311.2 932.0L312.6 932.6L312.7 932.6L312.7 932.6L312.7 932.6L312.8 932.7L314.0 934.0L314.0 934.0L314.0 934.0L316.0 934.1L316.0 934.1L317.1 934.4L317.2 934.4L317.2 934.4L317.2 934.4L317.2 934.4L317.3 934.4L317.3 934.5L317.3 934.5L317.3 934.5L317.3 934.5L318.2 936.2L318.2 936.2L318.2 936.2L320.0 937.0L320.0 937.0L321.6 937.5L321.6 937.5L321.7 937.5L321.7 937.6L323.7 938.8L323.7 938.8L323.7 938.8L324.9 939.9L324.9 939.9L324.9 939.9L325.9 940.0L326.0 940.0L326.0 940.0L326.0 940.0L326.0 940.0L327.0 940.5L327.1 940.5L327.1 940.5L327.1 940.5L327.1 940.6L328.2 941.8L328.2 941.8L329.2 943.2L329.2 943.2L330.0 944.0L330.0 944.0L330.0 944.0L331.5 944.3L331.6 944.3L331.6 944.3L331.6 944.3L331.6 944.3L333.4 945.4L333.4 945.4L333.4 945.4L334.6 945.4L334.6 945.4L334.6 945.4L336.0 945.0L336.0 945.0L336.0 945.0L337.8 944.1L337.8 944.1L337.9 944.1L337.9 944.1L337.9 944.1L338.0 944.1L338.0 944.1L338.0 944.1L339.7 944.4L339.8 944.4L339.8 944.4L339.8 944.4L339.8 944.5L340.8 945.1L340.8 945.1L340.8 945.1L342.3 944.8L342.3 944.8L342.3 944.8L342.4 944.8L342.4 944.8L342.4 944.8L342.4 944.9L342.5 944.9L342.5 944.9L344.0 946.0L344.0 946.0L344.0 946.0L345.2 944.9L345.2 944.9L345.2 944.9L345.2 944.9L345.3 944.9L345.3 944.9L347.2 944.5L347.2 944.4L347.3 944.4L347.3 944.4L347.3 944.5L347.3 944.5L347.4 944.5L347.4 944.5L349.0 945.3L349.0 945.3L349.0 945.3L350.8 945.0L350.8 945.0L350.8 945.0L350.9 945.0L350.9 945.0L350.9 945.0L351.0 945.1L351.0 945.1L351.0 945.1L351.0 945.1L351.1 945.1L351.1 945.1L351.1 945.2L351.1 945.2L352.1 946.9L352.1 946.9L353.2 948.6L353.2 948.6L354.0 950.0L354.0 950.0L354.0 950.0L354.4 948.8L354.4 948.7L355.0 947.5L355.0 947.5L355.5 946.4L355.5 946.4L355.9 945.3L355.9 945.2L355.9 945.2L355.9 945.2L356.0 945.2L356.0 945.1L356.0 945.1L356.0 945.1L356.1 945.1L356.1 945.1L356.1 945.1L356.2 945.1L356.2 945.1L356.2 945.1L356.2 945.1L356.3 945.1L357.3 945.4L357.3 945.4L359.0 945.8L359.0 945.8L359.1 945.8L361.0 945.0L361.1 945.0L361.1 945.0L361.1 945.0L361.2 945.0L361.2 945.0L361.2 945.0L361.3 945.0L361.3 945.0L362.5 945.6L362.5 945.6L362.5 945.6L364.0 946.0L364.0 946.0L366.4 946.7L366.4 946.7L366.4 946.8L366.4 946.8L366.5 946.8L366.5 946.8L367.8 948.2L367.8 948.2L367.8 948.2L369.3 949.2L369.3 949.2L369.4 949.2L370.5 948.7L370.5 948.7L370.6 948.7L370.6 948.7L370.6 948.7L370.6 948.7L370.7 948.7L370.7 948.7L372.0 949.0L372.0 949.0L372.0 949.0L372.0 949.0L373.3 949.8L373.3 949.8L373.3 949.8L374.5 949.5L374.6 949.5L374.6 949.5L374.6 949.5L374.7 949.5L374.7 949.5L374.7 949.5L374.7 949.5L374.8 949.5L376.6 950.7L376.6 950.7L377.7 951.6L377.7 951.6L377.7 951.6L379.0 952.0L379.0 952.0L379.0 952.1L379.0 952.1L379.1 952.1L379.1 952.1L379.1 952.1L379.1 952.2L379.1 952.2L380.0 954.0L380.0 954.0L380.0 954.0L381.7 954.6L381.7 954.6L381.8 954.6L382.9 954.0L383.0 954.0L383.0 954.0L384.8 953.6L384.8 953.5L384.8 953.5L384.9 953.5L384.9 953.5L384.9 953.5L386.5 953.9L386.5 953.9L386.6 953.9L388.0 953.0L388.0 953.0L388.0 953.0L389.2 952.0L389.2 952.0L389.2 952.0L390.3 950.7L390.3 950.7L390.3 950.7L392.0 949.3L392.0 949.3L392.0 949.3L392.0 949.3L392.1 949.3L392.1 949.3L392.1 949.3L394.0 949.0L394.0 949.0L395.4 948.7L395.4 948.7L396.9 948.5L396.9 948.5L397.0 948.5L398.0 947.4L398.0 947.4L398.0 947.4L398.1 947.3L398.1 947.3L398.1 947.3L398.1 947.3L398.2 947.3L400.0 947.0L400.0 947.0L400.0 947.0L401.9 946.2L401.9 946.2L401.9 946.2L402.0 946.2L402.0 946.2L402.0 946.2L403.7 946.4L403.7 946.4L403.7 946.4L405.0 945.5L405.0 945.5L406.9 944.0L406.9 944.0L406.9 944.0L406.9 943.9L407.0 943.9L407.0 943.9L408.6 943.5L408.7 943.5L408.7 943.5L408.7 943.5L408.8 943.5L408.8 943.5L410.1 943.9L410.1 944.0L411.9 944.7L414.0 945.6L414.0 945.6L414.0 945.6L415.1 944.9L415.1 944.9L415.1 944.9L415.1 944.9L415.2 944.9L415.2 944.9L416.8 944.7L416.8 944.7L416.8 944.7L417.8 943.3L417.8 943.3L418.5 942.6L418.5 942.6L418.5 942.5L418.5 942.5L418.6 942.5L418.6 942.5L418.6 942.5L418.6 942.5L418.7 942.5L418.7 942.5L418.7 942.5L418.8 942.5L418.8 942.5L418.8 942.5L418.8 942.5L418.9 942.5L418.9 942.6L418.9 942.6L418.9 942.6L418.9 942.6L418.9 942.7L419.0 942.7L419.0 942.7L419.0 942.7L419.0 942.8L419.0 942.8L419.0 943.7L419.0 943.7L419.0 943.8L420.0 944.9L420.0 945.0L420.0 945.0L420.0 945.0L420.0 945.0L420.0 945.1L420.3 946.3L420.3 946.3L420.3 946.3L420.3 946.3L420.3 946.4L420.3 946.4L420.0 947.6L420.0 947.6L420.0 947.6L421.2 949.1L421.2 949.1L421.9 949.9L422.0 950.0L422.0 950.0L422.0 950.0L422.0 950.0L422.0 950.1L422.0 950.1L422.3 951.7L422.3 951.8L422.3 951.8L424.1 953.1L424.1 953.1L424.1 953.1L424.1 953.2L424.1 953.2L424.2 953.2L424.2 953.2L424.2 953.3L424.2 953.3L424.2 953.3L424.2 954.5L424.2 954.5L424.2 954.5L424.0 955.9L424.0 956.0L424.0 956.0L424.0 956.0L424.0 956.0L423.3 957.3L423.3 957.3L423.3 957.3L423.1 958.7L422.8 960.4L422.8 960.4L422.8 960.4L422.8 960.5L422.8 960.5L422.0 962.0L422.0 962.0L421.2 963.2L421.2 963.2L421.2 963.2L421.3 964.4L421.3 964.4L421.3 964.4L421.3 964.5L421.3 964.5L421.3 964.5L421.3 964.6L421.3 964.6L421.3 964.6L421.2 964.6L420.2 965.7L420.2 965.7L420.2 965.7L420.2 965.7L420.1 965.7L420.1 965.8L420.1 965.8L419.0 966.0L419.0 966.0L419.0 966.0L418.4 967.1L418.4 967.1L417.7 968.4L417.7 968.4L417.7 968.4L417.6 969.5L417.6 969.6L417.6 969.6L417.6 969.6L417.0 971.0L417.0 971.0L416.6 972.2L416.6 972.2L416.1 973.9L416.1 974.0L416.1 974.0L415.0 976.0L415.0 976.0L415.0 976.0L417.2 976.3L417.3 976.3L417.3 976.3L419.0 977.0L419.0 977.0L420.9 978.1L420.9 978.1L420.9 978.1L422.0 979.0L422.1 979.0L422.1 979.0L423.0 980.0L423.0 980.0L423.0 980.0L424.9 981.2L424.9 981.2L426.5 982.3L426.5 982.3L426.5 982.3L426.6 982.3L426.6 982.3L426.6 982.4L426.6 982.4L426.6 982.4L426.6 982.4L427.0 984.0L427.0 984.0L427.0 984.0L428.0 985.1L428.0 985.1L428.1 985.2L428.1 985.2L428.1 985.2L428.6 986.7L428.6 986.7L428.6 986.7L428.6 986.8L428.6 986.8L428.6 986.8L428.6 986.9L428.0 989.0L428.0 989.0L428.0 989.0L429.6 990.1L429.6 990.1L430.8 990.7L430.8 990.7L430.9 990.7L430.9 990.7L430.9 990.7L430.9 990.8L430.9 990.8L430.9 990.8L432.0 993.0L432.0 993.0L432.0 993.0L434.3 993.9L434.3 993.9L434.4 993.9L435.3 993.7L435.4 993.7L435.4 993.7L435.4 993.7L435.4 993.7L436.9 994.0L437.0 994.0L437.0 994.0L437.0 994.0L437.0 994.0L437.1 994.0L438.6 995.1L438.6 995.2L438.6 995.2L438.6 995.2L438.6 995.2L438.7 995.3L438.7 995.3L438.7 995.3L439.1 996.8L439.1 996.8L439.1 996.8L441.0 998.0L441.0 998.0L441.0 998.0L442.8 997.4L442.8 997.4L444.0 997.0L444.0 997.0L444.0 997.0L442.9 995.3L442.8 995.3L442.8 995.3L442.8 995.2L442.8 995.2L442.8 995.2L442.6 993.8L442.6 993.8L442.6 993.8L442.6 993.8L442.6 993.7L443.0 992.1L443.0 992.1L443.0 992.0L443.0 992.0L443.0 992.0L443.0 992.0L443.1 992.0L443.1 991.9L444.7 990.7L444.7 990.7L444.7 990.7L445.9 989.1L445.9 989.1L445.9 989.1L446.0 989.1L446.0 989.1L446.0 989.0L446.0 989.0L446.1 989.0L446.1 989.0L446.1 989.0L446.2 989.0L447.6 989.2L447.6 989.2L447.6 989.2L450.0 990.0L450.0 990.0L450.0 990.0L450.7 988.3L450.7 988.2L450.7 988.2L450.8 988.2L450.8 988.2L450.8 988.1L450.8 988.1L450.8 988.1L452.9 987.0L453.0 987.0L453.0 987.0L453.0 987.0L453.0 987.0L453.1 987.0L454.3 987.0L454.3 987.0L455.8 986.9L455.9 986.9L455.9 986.9L455.9 986.9L455.9 986.9L456.0 986.9L456.0 986.9L458.0 988.0L458.0 988.0L458.0 988.0L458.8 987.1L458.8 987.1L458.9 987.1L460.2 986.2L460.2 986.2L462.0 985.0L462.0 985.0L463.4 983.8L463.5 983.8L463.5 983.8L463.5 983.8L464.6 983.3L464.6 983.3L464.6 983.3L464.7 983.3L467.0 983.0L467.0 983.0L467.0 983.0L469.2 982.1L469.2 982.1L469.3 982.1L471.0 981.0L471.0 981.0L471.0 981.0L472.0 979.2L472.0 979.2L472.0 979.2L472.0 979.1L472.0 979.1L472.1 979.1L472.1 979.1L473.7 978.2L473.7 978.1L473.8 978.1L473.8 978.1L473.8 978.1L473.9 978.1L473.9 978.1L473.9 978.1L473.9 978.1L474.0 978.1L474.0 978.1L474.0 978.2L474.0 978.2L474.1 978.2L474.1 978.2L474.1 978.2L474.1 978.3L474.1 978.3L474.6 979.2L474.6 979.2L474.6 979.2L474.9 980.6L474.9 980.6L474.9 980.6L476.7 981.4L476.8 981.4L476.8 981.5L476.8 981.5L476.8 981.5L476.8 981.5L478.0 983.0L478.0 983.0L478.9 984.4L479.0 984.4L479.6 985.4L479.6 985.5L479.6 985.5L479.6 985.5L479.6 985.5L480.0 988.0L480.0 988.0L480.0 988.0L481.7 988.2L481.7 988.2L481.7 988.2L481.8 988.2L481.8 988.3L481.8 988.3L481.8 988.3L481.9 988.3L482.6 989.2L482.6 989.2L483.6 990.0L483.6 990.0L483.7 990.1L483.7 990.1L483.7 990.1L483.7 990.1L483.7 990.2L483.7 990.2L484.0 992.0L484.0 992.0L484.0 992.0L485.0 992.1L485.0 992.1L485.0 992.1L485.1 992.1L485.1 992.1L485.1 992.1L486.1 992.8L486.1 992.8L486.1 992.8L487.6 992.7L487.6 992.7L487.6 992.7L487.7 991.8L487.7 991.8L487.7 991.8L487.7 991.7L487.7 991.7L487.7 991.7L487.7 991.6L487.8 991.6L488.2 991.2L488.2 991.2L488.2 991.2L488.3 991.2L488.3 991.2L488.3 991.1L488.4 991.1L488.4 991.1L488.4 991.1L488.4 991.1L489.1 991.2L489.1 991.2L489.1 991.2L490.1 991.5L490.1 991.5L490.2 991.5L490.2 991.5L490.2 991.5L490.2 991.5L490.2 991.6L490.3 991.6L490.3 991.6L490.3 991.6L490.8 992.9L490.8 992.9L490.8 993.0L490.8 993.0L491.0 994.0L491.0 994.0L491.0 994.0L492.3 993.6L492.3 993.6L492.3 993.6L492.7 992.7L492.7 992.7L492.7 992.6L492.7 992.6L492.8 992.6L492.8 992.6L492.8 992.5L492.8 992.5L493.9 992.0L493.9 991.9L493.9 991.9L494.0 991.9L494.0 991.9L494.0 991.9L494.1 991.9L494.1 991.9L494.1 991.9L494.1 991.9L494.2 992.0L495.4 992.7L495.4 992.7L495.5 992.7L496.8 992.9L496.8 992.9L496.8 992.9L496.9 992.9L496.9 992.9L496.9 993.0L496.9 993.0L497.7 993.7L497.7 993.8L497.7 993.8L497.8 993.8L497.8 993.8L497.8 993.9L497.8 993.9L498.0 995.0L498.0 995.0L498.0 995.0L499.2 994.6L499.2 994.6L499.2 994.6L499.6 993.5L499.6 993.4L499.7 993.4L499.7 993.4L499.7 993.4L499.7 993.3L499.7 993.3L499.7 993.3L499.8 993.3L499.8 993.3L500.4 993.1L500.4 993.0L500.5 993.0L500.5 993.0L500.5 993.0L500.6 993.0L500.6 993.0L500.6 993.0L500.6 993.1L500.7 993.1L500.7 993.1L500.7 993.1L500.7 993.1L500.8 993.1L500.8 993.2L501.4 994.1L501.4 994.1L501.4 994.1L502.4 993.4L502.4 993.3L502.4 993.3L502.4 993.3L502.5 993.3L502.5 993.3L502.5 993.3L502.6 993.3L502.6 993.3L502.6 993.3L502.6 993.3L502.7 993.3L503.8 993.9L503.8 993.9L503.9 993.9L503.9 994.0L503.9 994.0L503.9 994.0L503.9 994.0L504.0 994.1L504.0 994.1L504.0 994.1L504.0 994.1L504.0 994.2L504.0 994.2L503.9 995.4L503.9 995.5L503.9 995.5L503.9 995.5L503.2 997.2L503.2 997.2L503.2 997.2L502.0 999.0L502.0 999.0L502.0 999.0L502.4 1000.9L502.4 1000.9L502.4 1001.0L502.4 1001.0L502.4 1001.0L502.4 1001.1L501.9 1002.7L501.9 1002.7L501.9 1002.7L502.0 1004.0L502.0 1004.0L502.0 1004.0L503.1 1004.6L503.1 1004.6L503.1 1004.6L505.0 1005.0L505.0 1005.0L505.0 1005.0L505.3 1003.9L505.3 1003.9L505.3 1003.9L506.1 1002.3L506.1 1002.3L506.1 1002.3L506.0 1000.3L506.0 1000.2L506.0 1000.2L506.0 1000.2L506.0 1000.1L506.0 1000.1L506.1 1000.1L506.1 1000.1L506.1 1000.0L506.1 1000.0L506.1 1000.0L506.2 1000.0L506.2 1000.0L506.2 1000.0L506.2 999.9L507.1 999.8L507.1 999.8L507.2 999.7L507.2 999.8L507.2 999.8L508.6 1000.0L508.6 1000.0L508.6 1000.0L508.5 999.1L508.5 999.0L508.5 999.0L508.5 999.0L508.5 998.9L508.5 998.9L508.5 998.9L509.0 998.0L509.0 998.0L509.3 997.1L509.3 997.1L509.4 997.0L509.4 997.0L509.4 997.0L509.4 997.0L509.4 997.0L509.5 996.9L509.5 996.9L509.5 996.9L510.7 996.6L510.7 996.6L511.9 996.1L511.9 996.0L511.9 996.0L512.0 996.0L512.0 996.0L512.0 996.0L512.1 996.0L512.1 996.0L512.1 996.1L513.5 996.7L513.5 996.7L513.5 996.7L514.9 997.0L514.9 997.0L514.9 997.0L514.6 996.1L514.5 996.1L514.5 996.1L514.5 996.0L514.5 996.0L514.5 996.0L514.5 996.0L514.5 995.9L514.6 995.9L515.1 994.8L515.1 994.7L515.1 994.7L515.1 994.7L515.9 993.9L515.9 993.8L515.9 993.8L515.9 993.8L515.9 993.8L516.0 993.8L516.0 993.8L516.0 993.8L516.1 993.8L516.1 993.8L516.1 993.8L516.2 993.8L517.0 994.0L517.0 994.0L518.3 994.5L518.3 994.5L518.3 994.5L519.2 993.7L519.2 993.7L519.2 993.7L519.5 992.8L519.5 992.7L519.5 992.7L519.5 992.7L519.5 992.7L519.5 992.6L519.6 992.6L519.6 992.6L519.6 992.6L519.6 992.6L519.7 992.6L520.2 992.4L520.3 992.4L520.3 992.4L520.3 992.4L520.4 992.4L520.4 992.4L520.4 992.4L520.4 992.4L520.5 992.5L520.5 992.5L520.5 992.5L520.5 992.5L520.9 993.0L520.9 993.0L520.9 993.0L522.0 993.0L522.0 993.0L522.0 993.0L522.6 992.2L522.7 992.2L522.7 992.2L522.7 992.2L522.7 992.2L524.1 991.5L524.1 991.5L524.1 991.4L524.0 990.5L524.0 990.5L524.0 990.5L524.0 990.4L524.0 990.4L524.1 990.4L524.1 990.4L524.1 990.3L524.5 989.8L524.5 989.7L524.5 989.7L524.5 989.7L524.6 989.7L524.6 989.7L524.6 989.7L524.6 989.6L524.7 989.6L524.7 989.6L524.7 989.6L525.6 989.6L525.6 989.6L525.6 989.6L525.7 989.6L525.7 989.6L525.7 989.7L525.7 989.7L525.8 989.7L525.8 989.7L526.6 990.5L526.6 990.5L526.6 990.5L528.0 991.0L528.0 991.0L528.0 991.0L529.2 990.6L529.2 990.6L529.3 990.6L529.3 990.6L529.3 990.6L529.3 990.6L530.8 990.8L530.8 990.8L530.8 990.8L531.7 990.5L531.8 990.5L533.1 990.3L533.1 990.3L533.1 990.3L534.0 989.0L534.0 989.0L534.0 989.0L533.7 987.6L533.7 987.5L533.7 987.5L533.7 987.5L533.7 987.5L533.7 987.4L533.8 987.4L533.8 987.4L533.8 987.3L533.8 987.3L533.8 987.3L534.5 986.7L534.5 986.6L534.6 986.6L534.6 986.6L534.6 986.6L534.6 986.6L534.7 986.6L534.7 986.6L534.7 986.6L534.8 986.6L534.8 986.6L534.8 986.6L536.0 987.0L536.0 987.0L536.0 987.0L536.4 986.3L536.4 986.3L536.4 986.3L536.4 986.3L536.5 986.3L536.5 986.2L536.5 986.2L536.5 986.2L536.6 986.2L536.6 986.2L536.6 986.2L536.7 986.2L536.7 986.2L536.7 986.2L536.8 986.2L536.8 986.2L536.8 986.2L536.8 986.3L537.4 986.7L537.4 986.7L537.4 986.7L538.3 987.1L538.3 987.1L538.4 987.1L540.0 987.0L540.0 987.0L541.2 986.9L541.2 986.9L541.2 986.9L541.7 985.4L541.8 985.4L541.8 985.3L541.8 985.3L542.5 984.2L542.6 984.2L542.6 984.1L542.6 984.1L542.6 984.1L542.6 984.1L542.7 984.1L542.7 984.1L542.7 984.1L542.8 984.1L542.8 984.1L542.8 984.1L542.8 984.1L542.9 984.1L542.9 984.1L543.7 984.4L543.8 984.4L543.8 984.4L543.8 984.5L543.8 984.5L543.9 984.5L544.5 985.3L544.6 985.3L544.6 985.3L545.5 985.6L545.5 985.6L545.5 985.6L547.0 985.0L547.0 985.0L547.0 985.0L547.8 984.4L547.8 984.4L547.8 984.4L547.8 984.4L547.9 984.4L548.9 984.1L548.9 984.1L548.9 984.1L549.7 983.3L549.7 983.3L549.8 983.3L549.8 983.3L549.8 983.3L550.7 982.9L550.7 982.9L550.7 982.9L551.0 982.1L551.0 982.1L551.0 982.0L551.0 982.0L551.0 982.0L551.1 982.0L551.1 981.9L552.1 981.1L552.1 981.1L552.1 981.1L551.4 979.7L551.4 979.7L551.4 979.7L551.4 979.6L551.4 979.6L551.4 979.6L551.4 979.6L551.4 979.5L551.4 979.5L551.4 979.5L551.9 978.5L551.9 978.5L551.9 978.5L552.0 977.5L552.0 977.5L552.0 977.4L552.0 977.4L552.0 977.4L552.1 977.4L552.1 977.3L552.1 977.3L552.1 977.3L552.1 977.3L552.2 977.3L552.2 977.3L553.0 977.0L553.0 977.0L553.0 977.0L552.8 976.3L552.8 976.2L552.8 976.2L552.8 976.2L552.8 976.1L552.8 976.1L552.8 976.1L552.8 976.1L552.9 976.0L552.9 976.0L552.9 975.9L552.9 975.9L553.0 975.9L553.0 975.9L553.0 975.9L553.0 975.8L553.1 975.8L553.1 975.8L553.1 975.8L553.2 975.8L553.2 975.8L553.2 975.8L553.2 975.8L553.3 975.8L553.8 976.1L553.8 976.1L553.8 976.1L554.6 975.2L554.6 975.2L555.6 974.2L555.6 974.2L555.6 974.2L555.6 974.2L555.6 974.1L555.5 974.1L555.5 974.1L555.5 974.0L555.5 974.0L555.5 974.0L555.5 974.0L555.5 973.9L555.6 973.9L555.6 973.9L555.6 973.9L555.6 973.8L555.6 973.8L555.6 973.8L555.7 973.8L555.7 973.8L555.7 973.7L555.7 973.7L555.8 973.7L555.8 973.7L555.8 973.7L555.9 973.7L555.9 973.7L555.9 973.7L555.9 973.7L556.0 973.8L556.0 973.8L556.1 973.8L556.1 973.8L556.1 973.8L557.0 973.0L557.0 973.0L557.0 973.0L557.3 972.1L557.3 972.1L557.3 972.1L557.3 972.0L557.3 972.0L557.4 972.0L557.4 972.0L557.4 972.0L557.4 971.9L557.5 971.9L558.0 971.7L558.1 971.7L558.1 971.7L558.1 971.7L558.1 971.7L558.2 971.7L558.2 971.7L558.2 971.7L558.3 971.7L558.3 971.7L558.3 971.8L558.3 971.8L558.4 971.8L559.3 972.8L559.3 972.8L559.4 972.8L560.5 972.6L560.5 972.6L560.5 972.6L560.8 971.4L560.9 971.4L560.9 971.3L560.9 971.3L560.9 971.3L560.9 971.3L560.9 971.2L561.0 971.2L561.0 971.2L561.0 971.2L561.0 971.2L561.1 971.2L561.1 971.2L562.3 971.0L562.3 971.0L562.3 971.0L561.5 970.1L561.5 970.1L561.5 970.0L561.5 970.0L561.5 970.0L561.5 970.0L561.5 969.9L561.5 969.9L561.5 969.9L561.5 969.8L561.5 969.8L561.5 969.8L561.5 969.8L561.5 969.7L562.0 969.0L562.0 969.0L562.0 969.0L562.0 967.4L562.0 967.4L561.9 966.3L561.9 966.3L561.9 966.2L561.9 966.2L561.9 966.2L561.9 966.2L561.9 966.1L562.0 966.1L562.0 966.1L562.0 966.1L562.0 966.1L562.0 966.0L562.1 966.0L562.1 966.0L562.1 966.0L563.1 965.7L563.1 965.7L563.1 965.7L563.2 965.7L563.2 965.7L563.2 965.7L563.2 965.8L563.3 965.8L563.3 965.8L563.3 965.8L563.3 965.8L563.4 965.8L563.4 965.9L563.4 965.9L563.8 966.6L563.8 966.6L563.8 966.6L565.0 966.3L565.0 966.3L565.0 966.3L566.0 965.1L566.0 965.0L566.0 965.0L566.0 965.0L566.0 965.0L566.1 965.0L567.0 964.5L567.0 964.5L567.0 964.5L567.6 963.8L567.6 963.8L567.6 963.8L568.0 963.0L568.0 962.9L568.0 962.9L568.1 962.9L568.1 962.9L568.1 962.8L568.1 962.8L568.2 962.8L568.2 962.8L568.2 962.8L568.2 962.8L569.1 962.6L569.1 962.6L569.1 962.6L570.4 961.7L570.4 961.7L570.4 961.7L569.9 961.0L569.9 961.0L569.8 960.9L569.8 960.9L569.8 960.9L569.8 960.9L569.8 960.8L569.8 960.8L569.8 960.8L569.8 960.7L570.0 960.0L570.0 960.0L570.2 959.0L570.3 958.9L570.3 958.9L570.3 958.9L570.3 958.9L570.9 957.9L570.9 957.9L571.0 957.9L571.9 957.0L571.9 957.0L571.9 957.0L571.6 956.3L571.6 956.3L571.4 956.0L571.4 956.0L571.4 955.9L571.4 955.9L571.4 955.9L571.4 955.9L571.4 955.8L571.4 955.8L571.4 955.8L571.4 955.7L571.4 955.7L571.4 955.7L571.5 955.7L571.5 955.6L571.5 955.6L571.5 955.6L571.6 955.6L571.6 955.6L571.6 955.6L571.6 955.6L571.7 955.6L571.7 955.6L571.7 955.6L571.8 955.6L571.8 955.6L571.9 955.6L571.9 955.6L571.9 955.6L572.9 955.0L573.0 955.0L573.0 955.0L573.0 955.0L573.0 955.0L573.1 955.0L574.4 954.9L574.4 954.9L574.4 954.9L575.0 953.9L575.0 953.9L575.0 953.9L575.5 952.4L575.5 952.4L575.5 952.4L575.3 950.8L575.3 950.8L575.3 950.8L574.2 950.1L574.2 950.1L574.2 950.1L574.2 950.1L574.1 950.1L574.1 950.0L574.1 950.0L574.1 950.0L574.1 950.0L574.1 949.9L574.1 949.9L574.1 949.9L574.1 949.8L574.1 949.8L574.1 949.8L574.1 949.8L574.5 948.9L574.5 948.9L574.5 948.9L574.5 948.2L574.5 948.1L574.5 948.1L574.5 948.1L574.5 948.1L574.6 948.0L574.6 948.0L574.6 948.0L575.3 947.1L575.3 947.1L575.3 947.1L575.3 947.1L575.3 947.0L575.4 947.0L575.4 947.0L575.4 947.0L575.5 947.0L575.5 947.0L575.5 947.0L576.3 947.1L576.4 947.1L576.4 947.1L577.4 947.4L577.4 947.4L577.4 947.4L578.0 947.1L578.1 947.1L578.1 947.1L578.1 947.1L578.2 947.1L578.2 947.1L578.2 947.1L578.2 947.1L578.3 947.1L578.3 947.1L578.3 947.2L578.4 947.2L578.4 947.2L578.4 947.2L579.0 948.0L579.0 948.0L579.0 948.0L579.0 947.3L579.0 947.2L579.0 947.2L579.0 947.2L579.1 947.2L579.1 947.1L579.1 947.1L579.1 947.1L579.7 946.4L579.7 946.4L579.7 946.4L579.9 945.5L579.9 945.5L579.9 945.5L579.9 945.4L579.9 945.4L579.9 945.4L579.9 945.4L580.0 945.3L580.0 945.3L580.0 945.3L580.0 945.3L580.1 945.3L580.7 945.1L580.7 945.1L580.7 945.1L581.4 944.7L581.5 944.6L583.0 944.0L583.0 944.0L583.0 944.0L583.0 944.0L584.2 943.9L584.2 943.9L584.2 943.9L585.1 943.3L585.1 943.2L585.1 943.2L585.2 943.2L585.2 943.2L585.2 943.2L585.2 943.2L585.3 943.2L586.2 943.2L586.2 943.2L586.2 943.2L586.9 942.2L587.0 942.2L587.0 942.2L586.9 940.9L586.9 940.9L586.9 939.6L586.9 939.6L586.9 939.6L586.2 939.1L586.2 939.1L586.2 939.1L586.2 939.0L586.1 939.0L586.1 939.0L586.1 939.0L586.1 938.9L586.1 938.9L586.0 938.0L586.0 938.0L586.0 938.0L586.1 936.9L586.1 936.9L586.1 936.9L585.9 936.4L585.8 936.4L585.8 936.4L585.8 936.3L585.8 936.3L585.8 936.3L585.8 936.2L585.9 936.2L585.9 936.2L585.9 936.2L585.9 936.1L585.9 936.1L586.7 935.2L586.7 935.2L586.7 935.2L586.0 934.0L586.0 934.0L586.0 934.0L586.0 934.0L585.9 933.9L585.9 933.9L585.9 933.9L585.9 933.8L585.9 933.8L586.0 933.8L586.0 933.8L586.0 933.7L586.3 933.0L586.4 933.0L586.4 933.0L586.4 932.9L586.4 932.9L586.4 932.9L586.5 932.9L586.5 932.9L586.5 932.9L586.5 932.9L586.6 932.9L586.6 932.9L586.6 932.9L586.7 932.9L587.5 933.0L587.5 933.0L587.5 933.0L588.0 932.0L588.0 932.0L588.0 932.0L588.4 930.6L588.4 930.6L588.4 930.6L588.4 930.6L588.5 930.5L588.5 930.5L588.5 930.5L588.5 930.5L588.5 930.5L588.6 930.5L588.6 930.4L588.6 930.4L589.9 930.1L589.9 930.1L589.9 930.1L589.2 928.6L589.2 928.6L589.2 928.6L589.2 928.6L589.0 927.0L589.0 927.0L589.0 927.0L588.3 926.2L588.3 926.2L588.3 926.2L587.2 926.0L587.1 926.0L587.1 926.0L587.1 926.0L587.1 926.0L587.0 925.9L587.0 925.9L587.0 925.9L587.0 925.9L587.0 925.9L586.9 925.8L586.6 924.9L586.6 924.9L586.6 924.9L586.0 924.5L586.0 924.5L586.0 924.5L585.2 923.5L585.1 923.5L584.8 923.1L584.8 923.0L584.8 923.0L584.8 923.0L584.8 923.0L584.8 922.9L584.8 922.9L584.8 922.9L584.8 922.8L584.8 922.8L584.8 922.8L584.8 922.8L584.8 922.7L584.8 922.7L584.8 922.7L584.9 922.7L585.6 922.0L585.6 922.0L585.6 922.0L585.9 921.3L585.9 921.3L585.9 921.2L585.9 921.2L585.9 921.2L586.0 921.2L586.0 921.1L586.0 921.1L586.0 921.1L586.1 921.1L586.1 921.1L586.1 921.1L586.2 921.1L586.2 921.1L586.2 921.1L586.2 921.1L586.3 921.1L586.3 921.1L586.3 921.1L586.3 921.2L586.4 921.2L586.4 921.2L586.4 921.2L586.4 921.2L586.4 921.3L587.0 922.5L587.0 922.5L587.0 922.5L588.6 921.1L588.6 921.0L589.5 920.0L589.5 920.0L589.5 920.0L589.5 918.3L589.5 918.3L589.6 918.2L590.0 916.5L590.0 916.5L590.0 916.5L588.6 915.4L588.6 915.4L588.5 915.4L587.0 913.7L587.0 913.7L585.5 912.0L585.5 912.0L585.5 912.0L584.1 911.1L584.1 911.1L584.0 911.0L584.0 911.0L583.4 910.2L583.3 910.2L583.3 910.1L582.5 908.5L582.5 908.5L582.5 908.5L580.9 906.6L580.9 906.6L580.8 906.6L580.8 906.6L580.8 906.6L580.8 906.5L580.8 906.5L580.8 906.5L580.8 905.4L580.8 905.4L580.8 905.4L580.0 904.0L580.0 904.0L580.0 904.0L580.0 904.0L579.7 902.4L579.7 902.4L579.7 902.4L578.5 901.2L578.5 901.1L578.5 901.1L577.9 900.0L577.9 899.9L577.8 899.9L577.8 899.9L577.8 899.8L577.8 899.8L577.8 899.8L578.0 898.0L578.0 898.0L578.0 898.0L577.0 896.4L577.0 896.4L577.0 896.4L576.0 896.2L575.9 896.2L575.9 896.2L575.9 896.2L575.9 896.1L575.8 896.1L575.8 896.1L575.8 896.1L575.8 896.1L575.8 896.0L575.8 896.0L575.8 896.0L575.7 895.9L575.7 895.9L575.7 895.9L575.8 894.1L575.8 894.1L575.8 894.1L575.0 892.7L575.0 892.7L575.0 892.7L573.8 891.9L573.8 891.9L573.8 891.9L572.7 890.9L572.7 890.9L571.4 889.7L571.4 889.6L571.4 889.6L571.4 889.6L571.4 889.6L571.3 889.5L571.3 889.5L571.3 889.5L571.0 887.6L571.0 887.6L571.0 887.6L571.0 887.5L571.0 887.5L571.0 887.5L571.0 887.5L571.1 887.4L571.1 887.4L571.7 886.5L571.7 886.5L572.5 885.0L572.5 885.0L572.5 885.0L572.4 884.1L572.4 884.0L572.4 884.0L572.4 884.0L572.4 884.0L572.4 883.9L572.4 883.9L572.4 883.9L572.9 883.0L572.9 883.0L572.9 883.0L572.9 882.9L572.9 882.9L573.0 882.9L573.0 882.9L573.6 882.6L573.6 882.5L573.7 882.5L573.7 882.5L573.7 882.5L573.7 882.5L575.0 882.5L575.0 882.5L575.0 882.5L575.0 881.5L575.0 881.5L575.0 881.4L575.0 881.4L575.0 881.4L575.0 881.4L575.0 881.3L575.0 881.3L575.1 881.3L575.1 881.3L575.1 881.2L575.9 880.7L575.9 880.7L575.9 880.7L576.5 879.5L576.6 879.5L576.6 879.4L576.6 879.4L576.6 879.4L576.6 879.4L576.7 879.4L576.7 879.4L577.5 879.0L577.5 879.0L577.5 879.0L576.9 878.0L576.9 878.0L576.9 878.0L576.8 878.0L576.8 877.9L576.8 877.9L576.8 877.9L576.8 877.8L576.8 877.8L576.8 877.8L576.9 877.8L576.9 877.7L576.9 877.7L576.9 877.7L576.9 877.7L577.7 876.9L577.7 876.9L577.7 876.9L577.7 876.8L577.8 876.8L577.8 876.8L577.8 876.8L579.3 876.5L579.3 876.5L579.3 876.5L580.0 875.0L580.0 875.0L580.0 875.0L580.0 875.0L580.8 874.1L580.9 874.1L580.9 874.1L580.9 874.0L580.9 874.0L581.4 873.8L581.5 873.8L581.5 873.7L581.5 873.7L581.5 873.7L581.6 873.7L581.6 873.7L581.6 873.7L581.7 873.7L581.7 873.8L581.7 873.8L581.7 873.8L581.8 873.8L582.5 874.5L582.5 874.5L582.5 874.5L583.4 873.9L583.4 873.9L583.4 873.9L584.0 872.5L584.0 872.5L584.0 872.5L584.3 871.2L584.3 871.2L584.3 871.2L584.4 870.3L584.4 870.3L584.4 870.3L584.4 870.3L584.4 870.2L584.4 870.2L584.5 870.2L584.5 870.2L584.5 870.1L584.5 870.1L585.7 869.3L585.8 869.3L585.8 869.3L585.8 869.3L585.8 869.3L585.9 869.3L585.9 869.3L586.8 869.3L586.9 869.3L586.9 869.3L586.9 869.3L586.9 869.3L587.0 869.3L587.0 869.3L587.0 869.3L587.0 869.4L587.1 869.4L587.1 869.4L587.5 870.0L587.5 870.0L587.5 870.0L588.0 868.9L588.0 868.9L588.3 868.0L588.3 868.0L588.3 868.0L588.3 867.9L588.3 867.9L588.4 867.9L588.4 867.9L588.4 867.9L588.4 867.8L588.5 867.8L589.2 867.6L589.2 867.6L589.2 867.6L589.3 867.6L589.3 867.6L589.9 867.6L590.0 867.6L590.0 867.6L590.0 867.6L590.1 867.6L590.1 867.6L590.1 867.6L591.0 868.3L591.0 868.3L592.5 869.0L592.5 869.0L592.5 869.0L592.6 867.6L592.6 867.5L592.6 867.5L593.0 866.0L593.0 866.0L593.0 866.0L591.6 865.7L591.5 865.7L591.5 865.7L590.0 865.0L590.0 865.0L590.0 865.0L588.7 865.2L588.7 865.2L588.6 865.2L588.6 865.2L588.6 865.2L588.5 865.2L588.5 865.2L588.5 865.2L588.5 865.2L588.4 865.2L588.4 865.1L588.4 865.1L587.6 864.1L587.6 864.1L586.9 862.8L586.9 862.8L586.9 862.8L585.8 862.5L585.8 862.5L585.8 862.5L585.1 862.9L585.1 863.0L585.0 863.0L585.0 863.0L585.0 863.0L585.0 863.0L584.9 863.0L584.9 863.0L583.3 862.7L583.3 862.7L583.3 862.7L582.1 863.2L582.0 863.2L582.0 863.2L582.0 863.2L582.0 863.2L581.9 863.2L581.9 863.2L581.9 863.2L580.0 862.5L580.0 862.5L580.0 862.5L577.7 863.2L577.7 863.2L577.7 863.2L576.3 864.4L576.3 864.4L576.3 864.5L576.2 864.5L575.0 865.0L575.0 865.0L575.0 865.0L573.4 865.3L573.3 865.3L573.3 865.3L572.3 865.7L572.3 865.7L572.3 865.7L571.2 866.8L571.1 866.9L571.1 866.9L571.1 866.9L571.1 866.9L571.0 866.9L571.0 866.9L571.0 866.9L570.9 866.9L570.9 866.9L570.9 866.9L570.9 866.9L570.8 866.9L570.8 866.9L569.3 866.0L569.2 866.0L569.2 866.0L569.2 866.0L569.2 866.0L569.1 865.9L568.0 864.0L568.0 864.0L568.0 864.0L566.6 863.0L566.6 863.0L566.6 862.9L566.5 862.9L566.5 862.9L566.5 862.9L566.1 862.0L566.1 861.9L566.1 861.9L566.1 861.9L566.1 861.8L566.0 860.0L566.0 860.0L566.0 860.0L565.0 857.7L565.0 857.7L565.0 857.7L563.7 856.6L563.7 856.6L563.7 856.6L562.5 856.4L562.5 856.4L561.1 856.0L561.1 856.0L561.1 856.0L561.1 856.0L561.0 856.0L561.0 856.0L561.0 855.9L561.0 855.9L561.0 855.9L560.9 855.9L560.2 854.3L560.2 854.3L560.2 854.2L560.2 854.2L560.0 853.2L560.0 853.2L560.0 853.1L560.0 853.1L560.0 853.1L560.0 853.0L560.1 853.0L560.1 853.0L560.1 853.0L560.1 852.9L560.1 852.9L560.1 852.9L560.2 852.9L561.5 851.9L561.5 851.9L561.5 851.9L562.2 850.9L562.2 850.9L562.2 850.8L562.4 849.1L562.4 849.0L562.4 849.0L562.4 849.0L562.4 849.0L563.0 848.0L563.0 848.0L563.0 848.0L564.2 846.8L564.2 846.8L564.2 846.7L564.3 846.7L564.3 846.7L564.3 846.7L564.3 846.7L564.4 846.7L564.4 846.7L565.9 846.6L565.9 846.6L565.9 846.6L567.0 846.0L567.0 846.0L569.3 844.9L569.3 844.9L569.3 844.9L570.0 843.1L570.0 843.1L570.0 843.0L570.0 843.0L570.0 843.0L570.1 843.0L570.1 842.9L571.4 842.1L571.4 842.0L571.5 842.0L571.5 842.0L571.5 842.0L571.5 842.0L571.6 842.0L574.0 842.0L574.0 842.0L574.0 842.0L575.8 840.8L575.8 840.8L575.8 840.8L576.3 838.9L576.3 838.9L576.3 838.9L576.3 838.8L576.3 838.8L576.3 838.8L576.4 838.8L577.2 838.1L577.2 838.1L577.2 838.1L577.2 838.1L577.3 838.1L577.3 838.1L577.3 838.0L577.4 838.0L579.0 838.0L579.0 838.0L579.0 838.0L580.1 837.3L580.1 837.3L580.1 837.3L581.4 836.1L581.4 836.1L581.4 836.1L582.3 834.8L582.3 834.8L582.4 834.8L582.4 834.8L582.4 834.7L582.4 834.7L583.9 834.0L583.9 834.0L584.0 834.0L584.0 834.0L584.0 834.0L584.0 834.0L584.1 834.0L584.1 834.0L586.3 834.5L586.3 834.5L587.9 835.0L587.9 835.0L587.9 835.0L588.0 835.0L588.0 835.0L588.0 835.0L588.0 835.1L588.0 835.1L588.1 835.1L589.2 837.1L589.2 837.2L589.9 838.9L589.9 838.9L590.0 838.9L590.0 838.9L590.0 839.0L590.0 839.0L590.0 839.0L590.0 839.1L589.9 839.1L589.9 839.1L589.9 839.1L589.0 840.6L589.0 840.6L588.4 841.9L588.4 841.9L588.4 841.9L588.0 843.9L588.0 843.9L588.0 843.9L588.0 844.0L588.0 844.0L588.0 844.0L587.9 844.0L587.9 844.1L586.7 845.0L586.7 845.0L585.7 845.7L585.6 845.7L585.6 845.7L585.0 848.0L585.0 848.0L584.7 849.1L584.7 849.1L584.7 849.1L584.6 850.7L584.6 850.7L584.6 850.7L584.6 850.7L584.6 850.8L584.5 850.8L584.5 850.8L584.5 850.8L584.5 850.9L584.5 850.9L583.0 852.0L583.0 852.0L583.0 852.0L584.0 851.5L584.0 851.5L584.8 851.3L584.8 851.3L586.0 851.0L586.0 851.0L586.0 851.0L586.5 850.0L586.5 850.0L586.5 850.0L586.1 849.4L586.0 849.4L586.0 849.4L586.0 849.3L586.0 849.3L586.0 849.3L586.0 849.3L586.0 849.2L586.0 849.2L586.0 849.2L586.0 849.1L586.0 849.1L586.1 849.1L586.1 849.1L586.1 849.0L586.1 849.0L586.1 849.0L586.2 849.0L586.2 849.0L586.2 849.0L586.2 849.0L586.3 849.0L586.3 849.0L586.3 849.0L586.8 849.0L586.8 849.0L586.8 849.0L587.3 848.1L587.3 848.0L587.3 848.0L587.3 848.0L587.4 848.0L587.4 848.0L587.4 847.9L587.4 847.9L587.5 847.9L587.5 847.9L587.5 847.9L587.5 847.9L587.6 847.9L587.6 847.9L588.3 848.0L588.4 848.0L589.6 848.1L589.6 848.1L589.6 848.1L590.3 847.9L590.3 847.9L590.3 847.9L591.0 847.0L591.0 847.0L591.0 847.0L590.7 845.7L590.7 845.7L590.7 845.7L590.7 845.6L590.7 845.6L590.7 845.6L590.7 845.5L590.7 845.5L590.7 845.5L590.7 845.5L590.7 845.4L590.8 845.4L590.8 845.4L590.8 845.4L590.8 845.4L590.9 845.4L590.9 845.4L590.9 845.4L591.6 845.3L591.6 845.3L591.6 845.3L592.4 844.2L592.4 844.1L592.4 844.1L592.4 844.1L592.5 844.1L592.5 844.1L593.2 843.7L593.2 843.7L593.2 843.7L593.2 843.7L593.3 843.7L593.3 843.7L593.3 843.7L593.4 843.7L593.4 843.7L593.4 843.7L593.4 843.7L593.5 843.7L593.5 843.7L593.5 843.7L593.5 843.8L594.2 844.5L594.2 844.5L594.2 844.5L595.4 844.2L595.4 844.2L597.0 844.0L597.0 844.0L597.0 844.0L596.9 842.8L596.9 842.7L596.9 842.7L596.9 842.7L597.1 841.8L597.1 841.8L597.1 841.8L597.2 841.7L597.2 841.7L597.2 841.7L597.2 841.7L597.2 841.6L597.3 841.6L597.3 841.6L597.8 841.3L597.8 841.3L598.4 840.9L598.5 840.9L598.5 840.8L598.5 840.8L598.5 840.8L598.6 840.8L598.6 840.8L598.6 840.8L598.7 840.8L598.7 840.8L598.7 840.8L598.7 840.9L598.8 840.9L598.8 840.9L598.8 840.9L598.8 840.9L598.9 840.9L598.9 841.0L598.9 841.0L599.3 842.0L599.3 842.0L599.3 842.0L600.9 841.8L600.9 841.8L600.9 841.8L601.9 841.0L601.9 841.0L602.0 841.0L602.0 840.9L602.0 840.9L602.1 840.9L602.1 840.9L602.1 840.9L602.1 840.9L603.0 841.0L603.0 841.0L603.8 841.0L603.9 841.0L605.0 841.0L605.0 841.0L605.0 841.0L606.4 840.3L606.4 840.3L607.8 839.6L607.8 839.6L607.8 839.6L607.8 838.5L607.8 838.5L607.8 838.5L607.8 838.5L607.8 838.4L607.8 838.4L607.8 838.4L608.2 837.8L608.2 837.8L608.2 837.8L609.0 837.0L609.0 837.0L609.0 837.0L608.3 836.7L608.3 836.7L608.3 836.6L608.2 836.6L608.2 836.6L608.2 836.6L608.2 836.6L608.2 836.5L608.2 836.5L608.2 836.5L608.1 836.4L608.1 836.4L608.1 836.4L608.1 836.4L608.1 836.3L608.4 835.3L608.4 835.3L608.4 835.3L608.8 834.3L608.8 834.3L608.8 834.3L608.9 834.2L608.9 834.2L608.9 834.2L608.9 834.2L608.9 834.2L609.0 834.2L609.0 834.2L609.0 834.1L609.1 834.1L609.1 834.1L610.3 834.1L610.3 834.1L610.3 834.1L610.8 833.1L610.8 833.1L610.9 833.1L610.9 833.1L610.9 833.1L610.9 833.0L611.0 833.0L611.0 833.0L611.0 833.0L612.0 832.7L612.0 832.6L612.1 832.6L612.1 832.6L612.1 832.6L612.1 832.6L612.2 832.6L612.2 832.7L612.2 832.7L612.3 832.7L612.3 832.7L612.8 833.1L612.8 833.1L612.8 833.1L614.0 833.0L614.0 833.0L614.0 833.0L614.1 831.5L614.1 831.5L614.1 831.4L613.2 831.1L613.2 831.0L613.2 831.0L613.1 831.0L613.1 831.0L613.1 831.0L613.1 830.9L613.1 830.9L613.1 830.9L613.0 830.9L613.0 830.8L613.0 830.8L612.9 830.1L612.9 830.1L612.9 830.0L612.9 830.0L613.1 829.1L613.1 829.1L613.1 829.0L613.1 829.0L613.1 829.0L613.1 829.0L613.1 828.9L613.2 828.9L613.2 828.9L613.2 828.9L613.2 828.9L614.0 828.5L614.0 828.5L614.0 828.5L614.6 827.8L614.6 827.8L614.6 827.8L614.6 827.8L614.7 827.7L614.7 827.7L614.7 827.7L614.7 827.7L614.8 827.7L614.8 827.7L614.8 827.7L614.9 827.7L614.9 827.7L616.0 828.0L616.0 828.0L616.0 828.0L618.3 827.1L618.3 827.1L618.3 827.1L618.4 827.1L620.0 827.0L620.0 827.0L620.0 827.0L621.6 826.6L621.6 826.6L621.6 826.6L622.7 825.3L622.8 825.3L622.8 825.3L622.8 825.3L624.5 824.3L624.5 824.3L624.5 824.3L624.6 824.3L624.6 824.2L625.8 824.0L625.9 824.0L625.9 824.0L625.9 824.0L626.0 824.0L626.0 824.0L626.0 824.0L626.0 824.1L626.1 824.1L626.1 824.1L626.1 824.1L627.0 825.0L627.0 825.0L627.1 825.0L627.1 825.1L627.1 825.1L627.5 826.3L627.5 826.3L627.5 826.3L630.0 827.0L630.0 827.0L630.0 827.0L631.8 825.9L631.8 825.9L633.0 824.9L633.0 824.9L633.1 824.9L633.1 824.9L633.1 824.9L633.2 824.9L633.2 824.9L633.2 824.9L635.0 825.0L635.0 825.0L635.0 825.0L636.7 823.2L636.8 823.2L636.8 823.1L636.8 823.1L636.8 823.1L638.5 822.3L638.5 822.3L638.5 822.3L639.0 821.0L639.0 821.0L639.0 821.0L639.0 821.0L639.9 819.8L640.0 819.7L640.0 819.7L640.0 819.7L640.0 819.7L640.0 819.7L640.1 819.7L640.1 819.7L640.1 819.7L642.2 819.3L642.2 819.3L642.2 819.3L644.0 818.0L644.0 818.0L646.0 816.7L646.1 816.7L646.1 816.7L646.7 815.0L646.7 815.0L646.8 815.0L646.8 815.0L646.8 814.9L646.8 814.9L647.8 814.1L647.9 814.1L647.9 814.1L647.9 814.1L647.9 814.1L648.0 814.1L648.0 814.1L648.0 814.1L648.1 814.1L648.1 814.1L648.1 814.1L648.1 814.1L648.2 814.1L650.0 815.0L650.0 815.1L650.0 815.1L650.0 815.1L650.1 815.1L650.1 815.2L650.1 815.2L651.0 817.0L651.0 817.0L651.0 817.0L652.7 815.2L652.7 815.2L653.7 813.9L653.7 813.9L653.7 813.8L653.8 813.8L655.0 813.0L655.0 813.0L655.0 813.0L655.2 810.5L655.2 810.5L655.2 810.5L655.0 808.9L655.0 808.9L655.0 808.9L654.2 808.2L654.2 808.2L654.2 808.1L654.1 808.1L654.1 808.1L654.1 808.1L654.1 808.0L654.1 808.0L654.1 808.0L654.1 807.9L654.1 807.9L654.1 807.9L654.1 807.9L654.1 807.8L654.1 807.8L654.2 807.8L655.3 806.1L655.4 806.1L655.4 806.1L655.4 804.2L655.4 804.1L655.4 804.1L655.4 804.1L655.4 804.0L655.4 804.0L656.0 803.0L656.0 803.0L656.0 803.0L656.2 801.1L656.2 801.1L656.2 799.6L656.2 799.6L656.0 797.0L656.0 797.0L656.0 797.0L656.2 795.5L656.2 795.4L656.2 795.4L656.2 795.4L656.2 795.4L656.3 795.3L656.3 795.3L656.3 795.3L657.4 794.2L657.5 794.1L657.5 794.1L657.5 794.1L657.6 794.1L658.6 793.7L658.6 793.7L660.0 793.0L660.0 793.0L660.0 793.0L661.2 791.8L661.2 791.8L661.2 791.8L661.3 791.8L663.4 790.6L663.5 790.6L664.5 790.2L664.5 790.2L664.5 790.2L664.6 790.1L664.6 790.1L664.6 790.1L664.6 790.2L664.7 790.2L666.1 790.6L666.1 790.6L666.2 790.6L668.0 790.0L668.0 790.0L668.0 790.0L669.5 788.9L669.5 788.9L669.5 788.9L670.9 787.1L670.9 787.1L671.6 786.0L671.6 786.0L672.3 784.6L672.3 784.6L673.0 783.1L673.0 783.0L673.1 783.0L673.1 783.0L674.0 782.0L674.0 782.0L674.0 782.0L674.3 780.5L674.3 780.5L674.3 780.5L674.9 779.2L674.9 779.2L675.5 777.4L675.5 777.4L676.0 776.3L676.0 776.2L676.0 776.2L675.5 774.7L675.5 774.7L675.5 774.7L675.5 774.6L675.5 774.6L675.5 774.6L675.5 774.5L675.6 774.5L675.6 774.5L675.6 774.5L675.6 774.4L676.8 773.0L676.8 773.0L676.8 772.9L678.0 772.0L678.0 772.0L678.0 772.0L679.0 770.8L679.0 770.7L679.7 769.9L679.7 769.9L679.7 769.9L679.8 768.1L679.8 768.1L679.8 768.1L679.6 766.9L679.6 766.9L679.3 764.7L679.3 764.7L679.3 764.6L679.3 764.6L679.3 764.6L679.3 764.6L679.3 764.5L679.3 764.5L680.0 763.5L680.0 763.5L681.0 762.0L681.0 762.0L681.0 762.0L681.9 759.8L681.9 759.8L681.9 759.8L682.4 757.6L682.4 757.6L682.4 757.6L681.4 757.5L681.3 757.5L681.3 757.5L681.3 757.5L679.8 757.0L679.8 757.0L679.8 757.0L678.0 757.0L678.0 757.0L678.0 757.0L676.0 758.0L676.0 758.0L676.0 758.0L674.5 759.4L674.5 759.4L674.5 759.4L674.5 759.4L674.4 759.4L674.4 759.5L674.4 759.5L674.4 759.5L674.3 759.5L674.3 759.5L672.4 759.3L672.4 759.3L670.0 759.0L670.0 759.0L670.0 759.0L668.7 759.6L668.7 759.6L668.7 759.6L668.6 759.6L667.4 759.8L667.4 759.8L667.4 759.8L666.3 761.4L666.3 761.4L666.3 761.4L666.3 761.5L666.3 761.5L666.2 761.5L664.8 762.2L664.8 762.2L664.8 762.2L664.1 762.9L664.1 762.9L664.1 762.9L664.1 762.9L664.0 762.9L664.0 763.0L664.0 763.0L663.9 763.0L663.9 763.0L663.9 763.0L663.9 763.0L663.8 763.0L662.3 762.6L662.2 762.6L661.0 762.4L661.0 762.4L661.0 762.4L659.2 763.3L659.2 763.3L658.2 763.9L658.2 763.9L658.2 763.9L658.1 763.9L658.1 763.9L658.1 763.9L658.0 763.9L658.0 763.9L658.0 763.9L658.0 763.9L657.9 763.9L657.9 763.9L657.9 763.9L657.9 763.8L657.8 763.8L657.2 763.1L657.2 763.1L657.2 763.1L656.3 761.6L656.3 761.6L656.3 761.6L655.2 761.0L655.2 761.0L655.2 761.0L654.0 760.0L654.0 760.0L654.0 760.0L653.1 759.0L653.1 759.0L653.1 758.9L653.1 758.9L653.1 758.9L653.1 758.9L653.1 758.8L652.9 757.3L652.9 757.2L652.9 757.2L652.9 757.2L653.2 754.9L653.2 754.8L653.2 754.8L651.9 753.7L651.9 753.6L651.8 753.6L651.8 753.6L651.8 753.6L651.0 752.0L651.0 752.0L651.0 752.0L649.1 750.2L649.1 750.2L649.1 750.2L647.9 750.2L647.9 750.2L647.9 750.2L646.4 749.8L646.4 749.8L646.4 749.7L646.3 749.7L646.3 749.7L646.3 749.7L646.3 749.7L646.3 749.7L646.2 749.6L646.2 749.6L645.6 748.4L645.6 748.4L645.6 748.4L644.0 747.0L644.0 747.0L644.0 747.0L641.7 746.3L641.6 746.3L640.1 745.7L640.1 745.7L640.1 745.7L638.1 745.7L638.0 745.7L638.0 745.7L638.0 745.7L637.9 745.7L637.9 745.7L636.5 745.0L636.5 744.9L636.5 744.9L635.4 744.6L635.4 744.6L635.4 744.6L635.3 744.6L635.3 744.6L635.3 744.6L635.3 744.5L634.0 743.1L634.0 743.0L634.0 743.0L634.0 743.0L634.0 743.0L634.0 742.9L633.6 741.1L633.6 741.1L633.6 741.1L632.3 740.2L632.3 740.2L631.3 739.5L631.3 739.5L631.3 739.5L630.0 738.0L630.0 738.0L628.7 736.1L628.7 736.1L628.6 736.0L628.6 736.0L628.6 736.0L628.6 736.0L628.6 735.9L628.6 735.9L628.6 735.9L628.8 734.7L628.8 734.7L628.8 734.7L628.7 733.2L628.7 733.2L628.7 733.2L627.3 731.9L627.3 731.9L627.3 731.9L626.0 730.0L626.0 730.0L626.0 730.0L624.8 729.1L624.8 729.1L624.8 729.1L624.7 729.0L624.7 729.0L624.7 729.0L624.7 729.0L624.7 728.9L624.5 727.9L624.5 727.9L624.2 726.2L624.2 726.1L624.2 726.1L624.2 726.1L624.4 724.3L624.4 724.3L624.4 724.3L623.9 723.3L623.9 723.3L623.9 723.3L623.9 723.2L623.9 723.2L623.9 723.2L623.9 723.2L624.0 721.7L624.0 721.7L624.0 721.7L623.0 720.0L623.0 720.0L623.0 720.0L622.1 719.0L622.0 719.0L622.0 719.0L622.0 719.0L621.5 718.0L621.4 717.9L621.4 717.9L621.4 717.9L621.4 717.9L621.4 717.8L621.4 717.8L621.4 717.8L621.4 717.8L621.4 717.7L621.9 716.5L621.9 716.5L621.9 716.5L621.6 714.9L621.6 714.9L621.1 712.9L621.1 712.9L621.1 712.9L620.0 712.0L620.0 712.0L618.2 710.7L618.2 710.7L618.2 710.6L617.0 709.2L616.9 709.2L616.9 709.1L616.9 709.1L616.9 709.1L616.9 709.0L616.9 709.0L616.9 709.0L616.9 707.7L616.9 707.7L616.9 707.7L616.0 706.0L616.0 706.0L616.0 706.0L614.4 704.7L614.4 704.7L613.2 703.6L613.1 703.6L613.1 703.6L612.5 702.8L612.5 702.8L612.5 702.8L610.6 702.5L610.6 702.5L610.6 702.5L610.5 702.5L610.5 702.5L610.5 702.5L610.5 702.4L609.4 701.6L609.4 701.6L609.4 701.6L608.0 701.0L608.0 701.0L606.4 700.3L604.4 699.5L604.3 699.5L604.3 699.5L602.7 698.3L602.7 698.3L602.7 698.3L601.5 698.1L601.5 698.1L601.5 698.1L600.0 698.4L600.0 698.4L600.0 698.4L598.1 699.7L598.0 699.7L598.0 699.7L598.0 699.7L597.9 699.7L596.8 699.9L596.8 699.9L595.2 700.3L595.1 700.3L595.1 700.3L595.1 700.3L595.0 700.3L592.9 699.8L592.8 699.8L591.0 699.3L591.0 699.3L591.0 699.3L589.4 699.2L589.4 699.2L589.4 699.2L588.0 700.0L586.3 700.9L586.3 700.9L586.3 701.0L586.3 701.0L584.4 701.4L584.4 701.4L582.9 701.9L582.9 701.9L582.9 702.0L582.9 702.0L581.7 702.1L581.7 702.1L581.7 702.1L580.0 703.0L580.0 703.0L578.6 703.8L578.6 703.8L578.6 703.8L576.8 705.3L576.8 705.3L576.8 705.3L576.5 707.2L576.5 707.2L576.0 709.0L576.0 709.0L576.0 709.0L576.9 709.9L576.9 709.9L578.0 711.2L578.0 711.2L578.0 711.3L578.0 711.3L578.0 711.3L578.0 711.3L578.0 711.4L578.3 713.0L578.3 713.0L578.3 713.0L578.9 713.8L578.9 713.8L578.9 713.8L578.9 713.9L578.9 713.9L578.9 713.9L578.9 714.0L578.9 714.0L578.9 714.0L578.9 714.1L578.9 714.1L578.9 714.1L578.9 714.1L578.8 714.2L578.8 714.2L577.8 715.2L577.8 715.2L577.8 715.3L577.6 716.6L577.6 716.7L577.6 716.7L577.6 716.7L577.5 716.8L577.5 716.8L577.5 716.8L577.5 716.8L575.6 718.3L575.6 718.3L575.6 718.4L575.0 719.9L575.0 720.0L575.0 720.0L575.0 720.0L575.0 720.0L573.9 721.2L573.8 721.2L573.8 721.2L573.5 722.8L573.5 722.8L572.9 724.6L572.9 724.6L572.9 724.6L573.0 725.9L573.0 725.9L573.0 725.9L573.0 725.9L573.0 726.0L573.0 726.0L573.0 726.0L572.9 726.1L572.9 726.1L572.9 726.1L571.7 727.2L571.7 727.3L570.9 728.0L570.9 728.0L570.9 728.0L570.8 729.8L570.8 729.8L570.8 729.8L570.8 729.9L570.0 732.0L570.0 732.0L569.4 733.6L569.4 733.7L569.4 733.7L568.9 734.6L568.9 734.7L568.9 734.7L569.1 736.2L569.1 736.3L569.1 736.3L569.1 736.3L569.1 736.4L569.1 736.4L569.1 736.4L569.1 736.4L568.2 738.0L568.2 738.0L568.2 738.0L568.2 738.0L568.1 738.0L568.1 738.1L567.0 738.8L567.0 738.8L565.1 740.0L565.0 740.0L565.0 740.0L565.0 740.0L564.9 740.0L563.6 740.2L563.6 740.2L563.6 740.2L562.3 741.7L562.3 741.7L562.3 741.7L562.2 741.7L561.4 742.2L561.4 742.2L560.1 742.9L560.1 743.0L560.1 743.0L560.0 743.0L560.0 743.0L560.0 743.0L559.9 743.0L559.9 743.0L559.9 743.0L558.5 742.5L558.4 742.5L556.2 741.6L556.2 741.6L556.1 741.6L554.5 742.3L554.4 742.3L554.4 742.3L554.4 742.3L554.3 742.3L554.3 742.3L552.0 742.0L552.0 742.0L552.0 742.0L552.3 743.7L552.3 743.7L552.3 743.7L552.3 743.8L552.0 745.5L552.0 745.5L552.0 745.5L552.0 745.6L552.0 745.6L551.9 745.6L551.9 745.6L551.9 745.7L550.8 746.8L550.8 746.8L550.8 746.8L550.0 748.0L550.0 748.0L549.1 749.6L549.1 749.6L549.1 749.6L549.1 749.6L547.6 751.1L547.6 751.1L546.4 752.3L546.4 752.3L546.4 752.3L546.0 754.0L546.0 754.0L546.0 754.0L546.0 754.0L544.7 756.1L544.7 756.1L544.7 756.2L544.3 757.9L544.3 757.9L544.0 760.0L544.0 760.0L544.0 760.0L545.1 760.7L545.1 760.7L545.1 760.7L545.2 760.7L545.2 760.8L546.1 762.1L546.2 762.1L546.2 762.1L548.0 763.0L548.0 763.0L548.0 763.0L549.5 762.8L549.6 762.8L549.6 762.8L550.8 762.3L550.9 762.3L550.9 762.3L550.9 762.3L550.9 762.3L551.0 762.3L552.4 762.4L552.4 762.4L552.4 762.4L552.5 762.4L552.5 762.4L552.5 762.4L552.5 762.4L552.6 762.4L552.6 762.5L554.0 764.0L554.0 764.0L554.0 764.0L555.6 763.8L555.6 763.8L555.7 763.8L557.5 763.8L557.6 763.8L557.6 763.8L559.3 763.2L559.3 763.2L559.3 763.2L559.9 762.1L559.9 762.1L560.0 762.1L560.0 762.1L560.0 762.0L560.0 762.0L560.0 762.0L560.1 762.0L560.1 762.0L560.1 762.0L560.2 762.0L561.7 761.8L561.7 761.8L561.8 761.8L561.8 761.8L561.8 761.8L561.9 761.8L561.9 761.9L564.0 763.0L564.0 763.0L565.2 763.5L565.2 763.5L565.2 763.6L566.8 764.8L566.8 764.8L566.8 764.8L568.9 765.0L569.0 765.0L569.0 765.0L569.0 765.0L569.1 765.0L570.5 765.8L570.5 765.8L571.7 766.3L571.8 766.3L573.1 767.0L573.1 767.0L573.1 767.0L573.1 767.0L573.1 767.1L573.2 767.1L573.2 767.1L573.2 767.1L573.6 768.2L573.6 768.2L573.6 768.2L574.0 770.0L574.0 770.0L574.0 770.0L573.9 772.1L573.9 772.1L573.9 772.1L573.9 772.2L573.9 772.2L573.1 773.9L573.0 773.9L573.0 773.9L573.0 773.9L573.0 774.0L573.0 774.0L572.9 774.0L572.9 774.0L572.9 774.0L572.9 774.0L570.6 774.6L570.6 774.6L569.0 775.0L569.0 775.0L569.0 775.0L567.8 775.6L567.8 775.6L567.8 775.6L567.7 775.6L567.7 775.6L567.7 775.6L567.6 775.6L567.6 775.6L566.3 775.3L566.3 775.3L566.2 775.3L566.2 775.3L564.9 774.5L564.9 774.5L564.0 774.0L564.0 774.0L564.0 774.0L562.5 774.2L562.5 774.2L562.5 774.2L560.8 775.4L560.8 775.4L560.8 775.5L560.8 775.5L560.7 775.5L559.4 775.7L559.4 775.7L559.4 775.8L558.1 776.9L558.1 776.9L558.0 777.0L558.0 777.0L558.0 777.0L558.0 777.0L557.9 777.0L557.9 777.0L557.9 777.0L556.5 776.9L556.5 776.9L556.5 776.9L554.6 778.0L554.6 778.0L554.5 778.0L553.1 779.7L553.1 779.7L553.1 779.7L553.1 779.7L553.0 779.7L553.0 779.8L553.0 779.8L553.0 779.8L552.9 779.8L551.0 779.9L551.0 779.9L551.0 779.9L550.0 781.0L550.0 781.0L548.2 782.7L548.2 782.7L548.2 782.8L548.2 782.8L548.1 782.8L548.1 782.8L548.1 782.8L546.5 783.2L546.5 783.2L546.5 783.2L545.4 784.2L545.4 784.2L544.1 785.9L544.0 786.0L544.0 786.0L544.0 786.0L544.0 786.0L543.9 786.0L543.9 786.0L541.7 786.9L541.7 786.9L541.6 786.9L540.1 787.1L540.1 787.1L538.7 787.4L538.7 787.4L537.0 788.0L537.0 788.0L537.0 788.0L535.1 789.5L535.1 789.5L535.1 789.6L534.0 791.0L534.0 791.0L534.0 791.0L534.0 791.0L532.4 792.2L532.4 792.2L532.4 792.2L530.7 794.0L530.6 794.0L530.6 794.0L530.6 794.0L530.6 794.0L530.5 794.1L530.5 794.1L530.5 794.1L528.4 794.2L528.3 794.2L528.3 794.2L526.0 794.0L526.0 794.0L526.0 794.0L524.9 793.7L524.8 793.6L523.3 793.0L523.3 793.0L523.3 793.0L521.4 793.8L521.3 793.8L521.3 793.8L521.3 793.8L519.5 793.9L519.5 793.9L519.5 793.9L519.4 793.9L519.4 793.9L519.4 793.9L519.4 793.9L519.3 793.9L518.0 793.0L518.0 793.0L518.0 793.0L516.2 794.2L516.2 794.2L516.2 794.2L515.0 796.0L515.0 796.0L515.0 796.0L516.1 797.6L516.1 797.6L516.1 797.6L517.9 798.9L517.9 798.9L517.9 798.9L517.9 799.0L517.9 799.0L518.0 799.0L518.0 799.0L518.0 799.1L518.0 799.1L518.0 799.1L518.0 799.2L517.8 801.4L517.8 801.4L517.8 801.4L517.8 801.5L517.8 801.5L517.8 801.5L517.7 801.5L517.7 801.6L517.7 801.6L517.7 801.6L516.0 802.8L516.0 802.8L516.0 802.8L515.0 804.0L515.0 804.0L515.0 804.0L515.0 804.0L513.6 804.9L513.6 804.9L513.6 804.9L512.0 807.0L512.0 807.0L510.7 808.6L510.6 808.6L509.8 810.0L509.8 810.0L509.7 810.0L508.8 811.1L508.8 811.1L508.8 811.1L508.7 811.1L508.7 811.1L507.0 812.0L507.0 812.0L507.0 812.0L505.8 813.8L505.8 813.8L505.7 813.8L505.7 813.9L505.7 813.9L504.2 814.9L504.2 814.9L503.1 815.6L503.0 815.6L501.9 816.1L501.9 816.1L501.9 816.1L501.9 816.1L501.8 816.1L501.8 816.1L500.0 816.0L500.0 816.0L500.0 816.0L498.4 816.3L498.4 816.3L498.4 816.3L497.6 817.4L497.6 817.4L497.5 817.5L497.5 817.5L496.0 818.7L495.9 818.7L495.9 818.7L495.9 818.7L495.9 818.7L495.8 818.7L495.8 818.7L493.5 818.9L493.5 818.9L491.8 819.1L491.8 819.1L491.7 819.1L491.7 819.1L491.7 819.1L491.7 819.1L491.6 819.1L491.6 819.1L491.6 819.1L490.0 818.0L490.0 818.0L490.0 818.0L488.1 818.8L488.1 818.8L488.0 818.8L488.0 818.9L488.0 818.9L487.9 818.9L487.9 818.9L487.9 818.8L487.9 818.8L487.8 818.8L486.6 818.2L486.6 818.2L486.6 818.2L484.7 818.5L484.6 818.5L482.1 818.7L482.1 818.7L482.1 818.7L480.0 820.0L480.0 820.0L480.0 820.0L480.0 820.0L478.1 820.4L478.1 820.4L478.1 820.4L476.7 821.4L476.7 821.4L476.7 821.4L476.6 821.4L476.6 821.4L476.6 821.4L474.1 821.8L474.1 821.8L474.1 821.8L472.0 823.0L472.0 823.0L472.0 823.0L470.7 824.0L470.7 824.1L470.6 824.1L470.6 824.1L470.6 824.1L468.6 824.6L468.5 824.6L466.0 825.0L466.0 825.0L464.7 825.2L464.7 825.2L463.3 825.3L463.2 825.3L463.2 825.3L463.2 825.3L463.1 825.2L463.1 825.2L463.1 825.2L461.4 824.2L461.4 824.2L461.4 824.2L459.9 823.6L459.9 823.6L459.9 823.6L458.3 823.5L458.3 823.5L456.1 823.0L456.1 823.0L456.0 823.0L456.0 823.0L456.0 823.0L456.0 823.0L455.9 822.9L454.3 821.2L454.3 821.2L454.2 821.2L452.4 820.5L452.4 820.5L452.4 820.5L452.3 820.5L452.3 820.5L452.3 820.5L452.3 820.4L451.5 819.3L451.5 819.3L451.5 819.3L449.5 819.0L449.5 819.0L449.5 819.0L448.4 819.6L448.4 819.6L448.3 819.6L448.3 819.6L448.3 819.6L448.3 819.6L448.2 819.6L448.2 819.6L448.2 819.6L446.0 819.0L446.0 819.0L444.5 818.6L444.5 818.6L444.5 818.6L443.2 819.0L443.2 819.0L443.1 819.0L443.1 819.0L443.1 819.0L440.8 818.8L440.8 818.8L440.7 818.8L440.7 818.7L440.7 818.7L440.7 818.7L440.6 818.7L440.6 818.7L439.6 817.6L439.6 817.6L438.6 816.7L438.6 816.7L438.6 816.7L437.3 816.5L437.3 816.5L437.3 816.5L436.0 816.0L436.0 816.0L436.0 816.0L435.0 816.7L434.9 816.8L434.9 816.8L434.9 816.8L434.8 816.8L434.8 816.8L433.6 816.9L433.5 816.9L433.5 816.9L433.5 816.9L431.4 816.5L431.4 816.5L431.4 816.5L430.0 817.3L430.0 817.4L430.0 817.4L429.9 817.4L429.9 817.4L429.9 817.4L428.4 817.5L428.4 817.5L428.3 817.5L428.3 817.5L426.0 817.0L426.0 817.0L426.0 817.0L426.0 817.0L424.7 816.3L424.7 816.3L424.7 816.3L424.7 816.3L423.2 814.8L423.2 814.8L423.2 814.8L421.6 814.1L421.6 814.1L421.6 814.1L419.8 813.8L419.8 813.8L419.7 813.8L417.9 815.4L417.9 815.4L417.9 815.4L417.8 815.4L416.3 816.1L416.3 816.1L416.3 816.1L416.2 816.1L415.0 816.3L415.0 816.3L415.0 816.3L415.0 816.3L414.9 816.3L414.9 816.3L413.0 815.6L413.0 815.6L413.0 815.6L411.4 816.5L411.4 816.5L411.4 816.5L411.4 816.6L411.3 816.6L411.3 816.6L411.3 816.6L411.2 816.6L409.6 816.3L409.6 816.3L409.6 816.3L409.5 816.3L408.4 815.8L408.4 815.8L407.1 815.0L407.0 815.0L407.0 815.0L407.0 815.0L407.0 815.0L407.0 814.9L405.8 813.1L405.8 813.1L405.7 813.0L405.7 813.0L405.7 813.0L405.7 812.9L405.7 812.9L405.7 812.9L405.7 812.9L405.7 812.8L406.3 810.9L406.3 810.9L406.3 810.9L406.2 809.4L406.2 809.4L406.2 809.4L404.0 808.3L404.0 808.3L404.0 808.3L404.0 808.2L403.9 808.2L403.9 808.2L403.9 808.2L403.9 808.1L403.2 806.6L403.2 806.6L403.2 806.6L402.1 806.0L402.1 806.0L402.0 806.0L402.0 806.0L402.0 806.0L402.0 805.9L402.0 805.9L400.9 804.3L400.9 804.2L400.9 804.2L400.9 804.2L400.5 802.6L400.5 802.6L400.5 802.6L400.0 801.5L400.0 801.5L399.9 801.5L399.9 801.5L399.9 801.4L399.9 801.4L400.0 800.0L400.0 800.0L400.0 800.0L398.6 799.0L398.6 799.0L398.6 799.0L396.4 798.0L396.4 798.0L395.1 797.2L395.1 797.2L395.1 797.2L393.6 797.4L393.6 797.4L393.5 797.4L393.5 797.4L393.5 797.4L393.4 797.3L393.4 797.3L393.4 797.3L393.4 797.3L393.3 797.3L392.0 796.0L392.0 796.0L392.0 796.0L390.7 796.0L390.7 796.0L390.7 796.0L390.6 796.0L390.6 796.0L390.6 796.0L389.3 795.2L389.3 795.2L389.3 795.2L387.1 795.7L387.1 795.7L387.1 795.7L387.0 795.7L387.0 795.7L387.0 795.7L386.9 795.7L385.4 795.0L385.4 795.0L385.4 794.9L385.4 794.9L385.3 794.9L385.3 794.9L384.0 793.0L384.0 793.0L384.0 793.0L382.7 793.4L382.7 793.4L382.7 793.4L382.6 793.4L382.6 793.4L381.3 793.2L381.3 793.2L381.3 793.2L379.6 793.6L379.6 793.6L379.5 793.6L379.5 793.6L378.0 793.5L378.0 793.5L378.0 793.5L378.0 793.5L377.9 793.5L377.9 793.5L377.9 793.4L376.0 792.0L376.0 792.0L376.0 792.0L373.6 791.4L373.6 791.4L373.6 791.4L372.1 792.2L372.1 792.2L372.1 792.2L372.1 792.2L372.0 792.2L372.0 792.2L372.0 792.2L371.9 792.2L371.9 792.2L371.9 792.2L370.1 791.5L370.1 791.5L368.4 791.0L368.4 791.0L368.4 791.0L367.2 791.0L367.2 791.0L367.1 791.0L367.1 791.0L367.1 791.0L367.1 791.0L367.0 790.9L367.0 790.9L367.0 790.9L367.0 790.9L367.0 790.9L366.9 790.8L366.9 790.8L366.4 789.5L366.4 789.5L366.2 788.4L366.2 788.4L365.9 786.7L365.9 786.7L365.9 786.7L365.1 786.1L365.1 786.1L365.1 786.1L365.1 786.1L365.1 786.0L365.1 786.0L365.1 786.0L365.0 786.0L365.0 785.9L365.0 785.9L365.0 785.9L365.0 785.8L365.0 785.8L365.3 784.8L365.3 784.7L365.3 784.7L365.0 783.4L365.0 783.3L365.0 783.3L365.0 783.3L365.0 783.2L365.0 783.2L365.0 783.2L365.8 781.2L365.8 781.2L365.8 781.1L365.9 781.1L365.9 781.1L367.0 780.0L367.0 780.0L367.0 780.0L367.5 777.8L367.5 777.8L367.5 777.8L367.2 776.4L367.2 776.4L367.2 776.4L366.7 775.0L366.7 775.0L366.2 774.0L366.2 774.0L366.2 773.9L366.2 773.9L366.0 772.0L366.0 772.0L366.0 772.0L364.8 770.1L364.8 770.1L364.7 770.1L364.7 770.0L364.1 767.7L364.1 767.7L364.1 767.7L363.2 765.9L363.2 765.9L363.2 765.9L362.0 765.0L362.0 765.0L362.0 765.0L362.0 765.0L360.8 763.3L360.8 763.3L360.8 763.3L359.3 762.8L359.3 762.8L359.3 762.8L357.3 762.7L357.3 762.7L357.2 762.7L357.2 762.7L357.2 762.7L357.2 762.7L356.0 762.0L356.0 762.0L356.0 762.0L354.3 760.5L354.3 760.5L354.3 760.5L352.4 760.2L352.4 760.2L352.3 760.2L352.3 760.2L352.3 760.2L352.3 760.2L352.2 760.1L351.0 759.0L351.0 759.0L351.0 759.0L349.1 758.3L349.1 758.3L349.0 758.3L349.0 758.3L349.0 758.3L349.0 758.2L348.9 758.2L348.9 758.2L348.1 756.9L348.1 756.9L348.1 756.8L347.7 755.7L347.6 755.7L347.6 755.7L346.2 755.1L346.2 755.1L346.2 755.1L346.1 755.0L346.1 755.0L346.1 755.0L346.1 755.0L346.1 754.9L346.0 754.9L346.0 754.9L346.0 754.9L346.0 754.8L346.0 754.8L346.0 754.8L346.2 753.6L346.2 753.6L346.2 753.6L345.7 752.0L345.7 752.0L345.7 752.0L345.1 751.1L345.1 751.0L344.0 749.6L344.0 749.6L344.0 749.6L342.4 749.7L342.4 749.7L342.4 749.7L341.5 750.3L341.4 750.3L341.4 750.3L341.4 750.3L341.4 750.3L339.5 750.5L339.5 750.5L339.4 750.5L339.4 750.5L339.4 750.5L339.3 750.5L339.3 750.5L339.3 750.5L338.0 749.6L338.0 749.6L338.0 749.6L337.3 751.1L337.3 751.1L337.3 751.1L337.5 752.7L337.5 752.8L337.5 752.8L337.5 752.8L337.4 752.9L337.4 752.9L336.9 754.1L336.9 754.1L336.9 754.2L336.8 754.2L336.8 754.2L336.0 755.0L336.0 755.0L336.0 755.0L336.0 755.0L335.9 755.0L334.1 755.7L334.1 755.7L334.1 755.7L332.9 757.8L332.9 757.8L332.9 757.8L332.9 757.8L332.9 757.9L332.8 757.9L332.8 757.9L332.8 757.9L332.8 757.9L332.7 757.9L331.1 758.2L331.1 758.2L331.1 758.3L330.0 759.0L330.0 759.0L330.0 759.0L329.5 760.2L329.5 760.2L329.5 760.2L329.2 762.2L329.2 762.2L329.1 763.8L329.1 763.8L329.0 764.9L329.0 764.9L329.0 765.0L329.0 765.0L329.0 765.0L329.0 765.0L329.0 765.1L328.9 765.1L327.4 767.0L327.4 767.0L327.4 767.0L327.0 768.6L327.0 768.6L327.0 768.6L327.0 769.7L327.0 769.8L327.0 769.8L327.0 769.8L327.0 769.9L327.0 769.9L326.9 769.9L326.9 769.9L326.9 770.0L326.9 770.0L326.9 770.0L326.8 770.0L326.8 770.0L326.8 770.0L326.8 770.0L324.7 770.4L324.7 770.4L324.7 770.4L324.3 771.4L324.3 771.4L324.3 771.4L324.3 771.5L324.3 771.5L324.2 771.5L323.2 772.3L323.1 772.4L323.1 772.4L323.1 772.4L323.1 772.4L323.0 772.4L323.0 772.4L323.0 772.4L322.9 772.4L322.9 772.4L322.9 772.4L321.4 771.9L321.4 771.9L321.4 771.9L320.1 772.0L320.0 772.0L320.0 772.0L320.0 772.0L320.0 772.0L319.9 772.0L318.7 771.5L318.7 771.5L318.7 771.5L317.4 771.8L317.4 771.8L317.3 771.8L317.3 771.8L314.9 771.6L314.8 771.6L314.8 771.6L314.8 771.6L312.7 770.9L312.7 770.9L312.7 770.9L311.0 771.0L311.0 771.0L311.0 771.0L310.8 773.5L310.8 773.5L310.8 773.5L310.8 773.6L310.1 775.5L310.0 775.6L310.0 775.6L310.0 775.6L309.0 777.0L309.0 777.0L307.4 778.6L307.4 778.6L307.4 778.6L307.4 781.0L307.4 781.0L307.4 781.1L307.4 781.1L307.4 781.1L307.4 781.1L307.4 781.2L306.6 782.3L306.5 782.3L306.5 782.3L306.0 784.0L306.0 784.0L306.0 784.0L305.9 785.9L305.9 786.0L305.9 786.0L305.9 786.0L305.9 786.0L305.9 786.1L305.8 786.1L305.8 786.1L305.0 787.0L305.0 787.0L305.0 787.0L305.0 788.8L305.0 788.8L305.0 788.9L305.0 788.9L305.0 788.9L305.0 788.9L304.9 789.0L304.9 789.0L304.9 789.0L304.9 789.0L304.9 789.0L304.8 789.1L304.8 789.1L303.1 789.8L303.1 789.8L303.1 789.8L301.3 791.3L301.2 791.3L301.2 791.3L301.2 791.3L301.2 791.3L301.1 791.3L301.1 791.4L299.7 791.5L299.6 791.5L299.6 791.5L299.6 791.5L299.5 791.5L298.0 791.0L298.0 791.0L298.0 791.0L295.8 791.1L295.7 791.1L295.7 791.1L294.5 792.2L294.5 792.2L294.4 792.2L294.4 792.2L294.4 792.2L293.2 792.6L293.2 792.6L293.2 792.6L293.1 792.6L293.1 792.6L293.1 792.6L291.3 792.3L291.3 792.3L291.3 792.3L290.0 793.0L290.0 793.0L289.0 793.6L289.0 793.6L289.0 793.6L290.3 795.3L290.3 795.3L290.3 795.4L290.3 795.4L290.9 797.2L290.9 797.2L290.9 797.2L290.9 797.3L290.9 798.7L290.9 798.7L291.0 800.0L291.0 800.0L291.0 800.0L292.0 800.9L292.0 801.0L292.0 801.0L292.0 801.0L292.0 801.0L292.0 801.1L292.1 801.1L292.1 801.1L292.3 803.1L292.3 803.2L292.3 803.2L292.1 804.6L292.1 804.6L291.8 806.0L291.8 806.0L291.8 806.0L292.9 807.9L292.9 807.9L293.0 807.9L293.0 808.0L293.0 808.0L293.0 808.0L293.0 808.0L293.0 808.1L293.0 808.1L292.9 808.1L292.3 809.8L292.3 809.8L291.6 811.3L291.6 811.3L291.6 811.3L291.6 813.0L291.6 813.0L291.6 813.0L292.0 814.9L292.0 815.0L292.0 815.0L292.0 815.0L292.0 815.0L292.0 815.1L291.4 816.8L291.4 816.8L291.4 816.8L290.9 817.9L290.9 817.9L290.9 817.9L290.8 817.9L290.8 818.0L290.8 818.0L289.4 818.8L289.4 818.8L288.0 820.0L288.0 820.0L288.0 820.0L286.4 822.0L286.4 822.0L286.4 822.0L286.4 822.0L284.5 823.2L284.5 823.2L284.5 823.2L283.3 824.4L283.3 824.5L283.2 824.5L283.2 824.5L283.2 824.5L282.0 825.0L282.0 825.0L280.5 825.8L280.4 825.8L280.4 825.8L280.4 825.8L280.3 825.8L280.3 825.8L280.3 825.8L278.4 825.5L278.3 825.5L278.3 825.5L277.7 826.9L277.7 826.9L277.7 826.9L277.6 826.9L277.6 827.0L277.6 827.0L277.6 827.0L277.6 827.0L276.3 827.6L276.3 827.6L276.3 827.6L275.0 828.6L275.0 828.6L275.0 828.6L275.0 828.6L274.0 829.0L274.0 829.0L272.0 829.8L272.0 829.8L272.0 829.8L270.9 830.7L270.9 830.7L270.9 830.7L270.0 831.8L269.9 831.8L269.9 831.9L269.9 831.9L269.9 831.9L269.8 831.9L269.8 831.9L268.4 832.3L268.4 832.3L266.0 833.0L266.0 833.0L266.0 833.0L264.1 834.4L264.1 834.4L262.6 835.4L262.6 835.5L262.5 835.5L262.5 835.5L262.5 835.5L260.9 835.8L260.9 835.8L259.0 836.0L259.0 836.0L259.0 836.0L258.1 836.8L258.1 836.8L257.1 837.9L257.1 837.9L257.0 837.9L257.0 838.0L257.0 838.0L257.0 838.0L256.9 838.0L256.9 838.0L256.9 838.0L255.6 838.0L255.6 838.0L255.6 838.0L253.9 838.8L253.9 838.8L252.3 839.4L252.3 839.5L252.3 839.5L252.2 839.5L252.2 839.5L252.2 839.5L252.1 839.5L252.1 839.5L252.1 839.4L251.0 839.0L251.0 839.0L251.0 839.0L249.6 840.0L249.6 840.0L249.6 840.1L248.7 841.6L248.7 841.7L248.7 841.7L248.7 841.7L247.4 842.9L247.4 842.9L247.4 843.0L247.4 843.0L247.3 843.0L247.3 843.0L247.3 843.0L247.2 843.0L247.2 843.0L246.0 843.0L246.0 843.0L246.0 843.0L245.5 845.3L245.5 845.3L245.4 845.4L245.4 845.4L245.4 845.4L245.4 845.4L244.0 847.0ZM495.0 1018.0L495.0 1018.0L496.9 1019.5L496.9 1019.5L497.0 1019.5L497.0 1019.5L498.0 1021.0L498.0 1021.0L498.0 1021.0L500.5 1021.0L502.0 1021.0L502.0 1021.0L502.0 1021.0L502.8 1020.1L502.9 1020.0L502.9 1020.0L504.1 1019.1L504.1 1019.1L506.0 1018.0L506.0 1018.0L506.0 1018.0L507.1 1016.0L507.1 1016.0L507.1 1015.9L507.1 1015.9L508.0 1015.0L508.0 1015.0L509.0 1014.0L509.0 1014.0L509.0 1014.0L510.2 1012.2L510.2 1012.2L510.2 1012.2L511.0 1010.0L511.0 1010.0L511.0 1010.0L510.0 1008.8L510.0 1008.8L509.0 1008.0L509.0 1008.0L509.0 1008.0L507.7 1007.6L507.7 1007.6L507.7 1007.6L506.2 1007.4L506.2 1007.4L504.6 1007.5L504.6 1007.5L504.6 1007.5L503.0 1008.0L503.0 1008.0L500.6 1008.6L500.6 1008.6L500.6 1008.6L499.5 1009.2L499.5 1009.2L498.0 1010.0L498.0 1010.0L498.0 1010.0L496.8 1011.6L496.8 1011.6L496.7 1011.7L496.7 1011.7L495.0 1013.0L495.0 1013.0L495.0 1013.0L495.0 1015.2L495.0 1015.2L495.1 1016.3L495.1 1016.3L495.1 1016.3L495.0 1018.0Z" fill="none" stroke="#9c9498" stroke-width="0.9" stroke-opacity="0.85"/>
<path d="M585.0 967.0L586.8 968.3L588.7 968.7L588.2 971.2L588.2 973.0L587.5 975.0L587.0 976.6L586.6 979.1L585.8 980.9L585.0 982.5L584.2 983.8L583.4 986.1L583.2 987.7L582.5 990.0L581.0 991.6L580.0 993.7L579.0 992.0L578.2 990.9L577.5 988.7L576.4 986.4L576.2 984.7L576.2 982.5L576.4 981.1L577.1 979.6L577.3 978.3L577.5 976.2L578.0 974.2L579.2 972.6L580.2 970.9L581.2 970.0L583.0 968.3Z" fill="#fff" stroke="#a3a8ac" stroke-width="0.9"><title>台湾</title></path>

<g id="islands" fill="none" stroke="#a9adb0" stroke-width="0.9" stroke-linecap="round">
<path d="M499 1037L502 1043"/><path d="M568 1037L568 1045"/><path d="M572 1017L574 1022"/><path d="M585 1001L588 997"/>
<path d="M595 973L594.4 979"/><path d="M572.4 980L572 983"/><path d="M562.5 1010L564 1006" stroke-opacity="0"/>
<path d="M531 1040.5C533 1038 536 1037 538 1037.5C537 1040 534 1041.5 531 1040.5Z"/>
<g stroke-width="0.8" stroke="#b6babd"><path d="M514 1030l.6 .8"/><path d="M515 1035l.8 .5"/><path d="M520 1033l.5 1"/><path d="M522 1037l.8 .6"/><path d="M551 1035.6l.8 .4"/><path d="M559 1044l.7 .5"/><path d="M542 1053l.8 .3"/><path d="M587 993l.6 .6"/><path d="M589 995l.6 .6"/><path d="M601 963l.9 -.3"/><path d="M607 961.6l.9 -.2"/><path d="M546 1000l.7 .4"/><path d="M551 1002l.7 .3"/><path d="M517 1040l.6 .9"/><path d="M512 1038l.6 .5"/></g>
</g>
<g id="inset">
<rect x="645.2" y="918.5" width="54.4" height="83.2" fill="#fff" stroke="#bdbdbd" stroke-width="1.1"/>
<path d="M645.8 921.2L648 921.6L650 924.5L652.6 926.8L651.6 928.2L648.6 927L646.6 924Z" fill="#777" stroke="none"/>
<path d="M698.9 927.6L699.4 930.2L698 928.8Z" fill="#777"/>
<g fill="none" stroke="#b4b4b4" stroke-width="0.7"><path d="M645.3 939C649 943 652 948 652.3 954C652.4 958 651 961 645.5 962.5"/><path d="M645.4 952.8L652 953.3"/><path d="M645.4 965L647.5 964"/></g>
<g fill="none" stroke="#d9d9d9" stroke-width="0.7"><path d="M658.4 992.5L659.4 999L663 1000L665 996.2L668.8 994.4L674.4 998L677 993.5L680 987.8L683.8 986.8L687.5 988.8"/><path d="M682 977.6L685.6 975.6L688.4 981.2"/><path d="M691.2 985H695M692.2 987.8H695"/><path d="M655 930C660 926 668 924 676 922" stroke-opacity="0.6"/><path d="M657 933L661 937L660 943" stroke-opacity="0.5"/><path d="M688 963L676 977" stroke-opacity="0.7"/></g>
<g fill="#6a6a6a"><circle cx="694" cy="937.8" r="1.25"/><circle cx="692.2" cy="948.4" r="1.25"/><circle cx="691.7" cy="963.2" r="1.25"/><circle cx="681.6" cy="977.7" r="1.25"/><circle cx="668.6" cy="992.3" r="1.25"/><circle cx="652.3" cy="980" r="1.25"/><circle cx="659.8" cy="961.7" r="1.25"/><circle cx="657.7" cy="948.4" r="1.25"/></g>
</g>

</g>
<g id="logo">
<path d="M679.40 1096.25L672.05 1108.98L671.11 1099.95L671.11 1092.55Z" fill="#c4202c"/>
<path d="M672.05 1108.98L657.35 1108.98L664.70 1103.65L671.11 1099.95Z" fill="#e4505a"/>
<path d="M657.35 1108.98L650.00 1096.25L658.29 1099.95L664.70 1103.65Z" fill="#a81822"/>
<path d="M650.00 1096.25L657.35 1083.52L658.29 1092.55L658.29 1099.95Z" fill="#d63440"/>
<path d="M657.35 1083.52L672.05 1083.52L664.70 1088.85L658.29 1092.55Z" fill="#b81c28"/>
<path d="M672.05 1083.52L679.40 1096.25L671.11 1092.55L664.70 1088.85Z" fill="#e85a64"/>
<text x="685" y="1099.4" font-size="17" letter-spacing="5.5" fill="#1c1c1c" font-style="italic" font-weight="700" class="sf">上观</text>
<text x="683" y="1108.2" font-size="5.3" fill="#555" class="cj" textLength="45.7" lengthAdjust="spacingAndGlyphs">Shanghai Observer</text>
</g>
</svg>
</body></html>
